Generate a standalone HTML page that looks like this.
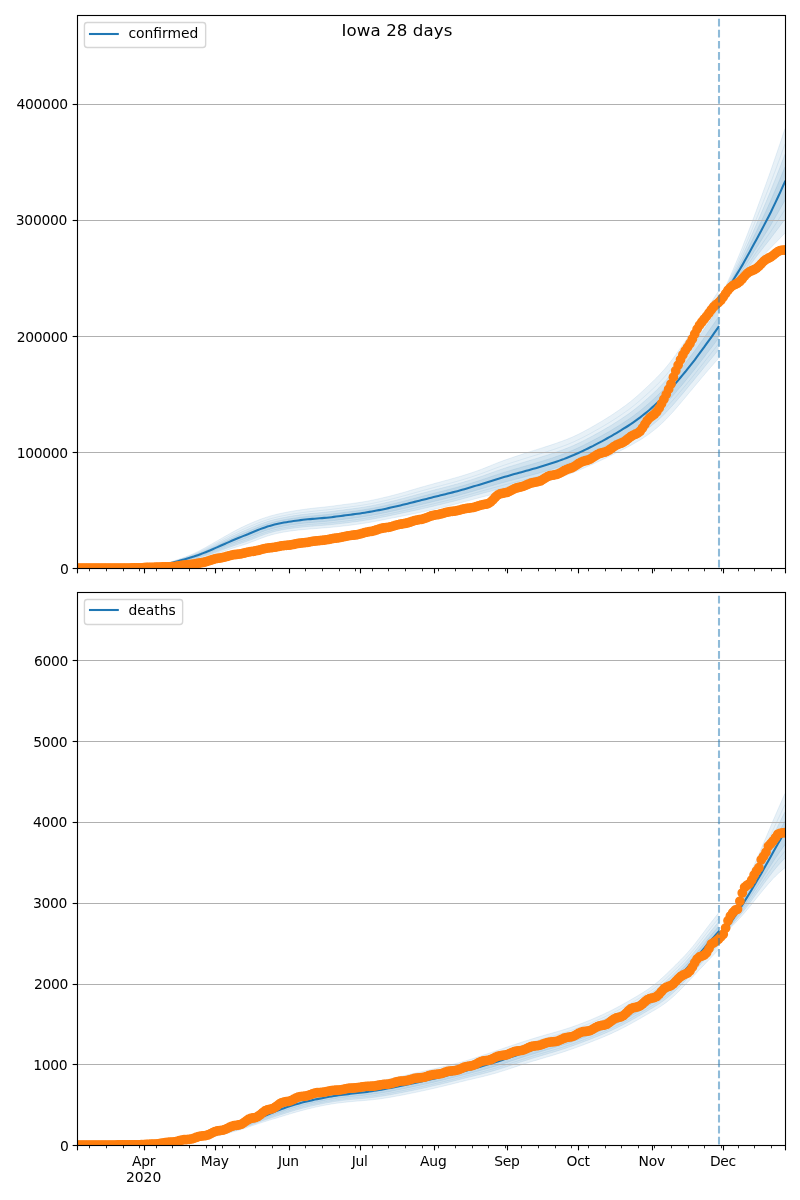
<!DOCTYPE html>
<html lang="en">
<head>
<meta charset="utf-8">
<title>Iowa 28 days</title>
<style>html,body{margin:0;padding:0;background:#fff}svg{display:block}</style>
</head>
<body>
<svg width="800" height="1200" viewBox="0 0 800 1200" font-family="'DejaVu Sans', 'Liberation Sans', sans-serif" font-size="13.89px" fill="#000">
<rect width="800" height="1200" fill="#fff"/>
<clipPath id="c1"><rect x="77.5" y="15.5" width="708" height="553"/></clipPath>
<g clip-path="url(#c1)">
<path d="M77.4 567.8 L79.8 567.8 L82.1 567.8 L84.5 567.8 L86.9 567.79 L89.3 567.79 L91.6 567.79 L94 567.78 L96.4 567.78 L98.8 567.77 L101.1 567.77 L103.5 567.76 L105.9 567.76 L108.3 567.75 L110.6 567.74 L113 567.73 L115.4 567.71 L117.8 567.7 L120.1 567.67 L122.5 567.64 L124.9 567.61 L127.3 567.56 L129.6 567.5 L132 567.43 L134.4 567.34 L136.8 567.24 L139.1 567.11 L141.5 566.96 L143.9 566.78 L146.3 566.56 L148.6 566.31 L151 566.02 L153.4 565.7 L155.8 565.34 L158.1 564.93 L160.5 564.47 L162.9 563.96 L165.3 563.39 L167.6 562.76 L170 562.08 L172.4 561.35 L174.8 560.58 L177.1 559.79 L179.5 558.99 L181.9 558.16 L184.3 557.32 L186.6 556.44 L189 555.51 L191.4 554.53 L193.8 553.49 L196.1 552.38 L198.5 551.2 L200.9 549.98 L203.2 548.71 L205.6 547.41 L208 546.08 L210.4 544.74 L212.7 543.38 L215.1 542.02 L217.5 540.66 L219.9 539.29 L222.2 537.93 L224.6 536.57 L227 535.23 L229.4 533.89 L231.7 532.57 L234.1 531.28 L236.5 530.01 L238.9 528.77 L241.2 527.58 L243.6 526.43 L246 525.32 L248.4 524.25 L250.7 523.21 L253.1 522.2 L255.5 521.22 L257.9 520.27 L260.2 519.36 L262.6 518.5 L265 517.68 L267.4 516.92 L269.7 516.2 L272.1 515.53 L274.5 514.9 L276.9 514.31 L279.2 513.75 L281.6 513.23 L284 512.73 L286.4 512.26 L288.7 511.82 L291.1 511.39 L293.5 510.98 L295.9 510.59 L298.2 510.21 L300.6 509.85 L303 509.51 L305.4 509.18 L307.7 508.87 L310.1 508.57 L312.5 508.29 L314.8 508.02 L317.2 507.77 L319.6 507.52 L322 507.27 L324.3 507.02 L326.7 506.75 L329.1 506.48 L331.5 506.19 L333.8 505.89 L336.2 505.57 L338.6 505.26 L341 504.94 L343.3 504.62 L345.7 504.31 L348.1 504 L350.5 503.7 L352.8 503.39 L355.2 503.07 L357.6 502.73 L360 502.37 L362.3 501.99 L364.7 501.59 L367.1 501.16 L369.5 500.7 L371.8 500.22 L374.2 499.73 L376.6 499.21 L379 498.69 L381.3 498.14 L383.7 497.59 L386.1 497.02 L388.5 496.44 L390.8 495.85 L393.2 495.24 L395.6 494.62 L398 493.98 L400.3 493.32 L402.7 492.65 L405.1 491.97 L407.5 491.27 L409.8 490.57 L412.2 489.86 L414.6 489.15 L417 488.45 L419.3 487.76 L421.7 487.07 L424.1 486.4 L426.5 485.73 L428.8 485.07 L431.2 484.41 L433.6 483.76 L435.9 483.11 L438.3 482.46 L440.7 481.82 L443.1 481.17 L445.4 480.53 L447.8 479.88 L450.2 479.22 L452.6 478.56 L454.9 477.89 L457.3 477.21 L459.7 476.51 L462.1 475.8 L464.4 475.07 L466.8 474.33 L469.2 473.57 L471.6 472.78 L473.9 471.98 L476.3 471.16 L478.7 470.31 L481.1 469.43 L483.4 468.51 L485.8 467.58 L488.2 466.62 L490.6 465.65 L492.9 464.67 L495.3 463.71 L497.7 462.77 L500.1 461.86 L502.4 460.97 L504.8 460.11 L507.2 459.28 L509.6 458.46 L511.9 457.66 L514.3 456.87 L516.7 456.08 L519.1 455.3 L521.4 454.51 L523.8 453.73 L526.2 452.95 L528.6 452.18 L530.9 451.4 L533.3 450.64 L535.7 449.88 L538.1 449.13 L540.4 448.38 L542.8 447.63 L545.2 446.87 L547.6 446.11 L549.9 445.34 L552.3 444.56 L554.7 443.76 L557 442.95 L559.4 442.11 L561.8 441.26 L564.2 440.37 L566.5 439.46 L568.9 438.5 L571.3 437.5 L573.7 436.46 L576 435.37 L578.4 434.23 L580.8 433.04 L583.2 431.81 L585.5 430.53 L587.9 429.23 L590.3 427.89 L592.7 426.54 L595 425.16 L597.4 423.78 L599.8 422.38 L602.2 420.96 L604.5 419.52 L606.9 418.05 L609.3 416.55 L611.7 415.02 L614 413.46 L616.4 411.86 L618.8 410.23 L621.2 408.57 L623.5 406.87 L625.9 405.13 L628.3 403.33 L630.7 401.47 L633 399.53 L635.4 397.52 L637.8 395.45 L640.2 393.31 L642.5 391.14 L644.9 388.93 L647.3 386.71 L649.7 384.46 L652 382.19 L654.4 379.88 L656.8 377.52 L659.2 375.08 L661.5 372.54 L663.9 369.88 L666.3 367.09 L668.6 364.16 L671 361.11 L673.4 357.94 L675.8 354.66 L678.1 351.3 L680.5 347.9 L682.9 344.46 L685.3 341 L687.6 337.55 L690 334.1 L692.4 330.63 L694.8 327.14 L697.1 323.63 L699.5 320.08 L701.9 316.49 L704.3 312.88 L706.6 309.25 L709 305.61 L711.4 301.98 L713.8 298.35 L716.1 294.73 L718.5 291.11 L718.5 358.41 L716.1 361.11 L713.8 363.81 L711.4 366.52 L709 369.26 L706.6 372.02 L704.3 374.79 L701.9 377.6 L699.5 380.42 L697.1 383.25 L694.8 386.09 L692.4 388.94 L690 391.8 L687.6 394.65 L685.3 397.49 L682.9 400.33 L680.5 403.15 L678.1 405.94 L675.8 408.7 L673.4 411.4 L671 414.04 L668.6 416.6 L666.3 419.07 L663.9 421.43 L661.5 423.7 L659.2 425.85 L656.8 427.91 L654.4 429.87 L652 431.74 L649.7 433.53 L647.3 435.24 L644.9 436.87 L642.5 438.44 L640.2 439.93 L637.8 441.37 L635.4 442.76 L633 444.1 L630.7 445.4 L628.3 446.68 L625.9 447.93 L623.5 449.16 L621.2 450.38 L618.8 451.6 L616.4 452.8 L614 454 L611.7 455.18 L609.3 456.35 L606.9 457.51 L604.5 458.65 L602.2 459.77 L599.8 460.89 L597.4 461.99 L595 463.08 L592.7 464.17 L590.3 465.24 L587.9 466.3 L585.5 467.35 L583.2 468.39 L580.8 469.42 L578.4 470.43 L576 471.42 L573.7 472.38 L571.3 473.32 L568.9 474.24 L566.5 475.12 L564.2 475.97 L561.8 476.79 L559.4 477.59 L557 478.37 L554.7 479.13 L552.3 479.87 L549.9 480.59 L547.6 481.29 L545.2 481.98 L542.8 482.64 L540.4 483.28 L538.1 483.9 L535.7 484.5 L533.3 485.08 L530.9 485.65 L528.6 486.2 L526.2 486.75 L523.8 487.29 L521.4 487.82 L519.1 488.36 L516.7 488.89 L514.3 489.43 L511.9 489.97 L509.6 490.51 L507.2 491.05 L504.8 491.6 L502.4 492.14 L500.1 492.69 L497.7 493.24 L495.3 493.8 L492.9 494.36 L490.6 494.93 L488.2 495.5 L485.8 496.08 L483.4 496.68 L481.1 497.29 L478.7 497.91 L476.3 498.54 L473.9 499.18 L471.6 499.82 L469.2 500.47 L466.8 501.11 L464.4 501.76 L462.1 502.4 L459.7 503.03 L457.3 503.66 L454.9 504.27 L452.6 504.88 L450.2 505.48 L447.8 506.07 L445.4 506.65 L443.1 507.23 L440.7 507.8 L438.3 508.37 L435.9 508.93 L433.6 509.48 L431.2 510.02 L428.8 510.55 L426.5 511.08 L424.1 511.6 L421.7 512.11 L419.3 512.61 L417 513.1 L414.6 513.59 L412.2 514.07 L409.8 514.55 L407.5 515.03 L405.1 515.5 L402.7 515.97 L400.3 516.44 L398 516.92 L395.6 517.39 L393.2 517.87 L390.8 518.34 L388.5 518.82 L386.1 519.29 L383.7 519.75 L381.3 520.21 L379 520.67 L376.6 521.12 L374.2 521.56 L371.8 521.99 L369.5 522.41 L367.1 522.81 L364.7 523.2 L362.3 523.57 L360 523.92 L357.6 524.26 L355.2 524.58 L352.8 524.89 L350.5 525.19 L348.1 525.49 L345.7 525.77 L343.3 526.05 L341 526.33 L338.6 526.59 L336.2 526.85 L333.8 527.09 L331.5 527.32 L329.1 527.53 L326.7 527.74 L324.3 527.93 L322 528.11 L319.6 528.29 L317.2 528.47 L314.8 528.65 L312.5 528.84 L310.1 529.03 L307.7 529.23 L305.4 529.43 L303 529.65 L300.6 529.88 L298.2 530.12 L295.9 530.39 L293.5 530.67 L291.1 530.99 L288.7 531.33 L286.4 531.7 L284 532.1 L281.6 532.54 L279.2 533.02 L276.9 533.53 L274.5 534.1 L272.1 534.71 L269.7 535.38 L267.4 536.11 L265 536.9 L262.6 537.75 L260.2 538.64 L257.9 539.57 L255.5 540.51 L253.1 541.44 L250.7 542.35 L248.4 543.22 L246 544.05 L243.6 544.83 L241.2 545.59 L238.9 546.32 L236.5 547.05 L234.1 547.79 L231.7 548.55 L229.4 549.33 L227 550.12 L224.6 550.93 L222.2 551.75 L219.9 552.57 L217.5 553.37 L215.1 554.16 L212.7 554.92 L210.4 555.64 L208 556.32 L205.6 556.96 L203.2 557.56 L200.9 558.13 L198.5 558.66 L196.1 559.17 L193.8 559.67 L191.4 560.14 L189 560.61 L186.6 561.08 L184.3 561.55 L181.9 562.03 L179.5 562.52 L177.1 563.03 L174.8 563.55 L172.4 564.06 L170 564.56 L167.6 565.04 L165.3 565.48 L162.9 565.87 L160.5 566.22 L158.1 566.52 L155.8 566.79 L153.4 567.03 L151 567.24 L148.6 567.42 L146.3 567.58 L143.9 567.72 L141.5 567.84 L139.1 567.94 L136.8 568.02 L134.4 568.09 L132 568.15 L129.6 568.19 L127.3 568.22 L124.9 568.24 L122.5 568.26 L120.1 568.27 L117.8 568.27 L115.4 568.27 L113 568.26 L110.6 568.26 L108.3 568.25 L105.9 568.24 L103.5 568.24 L101.1 568.23 L98.8 568.23 L96.4 568.22 L94 568.22 L91.6 568.21 L89.3 568.21 L86.9 568.21 L84.5 568.2 L82.1 568.2 L79.8 568.2 L77.4 568.2Z" fill="#1f77b4" fill-opacity="0.1"/>
<path d="M718.5 302.09 L720.9 296.94 L723.3 291.76 L725.6 286.53 L728 281.22 L730.4 275.84 L732.8 270.37 L735.1 264.8 L737.5 259.11 L739.9 253.3 L742.3 247.38 L744.6 241.35 L747 235.24 L749.4 229.06 L751.8 222.81 L754.1 216.5 L756.5 210.07 L758.9 203.51 L761.3 197 L763.6 190.48 L766 183.9 L768.4 177.26 L770.8 170.52 L773.1 163.68 L775.5 156.76 L777.9 149.76 L780.3 142.72 L782.6 135.66 L785 128.6 L785 233.11 L782.6 235.48 L780.3 237.91 L777.9 240.38 L775.5 242.86 L773.1 245.33 L770.8 247.79 L768.4 250.22 L766 252.66 L763.6 255.11 L761.3 257.59 L758.9 260.15 L756.5 262.79 L754.1 265.52 L751.8 268.32 L749.4 271.16 L747 274 L744.6 276.82 L742.3 279.55 L739.9 282.14 L737.5 284.6 L735.1 286.95 L732.8 289.2 L730.4 291.37 L728 293.48 L725.6 295.52 L723.3 297.52 L720.9 299.49 L718.5 301.44Z" fill="#1f77b4" fill-opacity="0.1"/>
<path d="M77.4 567.9 L79.8 567.9 L82.1 567.89 L84.5 567.89 L86.9 567.89 L89.3 567.89 L91.6 567.89 L94 567.89 L96.4 567.89 L98.8 567.88 L101.1 567.88 L103.5 567.88 L105.9 567.87 L108.3 567.87 L110.6 567.86 L113 567.86 L115.4 567.85 L117.8 567.83 L120.1 567.82 L122.5 567.79 L124.9 567.76 L127.3 567.72 L129.6 567.67 L132 567.6 L134.4 567.52 L136.8 567.43 L139.1 567.31 L141.5 567.17 L143.9 567 L146.3 566.81 L148.6 566.58 L151 566.32 L153.4 566.02 L155.8 565.69 L158.1 565.31 L160.5 564.89 L162.9 564.42 L165.3 563.89 L167.6 563.31 L170 562.68 L172.4 562 L174.8 561.3 L177.1 560.57 L179.5 559.83 L181.9 559.09 L184.3 558.33 L186.6 557.55 L189 556.74 L191.4 555.88 L193.8 554.97 L196.1 554 L198.5 552.99 L200.9 551.93 L203.2 550.83 L205.6 549.7 L208 548.55 L210.4 547.37 L212.7 546.18 L215.1 544.97 L217.5 543.76 L219.9 542.54 L222.2 541.32 L224.6 540.11 L227 538.9 L229.4 537.7 L231.7 536.52 L234.1 535.36 L236.5 534.22 L238.9 533.11 L241.2 532.03 L243.6 530.97 L246 529.94 L248.4 528.92 L250.7 527.91 L253.1 526.92 L255.5 525.94 L257.9 524.98 L260.2 524.06 L262.6 523.18 L265 522.35 L267.4 521.57 L269.7 520.85 L272.1 520.18 L274.5 519.55 L276.9 518.98 L279.2 518.44 L281.6 517.94 L284 517.46 L286.4 517.02 L288.7 516.6 L291.1 516.2 L293.5 515.82 L295.9 515.46 L298.2 515.11 L300.6 514.78 L303 514.46 L305.4 514.16 L307.7 513.88 L310.1 513.62 L312.5 513.37 L314.8 513.13 L317.2 512.91 L319.6 512.69 L322 512.47 L324.3 512.24 L326.7 511.99 L329.1 511.73 L331.5 511.45 L333.8 511.16 L336.2 510.85 L338.6 510.53 L341 510.22 L343.3 509.9 L345.7 509.59 L348.1 509.29 L350.5 508.98 L352.8 508.67 L355.2 508.35 L357.6 508.02 L360 507.68 L362.3 507.31 L364.7 506.92 L367.1 506.51 L369.5 506.08 L371.8 505.63 L374.2 505.16 L376.6 504.68 L379 504.18 L381.3 503.67 L383.7 503.15 L386.1 502.61 L388.5 502.06 L390.8 501.49 L393.2 500.92 L395.6 500.33 L398 499.73 L400.3 499.12 L402.7 498.49 L405.1 497.86 L407.5 497.21 L409.8 496.56 L412.2 495.91 L414.6 495.26 L417 494.61 L419.3 493.96 L421.7 493.32 L424.1 492.68 L426.5 492.05 L428.8 491.42 L431.2 490.79 L433.6 490.17 L435.9 489.55 L438.3 488.93 L440.7 488.31 L443.1 487.69 L445.4 487.07 L447.8 486.45 L450.2 485.83 L452.6 485.19 L454.9 484.55 L457.3 483.89 L459.7 483.22 L462.1 482.54 L464.4 481.84 L466.8 481.12 L469.2 480.39 L471.6 479.64 L473.9 478.88 L476.3 478.1 L478.7 477.31 L481.1 476.49 L483.4 475.66 L485.8 474.82 L488.2 473.96 L490.6 473.09 L492.9 472.23 L495.3 471.38 L497.7 470.54 L500.1 469.72 L502.4 468.92 L504.8 468.14 L507.2 467.37 L509.6 466.62 L511.9 465.88 L514.3 465.14 L516.7 464.42 L519.1 463.69 L521.4 462.97 L523.8 462.25 L526.2 461.53 L528.6 460.81 L530.9 460.1 L533.3 459.38 L535.7 458.66 L538.1 457.94 L540.4 457.22 L542.8 456.48 L545.2 455.74 L547.6 454.98 L549.9 454.22 L552.3 453.44 L554.7 452.64 L557 451.83 L559.4 451 L561.8 450.14 L564.2 449.26 L566.5 448.35 L568.9 447.4 L571.3 446.41 L573.7 445.39 L576 444.32 L578.4 443.21 L580.8 442.07 L583.2 440.89 L585.5 439.68 L587.9 438.45 L590.3 437.19 L592.7 435.91 L595 434.61 L597.4 433.3 L599.8 431.97 L602.2 430.62 L604.5 429.25 L606.9 427.86 L609.3 426.44 L611.7 425 L614 423.52 L616.4 422.02 L618.8 420.5 L621.2 418.95 L623.5 417.37 L625.9 415.75 L628.3 414.09 L630.7 412.37 L633 410.59 L635.4 408.75 L637.8 406.84 L640.2 404.88 L642.5 402.86 L644.9 400.8 L647.3 398.71 L649.7 396.58 L652 394.4 L654.4 392.19 L656.8 389.91 L659.2 387.55 L661.5 385.11 L663.9 382.56 L666.3 379.91 L668.6 377.16 L671 374.3 L673.4 371.35 L675.8 368.33 L678.1 365.25 L680.5 362.12 L682.9 358.95 L685.3 355.77 L687.6 352.57 L690 349.35 L692.4 346.1 L694.8 342.81 L697.1 339.48 L699.5 336.1 L701.9 332.68 L704.3 329.23 L706.6 325.76 L709 322.28 L711.4 318.8 L713.8 315.32 L716.1 311.84 L718.5 308.37 L718.5 349.95 L716.1 352.81 L713.8 355.68 L711.4 358.56 L709 361.45 L706.6 364.36 L704.3 367.28 L701.9 370.21 L699.5 373.14 L697.1 376.07 L694.8 378.99 L692.4 381.9 L690 384.79 L687.6 387.68 L685.3 390.55 L682.9 393.4 L680.5 396.23 L678.1 399.03 L675.8 401.8 L673.4 404.52 L671 407.17 L668.6 409.75 L666.3 412.25 L663.9 414.65 L661.5 416.95 L659.2 419.16 L656.8 421.27 L654.4 423.29 L652 425.23 L649.7 427.1 L647.3 428.89 L644.9 430.61 L642.5 432.26 L640.2 433.85 L637.8 435.38 L635.4 436.86 L633 438.29 L630.7 439.68 L628.3 441.03 L625.9 442.35 L623.5 443.65 L621.2 444.93 L618.8 446.2 L616.4 447.46 L614 448.71 L611.7 449.95 L609.3 451.17 L606.9 452.37 L604.5 453.56 L602.2 454.73 L599.8 455.88 L597.4 457.03 L595 458.16 L592.7 459.28 L590.3 460.38 L587.9 461.48 L585.5 462.56 L583.2 463.62 L580.8 464.67 L578.4 465.71 L576 466.72 L573.7 467.71 L571.3 468.66 L568.9 469.59 L566.5 470.49 L564.2 471.36 L561.8 472.2 L559.4 473.01 L557 473.8 L554.7 474.58 L552.3 475.33 L549.9 476.07 L547.6 476.79 L545.2 477.49 L542.8 478.17 L540.4 478.83 L538.1 479.47 L535.7 480.09 L533.3 480.7 L530.9 481.29 L528.6 481.87 L526.2 482.45 L523.8 483.02 L521.4 483.58 L519.1 484.15 L516.7 484.72 L514.3 485.29 L511.9 485.87 L509.6 486.44 L507.2 487.02 L504.8 487.61 L502.4 488.2 L500.1 488.79 L497.7 489.39 L495.3 489.99 L492.9 490.6 L490.6 491.21 L488.2 491.83 L485.8 492.46 L483.4 493.09 L481.1 493.74 L478.7 494.39 L476.3 495.05 L473.9 495.71 L471.6 496.38 L469.2 497.04 L466.8 497.7 L464.4 498.36 L462.1 499.01 L459.7 499.65 L457.3 500.28 L454.9 500.9 L452.6 501.5 L450.2 502.1 L447.8 502.69 L445.4 503.28 L443.1 503.86 L440.7 504.44 L438.3 505.01 L435.9 505.58 L433.6 506.14 L431.2 506.7 L428.8 507.24 L426.5 507.79 L424.1 508.33 L421.7 508.86 L419.3 509.39 L417 509.91 L414.6 510.43 L412.2 510.94 L409.8 511.45 L407.5 511.95 L405.1 512.46 L402.7 512.96 L400.3 513.46 L398 513.96 L395.6 514.46 L393.2 514.95 L390.8 515.45 L388.5 515.93 L386.1 516.42 L383.7 516.89 L381.3 517.37 L379 517.83 L376.6 518.28 L374.2 518.72 L371.8 519.15 L369.5 519.57 L367.1 519.97 L364.7 520.36 L362.3 520.73 L360 521.08 L357.6 521.42 L355.2 521.75 L352.8 522.06 L350.5 522.36 L348.1 522.66 L345.7 522.95 L343.3 523.24 L341 523.52 L338.6 523.8 L336.2 524.07 L333.8 524.33 L331.5 524.57 L329.1 524.8 L326.7 525.02 L324.3 525.22 L322 525.41 L319.6 525.59 L317.2 525.77 L314.8 525.96 L312.5 526.15 L310.1 526.34 L307.7 526.55 L305.4 526.77 L303 527 L300.6 527.24 L298.2 527.5 L295.9 527.78 L293.5 528.08 L291.1 528.4 L288.7 528.75 L286.4 529.13 L284 529.54 L281.6 529.98 L279.2 530.45 L276.9 530.97 L274.5 531.53 L272.1 532.15 L269.7 532.82 L267.4 533.55 L265 534.34 L262.6 535.18 L260.2 536.08 L257.9 537.01 L255.5 537.95 L253.1 538.9 L250.7 539.83 L248.4 540.73 L246 541.59 L243.6 542.42 L241.2 543.23 L238.9 544.02 L236.5 544.82 L234.1 545.63 L231.7 546.46 L229.4 547.3 L227 548.17 L224.6 549.04 L222.2 549.93 L219.9 550.81 L217.5 551.68 L215.1 552.54 L212.7 553.38 L210.4 554.18 L208 554.94 L205.6 555.67 L203.2 556.37 L200.9 557.02 L198.5 557.65 L196.1 558.25 L193.8 558.83 L191.4 559.39 L189 559.93 L186.6 560.45 L184.3 560.98 L181.9 561.51 L179.5 562.05 L177.1 562.59 L174.8 563.15 L172.4 563.7 L170 564.23 L167.6 564.73 L165.3 565.19 L162.9 565.61 L160.5 565.98 L158.1 566.31 L155.8 566.6 L153.4 566.85 L151 567.07 L148.6 567.27 L146.3 567.44 L143.9 567.59 L141.5 567.72 L139.1 567.83 L136.8 567.92 L134.4 567.99 L132 568.05 L129.6 568.1 L127.3 568.13 L124.9 568.16 L122.5 568.18 L120.1 568.19 L117.8 568.19 L115.4 568.19 L113 568.19 L110.6 568.19 L108.3 568.18 L105.9 568.18 L103.5 568.17 L101.1 568.17 L98.8 568.17 L96.4 568.16 L94 568.16 L91.6 568.16 L89.3 568.15 L86.9 568.15 L84.5 568.15 L82.1 568.15 L79.8 568.15 L77.4 568.15Z" fill="#1f77b4" fill-opacity="0.1"/>
<path d="M718.5 301.92 L720.9 297.62 L723.3 293.29 L725.6 288.91 L728 284.47 L730.4 279.95 L732.8 275.35 L735.1 270.66 L737.5 265.86 L739.9 260.94 L742.3 255.9 L744.6 250.77 L747 245.55 L749.4 240.27 L751.8 234.95 L754.1 229.58 L756.5 224.15 L758.9 218.63 L761.3 213.12 L763.6 207.59 L766 201.99 L768.4 196.31 L770.8 190.53 L773.1 184.64 L775.5 178.65 L777.9 172.58 L780.3 166.45 L782.6 160.28 L785 154.1 L785 219.24 L782.6 222.38 L780.3 225.55 L777.9 228.75 L775.5 231.92 L773.1 235.07 L770.8 238.18 L768.4 241.24 L766 244.27 L763.6 247.28 L761.3 250.3 L758.9 253.36 L756.5 256.48 L754.1 259.65 L751.8 262.86 L749.4 266.1 L747 269.34 L744.6 272.54 L742.3 275.66 L739.9 278.65 L737.5 281.51 L735.1 284.27 L732.8 286.92 L730.4 289.49 L728 291.99 L725.6 294.43 L723.3 296.82 L720.9 299.18 L718.5 301.52Z" fill="#1f77b4" fill-opacity="0.1"/>
<path d="M77.4 567.94 L79.8 567.94 L82.1 567.94 L84.5 567.94 L86.9 567.94 L89.3 567.94 L91.6 567.94 L94 567.94 L96.4 567.94 L98.8 567.94 L101.1 567.94 L103.5 567.93 L105.9 567.93 L108.3 567.93 L110.6 567.93 L113 567.92 L115.4 567.91 L117.8 567.9 L120.1 567.89 L122.5 567.87 L124.9 567.84 L127.3 567.8 L129.6 567.75 L132 567.69 L134.4 567.61 L136.8 567.52 L139.1 567.41 L141.5 567.28 L143.9 567.12 L146.3 566.93 L148.6 566.71 L151 566.46 L153.4 566.18 L155.8 565.86 L158.1 565.5 L160.5 565.1 L162.9 564.65 L165.3 564.14 L167.6 563.58 L170 562.97 L172.4 562.33 L174.8 561.65 L177.1 560.96 L179.5 560.26 L181.9 559.55 L184.3 558.84 L186.6 558.11 L189 557.35 L191.4 556.55 L193.8 555.71 L196.1 554.82 L198.5 553.88 L200.9 552.9 L203.2 551.89 L205.6 550.85 L208 549.78 L210.4 548.68 L212.7 547.57 L215.1 546.44 L217.5 545.31 L219.9 544.16 L222.2 543.02 L224.6 541.87 L227 540.74 L229.4 539.61 L231.7 538.49 L234.1 537.4 L236.5 536.32 L238.9 535.27 L241.2 534.25 L243.6 533.24 L246 532.24 L248.4 531.25 L250.7 530.26 L253.1 529.28 L255.5 528.3 L257.9 527.34 L260.2 526.41 L262.6 525.52 L265 524.68 L267.4 523.9 L269.7 523.17 L272.1 522.5 L274.5 521.88 L276.9 521.31 L279.2 520.78 L281.6 520.29 L284 519.83 L286.4 519.4 L288.7 518.99 L291.1 518.61 L293.5 518.24 L295.9 517.89 L298.2 517.56 L300.6 517.24 L303 516.94 L305.4 516.66 L307.7 516.39 L310.1 516.14 L312.5 515.91 L314.8 515.69 L317.2 515.48 L319.6 515.27 L322 515.06 L324.3 514.85 L326.7 514.61 L329.1 514.36 L331.5 514.09 L333.8 513.79 L336.2 513.49 L338.6 513.17 L341 512.85 L343.3 512.54 L345.7 512.23 L348.1 511.93 L350.5 511.62 L352.8 511.31 L355.2 511 L357.6 510.67 L360 510.33 L362.3 509.97 L364.7 509.58 L367.1 509.19 L369.5 508.77 L371.8 508.33 L374.2 507.88 L376.6 507.41 L379 506.93 L381.3 506.44 L383.7 505.93 L386.1 505.4 L388.5 504.87 L390.8 504.32 L393.2 503.76 L395.6 503.19 L398 502.6 L400.3 502.01 L402.7 501.41 L405.1 500.8 L407.5 500.18 L409.8 499.56 L412.2 498.94 L414.6 498.31 L417 497.68 L419.3 497.06 L421.7 496.44 L424.1 495.82 L426.5 495.2 L428.8 494.59 L431.2 493.98 L433.6 493.37 L435.9 492.76 L438.3 492.16 L440.7 491.55 L443.1 490.95 L445.4 490.34 L447.8 489.74 L450.2 489.13 L452.6 488.51 L454.9 487.88 L457.3 487.24 L459.7 486.58 L462.1 485.91 L464.4 485.22 L466.8 484.52 L469.2 483.8 L471.6 483.07 L473.9 482.33 L476.3 481.57 L478.7 480.8 L481.1 480.03 L483.4 479.23 L485.8 478.43 L488.2 477.63 L490.6 476.82 L492.9 476.01 L495.3 475.21 L497.7 474.43 L500.1 473.65 L502.4 472.89 L504.8 472.15 L507.2 471.42 L509.6 470.7 L511.9 469.99 L514.3 469.28 L516.7 468.58 L519.1 467.89 L521.4 467.2 L523.8 466.51 L526.2 465.82 L528.6 465.13 L530.9 464.44 L533.3 463.75 L535.7 463.05 L538.1 462.35 L540.4 461.64 L542.8 460.91 L545.2 460.17 L547.6 459.42 L549.9 458.66 L552.3 457.88 L554.7 457.08 L557 456.27 L559.4 455.44 L561.8 454.58 L564.2 453.7 L566.5 452.79 L568.9 451.85 L571.3 450.87 L573.7 449.85 L576 448.8 L578.4 447.71 L580.8 446.59 L583.2 445.44 L585.5 444.26 L587.9 443.06 L590.3 441.83 L592.7 440.59 L595 439.33 L597.4 438.06 L599.8 436.76 L602.2 435.45 L604.5 434.12 L606.9 432.77 L609.3 431.39 L611.7 429.98 L614 428.56 L616.4 427.1 L618.8 425.63 L621.2 424.14 L623.5 422.62 L625.9 421.06 L628.3 419.47 L630.7 417.83 L633 416.13 L635.4 414.36 L637.8 412.54 L640.2 410.66 L642.5 408.72 L644.9 406.74 L647.3 404.71 L649.7 402.63 L652 400.51 L654.4 398.34 L656.8 396.1 L659.2 393.79 L661.5 391.39 L663.9 388.91 L666.3 386.33 L668.6 383.65 L671 380.9 L673.4 378.06 L675.8 375.17 L678.1 372.22 L680.5 369.23 L682.9 366.2 L685.3 363.15 L687.6 360.08 L690 356.97 L692.4 353.83 L694.8 350.64 L697.1 347.4 L699.5 344.11 L701.9 340.78 L704.3 337.41 L706.6 334.02 L709 330.62 L711.4 327.21 L713.8 323.8 L716.1 320.4 L718.5 317 L718.5 338.35 L716.1 341.44 L713.8 344.54 L711.4 347.64 L709 350.75 L706.6 353.86 L704.3 356.98 L701.9 360.08 L699.5 363.16 L697.1 366.22 L694.8 369.25 L692.4 372.24 L690 375.2 L687.6 378.13 L685.3 381.03 L682.9 383.9 L680.5 386.75 L678.1 389.56 L675.8 392.34 L673.4 395.08 L671 397.75 L668.6 400.37 L666.3 402.9 L663.9 405.35 L661.5 407.72 L659.2 409.99 L656.8 412.18 L654.4 414.28 L652 416.31 L649.7 418.28 L647.3 420.18 L644.9 422.02 L642.5 423.8 L640.2 425.52 L637.8 427.17 L635.4 428.78 L633 430.33 L630.7 431.83 L628.3 433.28 L625.9 434.7 L623.5 436.09 L621.2 437.46 L618.8 438.81 L616.4 440.15 L614 441.47 L611.7 442.78 L609.3 444.07 L606.9 445.34 L604.5 446.58 L602.2 447.81 L599.8 449.03 L597.4 450.23 L595 451.41 L592.7 452.58 L590.3 453.73 L587.9 454.87 L585.5 455.99 L583.2 457.09 L580.8 458.18 L578.4 459.24 L576 460.28 L573.7 461.3 L571.3 462.28 L568.9 463.23 L566.5 464.15 L564.2 465.04 L561.8 465.9 L559.4 466.73 L557 467.54 L554.7 468.33 L552.3 469.11 L549.9 469.87 L547.6 470.61 L545.2 471.33 L542.8 472.04 L540.4 472.73 L538.1 473.4 L535.7 474.05 L533.3 474.69 L530.9 475.32 L528.6 475.94 L526.2 476.55 L523.8 477.17 L521.4 477.78 L519.1 478.39 L516.7 479.01 L514.3 479.62 L511.9 480.25 L509.6 480.87 L507.2 481.51 L504.8 482.14 L502.4 482.79 L500.1 483.44 L497.7 484.1 L495.3 484.77 L492.9 485.44 L490.6 486.12 L488.2 486.8 L485.8 487.49 L483.4 488.18 L481.1 488.88 L478.7 489.57 L476.3 490.27 L473.9 490.97 L471.6 491.66 L469.2 492.35 L466.8 493.03 L464.4 493.7 L462.1 494.36 L459.7 495.01 L457.3 495.64 L454.9 496.27 L452.6 496.88 L450.2 497.48 L447.8 498.07 L445.4 498.66 L443.1 499.24 L440.7 499.83 L438.3 500.41 L435.9 500.99 L433.6 501.56 L431.2 502.14 L428.8 502.71 L426.5 503.28 L424.1 503.84 L421.7 504.41 L419.3 504.97 L417 505.53 L414.6 506.09 L412.2 506.64 L409.8 507.2 L407.5 507.75 L405.1 508.29 L402.7 508.83 L400.3 509.37 L398 509.9 L395.6 510.43 L393.2 510.96 L390.8 511.47 L388.5 511.98 L386.1 512.49 L383.7 512.98 L381.3 513.46 L379 513.93 L376.6 514.39 L374.2 514.83 L371.8 515.27 L369.5 515.68 L367.1 516.09 L364.7 516.47 L362.3 516.85 L360 517.2 L357.6 517.54 L355.2 517.86 L352.8 518.17 L350.5 518.48 L348.1 518.78 L345.7 519.08 L343.3 519.38 L341 519.68 L338.6 519.97 L336.2 520.27 L333.8 520.55 L331.5 520.81 L329.1 521.06 L326.7 521.29 L324.3 521.5 L322 521.7 L319.6 521.89 L317.2 522.08 L314.8 522.26 L312.5 522.46 L310.1 522.66 L307.7 522.88 L305.4 523.12 L303 523.36 L300.6 523.63 L298.2 523.91 L295.9 524.21 L293.5 524.52 L291.1 524.86 L288.7 525.22 L286.4 525.6 L284 526.02 L281.6 526.46 L279.2 526.94 L276.9 527.45 L274.5 528.02 L272.1 528.63 L269.7 529.3 L267.4 530.03 L265 530.82 L262.6 531.67 L260.2 532.57 L257.9 533.5 L255.5 534.46 L253.1 535.42 L250.7 536.37 L248.4 537.3 L246 538.22 L243.6 539.11 L241.2 539.99 L238.9 540.87 L236.5 541.76 L234.1 542.67 L231.7 543.59 L229.4 544.53 L227 545.49 L224.6 546.45 L222.2 547.43 L219.9 548.4 L217.5 549.37 L215.1 550.32 L212.7 551.26 L210.4 552.17 L208 553.05 L205.6 553.91 L203.2 554.73 L200.9 555.51 L198.5 556.27 L196.1 556.99 L193.8 557.68 L191.4 558.35 L189 558.98 L186.6 559.59 L184.3 560.19 L181.9 560.79 L179.5 561.39 L177.1 561.99 L174.8 562.6 L172.4 563.19 L170 563.77 L167.6 564.31 L165.3 564.81 L162.9 565.26 L160.5 565.66 L158.1 566.01 L155.8 566.33 L153.4 566.6 L151 566.85 L148.6 567.07 L146.3 567.26 L143.9 567.42 L141.5 567.56 L139.1 567.68 L136.8 567.77 L134.4 567.85 L132 567.92 L129.6 567.97 L127.3 568.01 L124.9 568.04 L122.5 568.06 L120.1 568.08 L117.8 568.09 L115.4 568.09 L113 568.09 L110.6 568.09 L108.3 568.09 L105.9 568.09 L103.5 568.09 L101.1 568.08 L98.8 568.08 L96.4 568.08 L94 568.08 L91.6 568.08 L89.3 568.08 L86.9 568.07 L84.5 568.07 L82.1 568.07 L79.8 568.07 L77.4 568.07Z" fill="#1f77b4" fill-opacity="0.1"/>
<path d="M718.5 301.84 L720.9 297.95 L723.3 294.05 L725.6 290.1 L728 286.09 L730.4 282.01 L732.8 277.85 L735.1 273.59 L737.5 269.24 L739.9 264.76 L742.3 260.16 L744.6 255.47 L747 250.7 L749.4 245.88 L751.8 241.02 L754.1 236.12 L756.5 231.18 L758.9 226.19 L761.3 221.19 L763.6 216.14 L766 211.03 L768.4 205.83 L770.8 200.53 L773.1 195.12 L775.5 189.6 L777.9 183.99 L780.3 178.31 L782.6 172.59 L785 166.85 L785 200.22 L782.6 204.42 L780.3 208.62 L777.9 212.81 L775.5 216.94 L773.1 221.02 L770.8 225.01 L768.4 228.93 L766 232.77 L763.6 236.55 L761.3 240.31 L758.9 244.06 L756.5 247.82 L754.1 251.59 L751.8 255.38 L749.4 259.16 L747 262.94 L744.6 266.67 L742.3 270.33 L739.9 273.87 L737.5 277.28 L735.1 280.59 L732.8 283.8 L730.4 286.91 L728 289.96 L725.6 292.94 L723.3 295.87 L720.9 298.76 L718.5 301.63Z" fill="#1f77b4" fill-opacity="0.1"/>
<path d="M77.4 567.8 L79.8 567.8 L82.1 567.8 L84.5 567.8 L86.9 567.79 L89.3 567.79 L91.6 567.79 L94 567.78 L96.4 567.78 L98.8 567.77 L101.1 567.77 L103.5 567.76 L105.9 567.76 L108.3 567.75 L110.6 567.74 L113 567.73 L115.4 567.71 L117.8 567.7 L120.1 567.67 L122.5 567.64 L124.9 567.61 L127.3 567.56 L129.6 567.5 L132 567.43 L134.4 567.34 L136.8 567.24 L139.1 567.11 L141.5 566.96 L143.9 566.78 L146.3 566.56 L148.6 566.31 L151 566.02 L153.4 565.7 L155.8 565.34 L158.1 564.93 L160.5 564.47 L162.9 563.96 L165.3 563.39 L167.6 562.76 L170 562.08 L172.4 561.35 L174.8 560.58 L177.1 559.79 L179.5 558.99 L181.9 558.16 L184.3 557.32 L186.6 556.44 L189 555.51 L191.4 554.53 L193.8 553.49 L196.1 552.38 L198.5 551.2 L200.9 549.98 L203.2 548.71 L205.6 547.41 L208 546.08 L210.4 544.74 L212.7 543.38 L215.1 542.02 L217.5 540.66 L219.9 539.29 L222.2 537.93 L224.6 536.57 L227 535.23 L229.4 533.89 L231.7 532.57 L234.1 531.28 L236.5 530.01 L238.9 528.77 L241.2 527.58 L243.6 526.43 L246 525.32 L248.4 524.25 L250.7 523.21 L253.1 522.2 L255.5 521.22 L257.9 520.27 L260.2 519.36 L262.6 518.5 L265 517.68 L267.4 516.92 L269.7 516.2 L272.1 515.53 L274.5 514.9 L276.9 514.31 L279.2 513.75 L281.6 513.23 L284 512.73 L286.4 512.26 L288.7 511.82 L291.1 511.39 L293.5 510.98 L295.9 510.59 L298.2 510.21 L300.6 509.85 L303 509.51 L305.4 509.18 L307.7 508.87 L310.1 508.57 L312.5 508.29 L314.8 508.02 L317.2 507.77 L319.6 507.52 L322 507.27 L324.3 507.02 L326.7 506.75 L329.1 506.48 L331.5 506.19 L333.8 505.89 L336.2 505.57 L338.6 505.26 L341 504.94 L343.3 504.62 L345.7 504.31 L348.1 504 L350.5 503.7 L352.8 503.39 L355.2 503.07 L357.6 502.73 L360 502.37 L362.3 501.99 L364.7 501.59 L367.1 501.16 L369.5 500.7 L371.8 500.22 L374.2 499.73 L376.6 499.21 L379 498.69 L381.3 498.14 L383.7 497.59 L386.1 497.02 L388.5 496.44 L390.8 495.85 L393.2 495.24 L395.6 494.62 L398 493.98 L400.3 493.32 L402.7 492.65 L405.1 491.97 L407.5 491.27 L409.8 490.57 L412.2 489.86 L414.6 489.15 L417 488.45 L419.3 487.76 L421.7 487.07 L424.1 486.4 L426.5 485.73 L428.8 485.07 L431.2 484.41 L433.6 483.76 L435.9 483.11 L438.3 482.46 L440.7 481.82 L443.1 481.17 L445.4 480.53 L447.8 479.88 L450.2 479.22 L452.6 478.56 L454.9 477.89 L457.3 477.21 L459.7 476.51 L462.1 475.8 L464.4 475.07 L466.8 474.33 L469.2 473.57 L471.6 472.78 L473.9 471.98 L476.3 471.16 L478.7 470.31 L481.1 469.43 L483.4 468.51 L485.8 467.58 L488.2 466.62 L490.6 465.65 L492.9 464.67 L495.3 463.71 L497.7 462.77 L500.1 461.86 L502.4 460.97 L504.8 460.11 L507.2 459.28 L509.6 458.46 L511.9 457.66 L514.3 456.87 L516.7 456.08 L519.1 455.3 L521.4 454.51 L523.8 453.73 L526.2 452.95 L528.6 452.18 L530.9 451.4 L533.3 450.64 L535.7 449.88 L538.1 449.13 L540.4 448.38 L542.8 447.63 L545.2 446.87 L547.6 446.11 L549.9 445.34 L552.3 444.56 L554.7 443.76 L557 442.95 L559.4 442.11 L561.8 441.26 L564.2 440.37 L566.5 439.46 L568.9 438.5 L571.3 437.5 L573.7 436.46 L576 435.37 L578.4 434.23 L580.8 433.04 L583.2 431.81 L585.5 430.53 L587.9 429.23 L590.3 427.89 L592.7 426.54 L595 425.16 L597.4 423.78 L599.8 422.38 L602.2 420.96 L604.5 419.52 L606.9 418.05 L609.3 416.55 L611.7 415.02 L614 413.46 L616.4 411.86 L618.8 410.23 L621.2 408.57 L623.5 406.87 L625.9 405.13 L628.3 403.33 L630.7 401.47 L633 399.53 L635.4 397.52 L637.8 395.45 L640.2 393.31 L642.5 391.14 L644.9 388.93 L647.3 386.71 L649.7 384.46 L652 382.19 L654.4 379.88 L656.8 377.52 L659.2 375.08 L661.5 372.54 L663.9 369.88 L666.3 367.09 L668.6 364.16 L671 361.11 L673.4 357.94 L675.8 354.66 L678.1 351.3 L680.5 347.9 L682.9 344.46 L685.3 341 L687.6 337.55 L690 334.1 L692.4 330.63 L694.8 327.14 L697.1 323.63 L699.5 320.08 L701.9 316.49 L704.3 312.88 L706.6 309.25 L709 305.61 L711.4 301.98 L713.8 298.35 L716.1 294.73 L718.5 291.11 M77.4 568.2 L79.8 568.2 L82.1 568.2 L84.5 568.2 L86.9 568.21 L89.3 568.21 L91.6 568.21 L94 568.22 L96.4 568.22 L98.8 568.23 L101.1 568.23 L103.5 568.24 L105.9 568.24 L108.3 568.25 L110.6 568.26 L113 568.26 L115.4 568.27 L117.8 568.27 L120.1 568.27 L122.5 568.26 L124.9 568.24 L127.3 568.22 L129.6 568.19 L132 568.15 L134.4 568.09 L136.8 568.02 L139.1 567.94 L141.5 567.84 L143.9 567.72 L146.3 567.58 L148.6 567.42 L151 567.24 L153.4 567.03 L155.8 566.79 L158.1 566.52 L160.5 566.22 L162.9 565.87 L165.3 565.48 L167.6 565.04 L170 564.56 L172.4 564.06 L174.8 563.55 L177.1 563.03 L179.5 562.52 L181.9 562.03 L184.3 561.55 L186.6 561.08 L189 560.61 L191.4 560.14 L193.8 559.67 L196.1 559.17 L198.5 558.66 L200.9 558.13 L203.2 557.56 L205.6 556.96 L208 556.32 L210.4 555.64 L212.7 554.92 L215.1 554.16 L217.5 553.37 L219.9 552.57 L222.2 551.75 L224.6 550.93 L227 550.12 L229.4 549.33 L231.7 548.55 L234.1 547.79 L236.5 547.05 L238.9 546.32 L241.2 545.59 L243.6 544.83 L246 544.05 L248.4 543.22 L250.7 542.35 L253.1 541.44 L255.5 540.51 L257.9 539.57 L260.2 538.64 L262.6 537.75 L265 536.9 L267.4 536.11 L269.7 535.38 L272.1 534.71 L274.5 534.1 L276.9 533.53 L279.2 533.02 L281.6 532.54 L284 532.1 L286.4 531.7 L288.7 531.33 L291.1 530.99 L293.5 530.67 L295.9 530.39 L298.2 530.12 L300.6 529.88 L303 529.65 L305.4 529.43 L307.7 529.23 L310.1 529.03 L312.5 528.84 L314.8 528.65 L317.2 528.47 L319.6 528.29 L322 528.11 L324.3 527.93 L326.7 527.74 L329.1 527.53 L331.5 527.32 L333.8 527.09 L336.2 526.85 L338.6 526.59 L341 526.33 L343.3 526.05 L345.7 525.77 L348.1 525.49 L350.5 525.19 L352.8 524.89 L355.2 524.58 L357.6 524.26 L360 523.92 L362.3 523.57 L364.7 523.2 L367.1 522.81 L369.5 522.41 L371.8 521.99 L374.2 521.56 L376.6 521.12 L379 520.67 L381.3 520.21 L383.7 519.75 L386.1 519.29 L388.5 518.82 L390.8 518.34 L393.2 517.87 L395.6 517.39 L398 516.92 L400.3 516.44 L402.7 515.97 L405.1 515.5 L407.5 515.03 L409.8 514.55 L412.2 514.07 L414.6 513.59 L417 513.1 L419.3 512.61 L421.7 512.11 L424.1 511.6 L426.5 511.08 L428.8 510.55 L431.2 510.02 L433.6 509.48 L435.9 508.93 L438.3 508.37 L440.7 507.8 L443.1 507.23 L445.4 506.65 L447.8 506.07 L450.2 505.48 L452.6 504.88 L454.9 504.27 L457.3 503.66 L459.7 503.03 L462.1 502.4 L464.4 501.76 L466.8 501.11 L469.2 500.47 L471.6 499.82 L473.9 499.18 L476.3 498.54 L478.7 497.91 L481.1 497.29 L483.4 496.68 L485.8 496.08 L488.2 495.5 L490.6 494.93 L492.9 494.36 L495.3 493.8 L497.7 493.24 L500.1 492.69 L502.4 492.14 L504.8 491.6 L507.2 491.05 L509.6 490.51 L511.9 489.97 L514.3 489.43 L516.7 488.89 L519.1 488.36 L521.4 487.82 L523.8 487.29 L526.2 486.75 L528.6 486.2 L530.9 485.65 L533.3 485.08 L535.7 484.5 L538.1 483.9 L540.4 483.28 L542.8 482.64 L545.2 481.98 L547.6 481.29 L549.9 480.59 L552.3 479.87 L554.7 479.13 L557 478.37 L559.4 477.59 L561.8 476.79 L564.2 475.97 L566.5 475.12 L568.9 474.24 L571.3 473.32 L573.7 472.38 L576 471.42 L578.4 470.43 L580.8 469.42 L583.2 468.39 L585.5 467.35 L587.9 466.3 L590.3 465.24 L592.7 464.17 L595 463.08 L597.4 461.99 L599.8 460.89 L602.2 459.77 L604.5 458.65 L606.9 457.51 L609.3 456.35 L611.7 455.18 L614 454 L616.4 452.8 L618.8 451.6 L621.2 450.38 L623.5 449.16 L625.9 447.93 L628.3 446.68 L630.7 445.4 L633 444.1 L635.4 442.76 L637.8 441.37 L640.2 439.93 L642.5 438.44 L644.9 436.87 L647.3 435.24 L649.7 433.53 L652 431.74 L654.4 429.87 L656.8 427.91 L659.2 425.85 L661.5 423.7 L663.9 421.43 L666.3 419.07 L668.6 416.6 L671 414.04 L673.4 411.4 L675.8 408.7 L678.1 405.94 L680.5 403.15 L682.9 400.33 L685.3 397.49 L687.6 394.65 L690 391.8 L692.4 388.94 L694.8 386.09 L697.1 383.25 L699.5 380.42 L701.9 377.6 L704.3 374.79 L706.6 372.02 L709 369.26 L711.4 366.52 L713.8 363.81 L716.1 361.11 L718.5 358.41" fill="none" stroke="#1f77b4" stroke-opacity="0.12" stroke-width="0.8" stroke-linejoin="round"/>
<path d="M718.5 302.09 L720.9 296.94 L723.3 291.76 L725.6 286.53 L728 281.22 L730.4 275.84 L732.8 270.37 L735.1 264.8 L737.5 259.11 L739.9 253.3 L742.3 247.38 L744.6 241.35 L747 235.24 L749.4 229.06 L751.8 222.81 L754.1 216.5 L756.5 210.07 L758.9 203.51 L761.3 197 L763.6 190.48 L766 183.9 L768.4 177.26 L770.8 170.52 L773.1 163.68 L775.5 156.76 L777.9 149.76 L780.3 142.72 L782.6 135.66 L785 128.6 M718.5 301.44 L720.9 299.49 L723.3 297.52 L725.6 295.52 L728 293.48 L730.4 291.37 L732.8 289.2 L735.1 286.95 L737.5 284.6 L739.9 282.14 L742.3 279.55 L744.6 276.82 L747 274 L749.4 271.16 L751.8 268.32 L754.1 265.52 L756.5 262.79 L758.9 260.15 L761.3 257.59 L763.6 255.11 L766 252.66 L768.4 250.22 L770.8 247.79 L773.1 245.33 L775.5 242.86 L777.9 240.38 L780.3 237.91 L782.6 235.48 L785 233.11" fill="none" stroke="#1f77b4" stroke-opacity="0.12" stroke-width="0.8" stroke-linejoin="round"/>
<path d="M77.4 567.9 L79.8 567.9 L82.1 567.89 L84.5 567.89 L86.9 567.89 L89.3 567.89 L91.6 567.89 L94 567.89 L96.4 567.89 L98.8 567.88 L101.1 567.88 L103.5 567.88 L105.9 567.87 L108.3 567.87 L110.6 567.86 L113 567.86 L115.4 567.85 L117.8 567.83 L120.1 567.82 L122.5 567.79 L124.9 567.76 L127.3 567.72 L129.6 567.67 L132 567.6 L134.4 567.52 L136.8 567.43 L139.1 567.31 L141.5 567.17 L143.9 567 L146.3 566.81 L148.6 566.58 L151 566.32 L153.4 566.02 L155.8 565.69 L158.1 565.31 L160.5 564.89 L162.9 564.42 L165.3 563.89 L167.6 563.31 L170 562.68 L172.4 562 L174.8 561.3 L177.1 560.57 L179.5 559.83 L181.9 559.09 L184.3 558.33 L186.6 557.55 L189 556.74 L191.4 555.88 L193.8 554.97 L196.1 554 L198.5 552.99 L200.9 551.93 L203.2 550.83 L205.6 549.7 L208 548.55 L210.4 547.37 L212.7 546.18 L215.1 544.97 L217.5 543.76 L219.9 542.54 L222.2 541.32 L224.6 540.11 L227 538.9 L229.4 537.7 L231.7 536.52 L234.1 535.36 L236.5 534.22 L238.9 533.11 L241.2 532.03 L243.6 530.97 L246 529.94 L248.4 528.92 L250.7 527.91 L253.1 526.92 L255.5 525.94 L257.9 524.98 L260.2 524.06 L262.6 523.18 L265 522.35 L267.4 521.57 L269.7 520.85 L272.1 520.18 L274.5 519.55 L276.9 518.98 L279.2 518.44 L281.6 517.94 L284 517.46 L286.4 517.02 L288.7 516.6 L291.1 516.2 L293.5 515.82 L295.9 515.46 L298.2 515.11 L300.6 514.78 L303 514.46 L305.4 514.16 L307.7 513.88 L310.1 513.62 L312.5 513.37 L314.8 513.13 L317.2 512.91 L319.6 512.69 L322 512.47 L324.3 512.24 L326.7 511.99 L329.1 511.73 L331.5 511.45 L333.8 511.16 L336.2 510.85 L338.6 510.53 L341 510.22 L343.3 509.9 L345.7 509.59 L348.1 509.29 L350.5 508.98 L352.8 508.67 L355.2 508.35 L357.6 508.02 L360 507.68 L362.3 507.31 L364.7 506.92 L367.1 506.51 L369.5 506.08 L371.8 505.63 L374.2 505.16 L376.6 504.68 L379 504.18 L381.3 503.67 L383.7 503.15 L386.1 502.61 L388.5 502.06 L390.8 501.49 L393.2 500.92 L395.6 500.33 L398 499.73 L400.3 499.12 L402.7 498.49 L405.1 497.86 L407.5 497.21 L409.8 496.56 L412.2 495.91 L414.6 495.26 L417 494.61 L419.3 493.96 L421.7 493.32 L424.1 492.68 L426.5 492.05 L428.8 491.42 L431.2 490.79 L433.6 490.17 L435.9 489.55 L438.3 488.93 L440.7 488.31 L443.1 487.69 L445.4 487.07 L447.8 486.45 L450.2 485.83 L452.6 485.19 L454.9 484.55 L457.3 483.89 L459.7 483.22 L462.1 482.54 L464.4 481.84 L466.8 481.12 L469.2 480.39 L471.6 479.64 L473.9 478.88 L476.3 478.1 L478.7 477.31 L481.1 476.49 L483.4 475.66 L485.8 474.82 L488.2 473.96 L490.6 473.09 L492.9 472.23 L495.3 471.38 L497.7 470.54 L500.1 469.72 L502.4 468.92 L504.8 468.14 L507.2 467.37 L509.6 466.62 L511.9 465.88 L514.3 465.14 L516.7 464.42 L519.1 463.69 L521.4 462.97 L523.8 462.25 L526.2 461.53 L528.6 460.81 L530.9 460.1 L533.3 459.38 L535.7 458.66 L538.1 457.94 L540.4 457.22 L542.8 456.48 L545.2 455.74 L547.6 454.98 L549.9 454.22 L552.3 453.44 L554.7 452.64 L557 451.83 L559.4 451 L561.8 450.14 L564.2 449.26 L566.5 448.35 L568.9 447.4 L571.3 446.41 L573.7 445.39 L576 444.32 L578.4 443.21 L580.8 442.07 L583.2 440.89 L585.5 439.68 L587.9 438.45 L590.3 437.19 L592.7 435.91 L595 434.61 L597.4 433.3 L599.8 431.97 L602.2 430.62 L604.5 429.25 L606.9 427.86 L609.3 426.44 L611.7 425 L614 423.52 L616.4 422.02 L618.8 420.5 L621.2 418.95 L623.5 417.37 L625.9 415.75 L628.3 414.09 L630.7 412.37 L633 410.59 L635.4 408.75 L637.8 406.84 L640.2 404.88 L642.5 402.86 L644.9 400.8 L647.3 398.71 L649.7 396.58 L652 394.4 L654.4 392.19 L656.8 389.91 L659.2 387.55 L661.5 385.11 L663.9 382.56 L666.3 379.91 L668.6 377.16 L671 374.3 L673.4 371.35 L675.8 368.33 L678.1 365.25 L680.5 362.12 L682.9 358.95 L685.3 355.77 L687.6 352.57 L690 349.35 L692.4 346.1 L694.8 342.81 L697.1 339.48 L699.5 336.1 L701.9 332.68 L704.3 329.23 L706.6 325.76 L709 322.28 L711.4 318.8 L713.8 315.32 L716.1 311.84 L718.5 308.37 M77.4 568.15 L79.8 568.15 L82.1 568.15 L84.5 568.15 L86.9 568.15 L89.3 568.15 L91.6 568.16 L94 568.16 L96.4 568.16 L98.8 568.17 L101.1 568.17 L103.5 568.17 L105.9 568.18 L108.3 568.18 L110.6 568.19 L113 568.19 L115.4 568.19 L117.8 568.19 L120.1 568.19 L122.5 568.18 L124.9 568.16 L127.3 568.13 L129.6 568.1 L132 568.05 L134.4 567.99 L136.8 567.92 L139.1 567.83 L141.5 567.72 L143.9 567.59 L146.3 567.44 L148.6 567.27 L151 567.07 L153.4 566.85 L155.8 566.6 L158.1 566.31 L160.5 565.98 L162.9 565.61 L165.3 565.19 L167.6 564.73 L170 564.23 L172.4 563.7 L174.8 563.15 L177.1 562.59 L179.5 562.05 L181.9 561.51 L184.3 560.98 L186.6 560.45 L189 559.93 L191.4 559.39 L193.8 558.83 L196.1 558.25 L198.5 557.65 L200.9 557.02 L203.2 556.37 L205.6 555.67 L208 554.94 L210.4 554.18 L212.7 553.38 L215.1 552.54 L217.5 551.68 L219.9 550.81 L222.2 549.93 L224.6 549.04 L227 548.17 L229.4 547.3 L231.7 546.46 L234.1 545.63 L236.5 544.82 L238.9 544.02 L241.2 543.23 L243.6 542.42 L246 541.59 L248.4 540.73 L250.7 539.83 L253.1 538.9 L255.5 537.95 L257.9 537.01 L260.2 536.08 L262.6 535.18 L265 534.34 L267.4 533.55 L269.7 532.82 L272.1 532.15 L274.5 531.53 L276.9 530.97 L279.2 530.45 L281.6 529.98 L284 529.54 L286.4 529.13 L288.7 528.75 L291.1 528.4 L293.5 528.08 L295.9 527.78 L298.2 527.5 L300.6 527.24 L303 527 L305.4 526.77 L307.7 526.55 L310.1 526.34 L312.5 526.15 L314.8 525.96 L317.2 525.77 L319.6 525.59 L322 525.41 L324.3 525.22 L326.7 525.02 L329.1 524.8 L331.5 524.57 L333.8 524.33 L336.2 524.07 L338.6 523.8 L341 523.52 L343.3 523.24 L345.7 522.95 L348.1 522.66 L350.5 522.36 L352.8 522.06 L355.2 521.75 L357.6 521.42 L360 521.08 L362.3 520.73 L364.7 520.36 L367.1 519.97 L369.5 519.57 L371.8 519.15 L374.2 518.72 L376.6 518.28 L379 517.83 L381.3 517.37 L383.7 516.89 L386.1 516.42 L388.5 515.93 L390.8 515.45 L393.2 514.95 L395.6 514.46 L398 513.96 L400.3 513.46 L402.7 512.96 L405.1 512.46 L407.5 511.95 L409.8 511.45 L412.2 510.94 L414.6 510.43 L417 509.91 L419.3 509.39 L421.7 508.86 L424.1 508.33 L426.5 507.79 L428.8 507.24 L431.2 506.7 L433.6 506.14 L435.9 505.58 L438.3 505.01 L440.7 504.44 L443.1 503.86 L445.4 503.28 L447.8 502.69 L450.2 502.1 L452.6 501.5 L454.9 500.9 L457.3 500.28 L459.7 499.65 L462.1 499.01 L464.4 498.36 L466.8 497.7 L469.2 497.04 L471.6 496.38 L473.9 495.71 L476.3 495.05 L478.7 494.39 L481.1 493.74 L483.4 493.09 L485.8 492.46 L488.2 491.83 L490.6 491.21 L492.9 490.6 L495.3 489.99 L497.7 489.39 L500.1 488.79 L502.4 488.2 L504.8 487.61 L507.2 487.02 L509.6 486.44 L511.9 485.87 L514.3 485.29 L516.7 484.72 L519.1 484.15 L521.4 483.58 L523.8 483.02 L526.2 482.45 L528.6 481.87 L530.9 481.29 L533.3 480.7 L535.7 480.09 L538.1 479.47 L540.4 478.83 L542.8 478.17 L545.2 477.49 L547.6 476.79 L549.9 476.07 L552.3 475.33 L554.7 474.58 L557 473.8 L559.4 473.01 L561.8 472.2 L564.2 471.36 L566.5 470.49 L568.9 469.59 L571.3 468.66 L573.7 467.71 L576 466.72 L578.4 465.71 L580.8 464.67 L583.2 463.62 L585.5 462.56 L587.9 461.48 L590.3 460.38 L592.7 459.28 L595 458.16 L597.4 457.03 L599.8 455.88 L602.2 454.73 L604.5 453.56 L606.9 452.37 L609.3 451.17 L611.7 449.95 L614 448.71 L616.4 447.46 L618.8 446.2 L621.2 444.93 L623.5 443.65 L625.9 442.35 L628.3 441.03 L630.7 439.68 L633 438.29 L635.4 436.86 L637.8 435.38 L640.2 433.85 L642.5 432.26 L644.9 430.61 L647.3 428.89 L649.7 427.1 L652 425.23 L654.4 423.29 L656.8 421.27 L659.2 419.16 L661.5 416.95 L663.9 414.65 L666.3 412.25 L668.6 409.75 L671 407.17 L673.4 404.52 L675.8 401.8 L678.1 399.03 L680.5 396.23 L682.9 393.4 L685.3 390.55 L687.6 387.68 L690 384.79 L692.4 381.9 L694.8 378.99 L697.1 376.07 L699.5 373.14 L701.9 370.21 L704.3 367.28 L706.6 364.36 L709 361.45 L711.4 358.56 L713.8 355.68 L716.1 352.81 L718.5 349.95" fill="none" stroke="#1f77b4" stroke-opacity="0.12" stroke-width="0.8" stroke-linejoin="round"/>
<path d="M718.5 301.92 L720.9 297.62 L723.3 293.29 L725.6 288.91 L728 284.47 L730.4 279.95 L732.8 275.35 L735.1 270.66 L737.5 265.86 L739.9 260.94 L742.3 255.9 L744.6 250.77 L747 245.55 L749.4 240.27 L751.8 234.95 L754.1 229.58 L756.5 224.15 L758.9 218.63 L761.3 213.12 L763.6 207.59 L766 201.99 L768.4 196.31 L770.8 190.53 L773.1 184.64 L775.5 178.65 L777.9 172.58 L780.3 166.45 L782.6 160.28 L785 154.1 M718.5 301.52 L720.9 299.18 L723.3 296.82 L725.6 294.43 L728 291.99 L730.4 289.49 L732.8 286.92 L735.1 284.27 L737.5 281.51 L739.9 278.65 L742.3 275.66 L744.6 272.54 L747 269.34 L749.4 266.1 L751.8 262.86 L754.1 259.65 L756.5 256.48 L758.9 253.36 L761.3 250.3 L763.6 247.28 L766 244.27 L768.4 241.24 L770.8 238.18 L773.1 235.07 L775.5 231.92 L777.9 228.75 L780.3 225.55 L782.6 222.38 L785 219.24" fill="none" stroke="#1f77b4" stroke-opacity="0.12" stroke-width="0.8" stroke-linejoin="round"/>
<path d="M77.4 567.94 L79.8 567.94 L82.1 567.94 L84.5 567.94 L86.9 567.94 L89.3 567.94 L91.6 567.94 L94 567.94 L96.4 567.94 L98.8 567.94 L101.1 567.94 L103.5 567.93 L105.9 567.93 L108.3 567.93 L110.6 567.93 L113 567.92 L115.4 567.91 L117.8 567.9 L120.1 567.89 L122.5 567.87 L124.9 567.84 L127.3 567.8 L129.6 567.75 L132 567.69 L134.4 567.61 L136.8 567.52 L139.1 567.41 L141.5 567.28 L143.9 567.12 L146.3 566.93 L148.6 566.71 L151 566.46 L153.4 566.18 L155.8 565.86 L158.1 565.5 L160.5 565.1 L162.9 564.65 L165.3 564.14 L167.6 563.58 L170 562.97 L172.4 562.33 L174.8 561.65 L177.1 560.96 L179.5 560.26 L181.9 559.55 L184.3 558.84 L186.6 558.11 L189 557.35 L191.4 556.55 L193.8 555.71 L196.1 554.82 L198.5 553.88 L200.9 552.9 L203.2 551.89 L205.6 550.85 L208 549.78 L210.4 548.68 L212.7 547.57 L215.1 546.44 L217.5 545.31 L219.9 544.16 L222.2 543.02 L224.6 541.87 L227 540.74 L229.4 539.61 L231.7 538.49 L234.1 537.4 L236.5 536.32 L238.9 535.27 L241.2 534.25 L243.6 533.24 L246 532.24 L248.4 531.25 L250.7 530.26 L253.1 529.28 L255.5 528.3 L257.9 527.34 L260.2 526.41 L262.6 525.52 L265 524.68 L267.4 523.9 L269.7 523.17 L272.1 522.5 L274.5 521.88 L276.9 521.31 L279.2 520.78 L281.6 520.29 L284 519.83 L286.4 519.4 L288.7 518.99 L291.1 518.61 L293.5 518.24 L295.9 517.89 L298.2 517.56 L300.6 517.24 L303 516.94 L305.4 516.66 L307.7 516.39 L310.1 516.14 L312.5 515.91 L314.8 515.69 L317.2 515.48 L319.6 515.27 L322 515.06 L324.3 514.85 L326.7 514.61 L329.1 514.36 L331.5 514.09 L333.8 513.79 L336.2 513.49 L338.6 513.17 L341 512.85 L343.3 512.54 L345.7 512.23 L348.1 511.93 L350.5 511.62 L352.8 511.31 L355.2 511 L357.6 510.67 L360 510.33 L362.3 509.97 L364.7 509.58 L367.1 509.19 L369.5 508.77 L371.8 508.33 L374.2 507.88 L376.6 507.41 L379 506.93 L381.3 506.44 L383.7 505.93 L386.1 505.4 L388.5 504.87 L390.8 504.32 L393.2 503.76 L395.6 503.19 L398 502.6 L400.3 502.01 L402.7 501.41 L405.1 500.8 L407.5 500.18 L409.8 499.56 L412.2 498.94 L414.6 498.31 L417 497.68 L419.3 497.06 L421.7 496.44 L424.1 495.82 L426.5 495.2 L428.8 494.59 L431.2 493.98 L433.6 493.37 L435.9 492.76 L438.3 492.16 L440.7 491.55 L443.1 490.95 L445.4 490.34 L447.8 489.74 L450.2 489.13 L452.6 488.51 L454.9 487.88 L457.3 487.24 L459.7 486.58 L462.1 485.91 L464.4 485.22 L466.8 484.52 L469.2 483.8 L471.6 483.07 L473.9 482.33 L476.3 481.57 L478.7 480.8 L481.1 480.03 L483.4 479.23 L485.8 478.43 L488.2 477.63 L490.6 476.82 L492.9 476.01 L495.3 475.21 L497.7 474.43 L500.1 473.65 L502.4 472.89 L504.8 472.15 L507.2 471.42 L509.6 470.7 L511.9 469.99 L514.3 469.28 L516.7 468.58 L519.1 467.89 L521.4 467.2 L523.8 466.51 L526.2 465.82 L528.6 465.13 L530.9 464.44 L533.3 463.75 L535.7 463.05 L538.1 462.35 L540.4 461.64 L542.8 460.91 L545.2 460.17 L547.6 459.42 L549.9 458.66 L552.3 457.88 L554.7 457.08 L557 456.27 L559.4 455.44 L561.8 454.58 L564.2 453.7 L566.5 452.79 L568.9 451.85 L571.3 450.87 L573.7 449.85 L576 448.8 L578.4 447.71 L580.8 446.59 L583.2 445.44 L585.5 444.26 L587.9 443.06 L590.3 441.83 L592.7 440.59 L595 439.33 L597.4 438.06 L599.8 436.76 L602.2 435.45 L604.5 434.12 L606.9 432.77 L609.3 431.39 L611.7 429.98 L614 428.56 L616.4 427.1 L618.8 425.63 L621.2 424.14 L623.5 422.62 L625.9 421.06 L628.3 419.47 L630.7 417.83 L633 416.13 L635.4 414.36 L637.8 412.54 L640.2 410.66 L642.5 408.72 L644.9 406.74 L647.3 404.71 L649.7 402.63 L652 400.51 L654.4 398.34 L656.8 396.1 L659.2 393.79 L661.5 391.39 L663.9 388.91 L666.3 386.33 L668.6 383.65 L671 380.9 L673.4 378.06 L675.8 375.17 L678.1 372.22 L680.5 369.23 L682.9 366.2 L685.3 363.15 L687.6 360.08 L690 356.97 L692.4 353.83 L694.8 350.64 L697.1 347.4 L699.5 344.11 L701.9 340.78 L704.3 337.41 L706.6 334.02 L709 330.62 L711.4 327.21 L713.8 323.8 L716.1 320.4 L718.5 317 M77.4 568.07 L79.8 568.07 L82.1 568.07 L84.5 568.07 L86.9 568.07 L89.3 568.08 L91.6 568.08 L94 568.08 L96.4 568.08 L98.8 568.08 L101.1 568.08 L103.5 568.09 L105.9 568.09 L108.3 568.09 L110.6 568.09 L113 568.09 L115.4 568.09 L117.8 568.09 L120.1 568.08 L122.5 568.06 L124.9 568.04 L127.3 568.01 L129.6 567.97 L132 567.92 L134.4 567.85 L136.8 567.77 L139.1 567.68 L141.5 567.56 L143.9 567.42 L146.3 567.26 L148.6 567.07 L151 566.85 L153.4 566.6 L155.8 566.33 L158.1 566.01 L160.5 565.66 L162.9 565.26 L165.3 564.81 L167.6 564.31 L170 563.77 L172.4 563.19 L174.8 562.6 L177.1 561.99 L179.5 561.39 L181.9 560.79 L184.3 560.19 L186.6 559.59 L189 558.98 L191.4 558.35 L193.8 557.68 L196.1 556.99 L198.5 556.27 L200.9 555.51 L203.2 554.73 L205.6 553.91 L208 553.05 L210.4 552.17 L212.7 551.26 L215.1 550.32 L217.5 549.37 L219.9 548.4 L222.2 547.43 L224.6 546.45 L227 545.49 L229.4 544.53 L231.7 543.59 L234.1 542.67 L236.5 541.76 L238.9 540.87 L241.2 539.99 L243.6 539.11 L246 538.22 L248.4 537.3 L250.7 536.37 L253.1 535.42 L255.5 534.46 L257.9 533.5 L260.2 532.57 L262.6 531.67 L265 530.82 L267.4 530.03 L269.7 529.3 L272.1 528.63 L274.5 528.02 L276.9 527.45 L279.2 526.94 L281.6 526.46 L284 526.02 L286.4 525.6 L288.7 525.22 L291.1 524.86 L293.5 524.52 L295.9 524.21 L298.2 523.91 L300.6 523.63 L303 523.36 L305.4 523.12 L307.7 522.88 L310.1 522.66 L312.5 522.46 L314.8 522.26 L317.2 522.08 L319.6 521.89 L322 521.7 L324.3 521.5 L326.7 521.29 L329.1 521.06 L331.5 520.81 L333.8 520.55 L336.2 520.27 L338.6 519.97 L341 519.68 L343.3 519.38 L345.7 519.08 L348.1 518.78 L350.5 518.48 L352.8 518.17 L355.2 517.86 L357.6 517.54 L360 517.2 L362.3 516.85 L364.7 516.47 L367.1 516.09 L369.5 515.68 L371.8 515.27 L374.2 514.83 L376.6 514.39 L379 513.93 L381.3 513.46 L383.7 512.98 L386.1 512.49 L388.5 511.98 L390.8 511.47 L393.2 510.96 L395.6 510.43 L398 509.9 L400.3 509.37 L402.7 508.83 L405.1 508.29 L407.5 507.75 L409.8 507.2 L412.2 506.64 L414.6 506.09 L417 505.53 L419.3 504.97 L421.7 504.41 L424.1 503.84 L426.5 503.28 L428.8 502.71 L431.2 502.14 L433.6 501.56 L435.9 500.99 L438.3 500.41 L440.7 499.83 L443.1 499.24 L445.4 498.66 L447.8 498.07 L450.2 497.48 L452.6 496.88 L454.9 496.27 L457.3 495.64 L459.7 495.01 L462.1 494.36 L464.4 493.7 L466.8 493.03 L469.2 492.35 L471.6 491.66 L473.9 490.97 L476.3 490.27 L478.7 489.57 L481.1 488.88 L483.4 488.18 L485.8 487.49 L488.2 486.8 L490.6 486.12 L492.9 485.44 L495.3 484.77 L497.7 484.1 L500.1 483.44 L502.4 482.79 L504.8 482.14 L507.2 481.51 L509.6 480.87 L511.9 480.25 L514.3 479.62 L516.7 479.01 L519.1 478.39 L521.4 477.78 L523.8 477.17 L526.2 476.55 L528.6 475.94 L530.9 475.32 L533.3 474.69 L535.7 474.05 L538.1 473.4 L540.4 472.73 L542.8 472.04 L545.2 471.33 L547.6 470.61 L549.9 469.87 L552.3 469.11 L554.7 468.33 L557 467.54 L559.4 466.73 L561.8 465.9 L564.2 465.04 L566.5 464.15 L568.9 463.23 L571.3 462.28 L573.7 461.3 L576 460.28 L578.4 459.24 L580.8 458.18 L583.2 457.09 L585.5 455.99 L587.9 454.87 L590.3 453.73 L592.7 452.58 L595 451.41 L597.4 450.23 L599.8 449.03 L602.2 447.81 L604.5 446.58 L606.9 445.34 L609.3 444.07 L611.7 442.78 L614 441.47 L616.4 440.15 L618.8 438.81 L621.2 437.46 L623.5 436.09 L625.9 434.7 L628.3 433.28 L630.7 431.83 L633 430.33 L635.4 428.78 L637.8 427.17 L640.2 425.52 L642.5 423.8 L644.9 422.02 L647.3 420.18 L649.7 418.28 L652 416.31 L654.4 414.28 L656.8 412.18 L659.2 409.99 L661.5 407.72 L663.9 405.35 L666.3 402.9 L668.6 400.37 L671 397.75 L673.4 395.08 L675.8 392.34 L678.1 389.56 L680.5 386.75 L682.9 383.9 L685.3 381.03 L687.6 378.13 L690 375.2 L692.4 372.24 L694.8 369.25 L697.1 366.22 L699.5 363.16 L701.9 360.08 L704.3 356.98 L706.6 353.86 L709 350.75 L711.4 347.64 L713.8 344.54 L716.1 341.44 L718.5 338.35" fill="none" stroke="#1f77b4" stroke-opacity="0.12" stroke-width="0.8" stroke-linejoin="round"/>
<path d="M718.5 301.84 L720.9 297.95 L723.3 294.05 L725.6 290.1 L728 286.09 L730.4 282.01 L732.8 277.85 L735.1 273.59 L737.5 269.24 L739.9 264.76 L742.3 260.16 L744.6 255.47 L747 250.7 L749.4 245.88 L751.8 241.02 L754.1 236.12 L756.5 231.18 L758.9 226.19 L761.3 221.19 L763.6 216.14 L766 211.03 L768.4 205.83 L770.8 200.53 L773.1 195.12 L775.5 189.6 L777.9 183.99 L780.3 178.31 L782.6 172.59 L785 166.85 M718.5 301.63 L720.9 298.76 L723.3 295.87 L725.6 292.94 L728 289.96 L730.4 286.91 L732.8 283.8 L735.1 280.59 L737.5 277.28 L739.9 273.87 L742.3 270.33 L744.6 266.67 L747 262.94 L749.4 259.16 L751.8 255.38 L754.1 251.59 L756.5 247.82 L758.9 244.06 L761.3 240.31 L763.6 236.55 L766 232.77 L768.4 228.93 L770.8 225.01 L773.1 221.02 L775.5 216.94 L777.9 212.81 L780.3 208.62 L782.6 204.42 L785 200.22" fill="none" stroke="#1f77b4" stroke-opacity="0.12" stroke-width="0.8" stroke-linejoin="round"/>
<path d="M77.4 567.86 L79.8 567.86 L82.1 567.86 L84.5 567.85 L86.9 567.85 L89.3 567.85 L91.6 567.85 L94 567.85 L96.4 567.84 L98.8 567.84 L101.1 567.84 L103.5 567.83 L105.9 567.83 L108.3 567.82 L110.6 567.81 L113 567.81 L115.4 567.79 L117.8 567.78 L120.1 567.76 L122.5 567.73 L124.9 567.7 L127.3 567.66 L129.6 567.6 L132 567.53 L134.4 567.45 L136.8 567.35 L139.1 567.23 L141.5 567.09 L143.9 566.91 L146.3 566.71 L148.6 566.47 L151 566.2 L153.4 565.89 L155.8 565.55 L158.1 565.16 L160.5 564.73 L162.9 564.24 L165.3 563.69 L167.6 563.09 L170 562.44 L172.4 561.74 L174.8 561.01 L177.1 560.26 L179.5 559.5 L181.9 558.72 L184.3 557.93 L186.6 557.11 L189 556.25 L191.4 555.34 L193.8 554.38 L196.1 553.36 L198.5 552.28 L200.9 551.16 L203.2 549.99 L205.6 548.79 L208 547.57 L210.4 546.33 L212.7 545.07 L215.1 543.8 L217.5 542.53 L219.9 541.25 L222.2 539.98 L224.6 538.71 L227 537.45 L229.4 536.19 L231.7 534.96 L234.1 533.74 L236.5 532.55 L238.9 531.39 L241.2 530.27 L243.6 529.17 L246 528.11 L248.4 527.07 L250.7 526.05 L253.1 525.05 L255.5 524.07 L257.9 523.12 L260.2 522.2 L262.6 521.33 L265 520.5 L267.4 519.73 L269.7 519.01 L272.1 518.34 L274.5 517.71 L276.9 517.13 L279.2 516.58 L281.6 516.07 L284 515.59 L286.4 515.14 L288.7 514.71 L291.1 514.3 L293.5 513.9 L295.9 513.53 L298.2 513.17 L300.6 512.83 L303 512.5 L305.4 512.19 L307.7 511.9 L310.1 511.62 L312.5 511.36 L314.8 511.11 L317.2 510.87 L319.6 510.64 L322 510.41 L324.3 510.17 L326.7 509.92 L329.1 509.65 L331.5 509.37 L333.8 509.07 L336.2 508.76 L338.6 508.44 L341 508.13 L343.3 507.81 L345.7 507.5 L348.1 507.2 L350.5 506.89 L352.8 506.58 L355.2 506.26 L357.6 505.93 L360 505.58 L362.3 505.2 L364.7 504.81 L367.1 504.39 L369.5 503.95 L371.8 503.49 L374.2 503.01 L376.6 502.52 L379 502.01 L381.3 501.48 L383.7 500.95 L386.1 500.4 L388.5 499.84 L390.8 499.26 L393.2 498.67 L395.6 498.07 L398 497.45 L400.3 496.82 L402.7 496.18 L405.1 495.53 L407.5 494.86 L409.8 494.19 L412.2 493.52 L414.6 492.84 L417 492.17 L419.3 491.5 L421.7 490.84 L424.1 490.19 L426.5 489.55 L428.8 488.9 L431.2 488.27 L433.6 487.63 L435.9 487 L438.3 486.37 L440.7 485.74 L443.1 485.11 L445.4 484.48 L447.8 483.85 L450.2 483.21 L452.6 482.57 L454.9 481.91 L457.3 481.25 L459.7 480.57 L462.1 479.87 L464.4 479.16 L466.8 478.43 L469.2 477.69 L471.6 476.93 L473.9 476.15 L476.3 475.35 L478.7 474.53 L481.1 473.69 L483.4 472.83 L485.8 471.95 L488.2 471.05 L490.6 470.15 L492.9 469.24 L495.3 468.35 L497.7 467.47 L500.1 466.61 L502.4 465.77 L504.8 464.96 L507.2 464.17 L509.6 463.39 L511.9 462.62 L514.3 461.87 L516.7 461.12 L519.1 460.37 L521.4 459.62 L523.8 458.88 L526.2 458.14 L528.6 457.39 L530.9 456.66 L533.3 455.92 L535.7 455.19 L538.1 454.45 L540.4 453.72 L542.8 452.98 L545.2 452.23 L547.6 451.47 L549.9 450.7 L552.3 449.92 L554.7 449.13 L557 448.31 L559.4 447.48 L561.8 446.63 L564.2 445.74 L566.5 444.83 L568.9 443.88 L571.3 442.89 L573.7 441.85 L576 440.78 L578.4 439.66 L580.8 438.5 L583.2 437.3 L585.5 436.06 L587.9 434.8 L590.3 433.51 L592.7 432.2 L595 430.87 L597.4 429.53 L599.8 428.17 L602.2 426.8 L604.5 425.4 L606.9 423.98 L609.3 422.53 L611.7 421.05 L614 419.54 L616.4 418 L618.8 416.43 L621.2 414.84 L623.5 413.21 L625.9 411.55 L628.3 409.83 L630.7 408.06 L633 406.21 L635.4 404.31 L637.8 402.33 L640.2 400.3 L642.5 398.22 L644.9 396.1 L647.3 393.96 L649.7 391.78 L652 389.57 L654.4 387.32 L656.8 385.01 L659.2 382.62 L661.5 380.13 L663.9 377.54 L666.3 374.84 L668.6 372.01 L671 369.08 L673.4 366.04 L675.8 362.92 L678.1 359.73 L680.5 356.49 L682.9 353.22 L685.3 349.93 L687.6 346.62 L690 343.31 L692.4 339.97 L694.8 336.61 L697.1 333.2 L699.5 329.76 L701.9 326.27 L704.3 322.76 L706.6 319.22 L709 315.68 L711.4 312.14 L713.8 308.6 L716.1 305.07 L718.5 301.54 M77.4 568.11 L79.8 568.11 L82.1 568.11 L84.5 568.11 L86.9 568.11 L89.3 568.11 L91.6 568.11 L94 568.12 L96.4 568.12 L98.8 568.12 L101.1 568.12 L103.5 568.13 L105.9 568.13 L108.3 568.13 L110.6 568.14 L113 568.14 L115.4 568.14 L117.8 568.14 L120.1 568.13 L122.5 568.12 L124.9 568.1 L127.3 568.07 L129.6 568.03 L132 567.98 L134.4 567.92 L136.8 567.84 L139.1 567.75 L141.5 567.64 L143.9 567.5 L146.3 567.35 L148.6 567.17 L151 566.96 L153.4 566.72 L155.8 566.46 L158.1 566.16 L160.5 565.82 L162.9 565.43 L165.3 565 L167.6 564.52 L170 563.99 L172.4 563.44 L174.8 562.87 L177.1 562.29 L179.5 561.71 L181.9 561.14 L184.3 560.58 L186.6 560.01 L189 559.44 L191.4 558.85 L193.8 558.24 L196.1 557.6 L198.5 556.94 L200.9 556.25 L203.2 555.52 L205.6 554.77 L208 553.97 L210.4 553.15 L212.7 552.29 L215.1 551.4 L217.5 550.49 L219.9 549.57 L222.2 548.64 L224.6 547.71 L227 546.79 L229.4 545.88 L231.7 544.98 L234.1 544.11 L236.5 543.25 L238.9 542.4 L241.2 541.56 L243.6 540.72 L246 539.86 L248.4 538.97 L250.7 538.05 L253.1 537.11 L255.5 536.16 L257.9 535.21 L260.2 534.28 L262.6 533.38 L265 532.53 L267.4 531.74 L269.7 531.01 L272.1 530.34 L274.5 529.73 L276.9 529.16 L279.2 528.65 L281.6 528.17 L284 527.73 L286.4 527.32 L288.7 526.94 L291.1 526.58 L293.5 526.25 L295.9 525.94 L298.2 525.66 L300.6 525.39 L303 525.13 L305.4 524.89 L307.7 524.67 L310.1 524.45 L312.5 524.25 L314.8 524.06 L317.2 523.88 L319.6 523.69 L322 523.51 L324.3 523.31 L326.7 523.11 L329.1 522.88 L331.5 522.64 L333.8 522.39 L336.2 522.12 L338.6 521.84 L341 521.55 L343.3 521.25 L345.7 520.96 L348.1 520.67 L350.5 520.37 L352.8 520.06 L355.2 519.75 L357.6 519.43 L360 519.09 L362.3 518.74 L364.7 518.36 L367.1 517.98 L369.5 517.58 L371.8 517.16 L374.2 516.73 L376.6 516.28 L379 515.83 L381.3 515.36 L383.7 514.88 L386.1 514.4 L388.5 513.91 L390.8 513.41 L393.2 512.9 L395.6 512.39 L398 511.88 L400.3 511.36 L402.7 510.84 L405.1 510.32 L407.5 509.79 L409.8 509.27 L412.2 508.73 L414.6 508.2 L417 507.66 L419.3 507.12 L421.7 506.57 L424.1 506.02 L426.5 505.47 L428.8 504.92 L431.2 504.35 L433.6 503.79 L435.9 503.22 L438.3 502.65 L440.7 502.07 L443.1 501.49 L445.4 500.91 L447.8 500.32 L450.2 499.73 L452.6 499.13 L454.9 498.52 L457.3 497.9 L459.7 497.27 L462.1 496.62 L464.4 495.97 L466.8 495.3 L469.2 494.63 L471.6 493.96 L473.9 493.28 L476.3 492.6 L478.7 491.92 L481.1 491.24 L483.4 490.57 L485.8 489.91 L488.2 489.25 L490.6 488.6 L492.9 487.95 L495.3 487.31 L497.7 486.67 L500.1 486.04 L502.4 485.42 L504.8 484.8 L507.2 484.19 L509.6 483.58 L511.9 482.98 L514.3 482.38 L516.7 481.79 L519.1 481.19 L521.4 480.6 L523.8 480.01 L526.2 479.42 L528.6 478.83 L530.9 478.22 L533.3 477.61 L535.7 476.99 L538.1 476.35 L540.4 475.7 L542.8 475.02 L545.2 474.33 L547.6 473.61 L549.9 472.88 L552.3 472.14 L554.7 471.37 L557 470.59 L559.4 469.79 L561.8 468.96 L564.2 468.11 L566.5 467.23 L568.9 466.33 L571.3 465.39 L573.7 464.41 L576 463.41 L578.4 462.39 L580.8 461.34 L583.2 460.27 L585.5 459.18 L587.9 458.08 L590.3 456.97 L592.7 455.84 L595 454.69 L597.4 453.53 L599.8 452.36 L602.2 451.18 L604.5 449.98 L606.9 448.76 L609.3 447.52 L611.7 446.27 L614 445 L616.4 443.71 L618.8 442.41 L621.2 441.1 L623.5 439.77 L625.9 438.42 L628.3 437.05 L630.7 435.64 L633 434.2 L635.4 432.71 L637.8 431.17 L640.2 429.57 L642.5 427.91 L644.9 426.2 L647.3 424.42 L649.7 422.57 L652 420.65 L654.4 418.67 L656.8 416.6 L659.2 414.45 L661.5 412.21 L663.9 409.88 L666.3 407.45 L668.6 404.93 L671 402.33 L673.4 399.67 L675.8 396.94 L678.1 394.17 L680.5 391.36 L682.9 388.52 L685.3 385.66 L687.6 382.77 L690 379.87 L692.4 376.94 L694.8 373.99 L697.1 371.01 L699.5 368.02 L701.9 365.01 L704.3 361.99 L706.6 358.97 L709 355.96 L711.4 352.95 L713.8 349.96 L716.1 346.97 L718.5 343.99" fill="none" stroke="#1f77b4" stroke-opacity="0.12" stroke-width="0.8" stroke-linejoin="round"/>
<path d="M718.5 301.99 L720.9 297.35 L723.3 292.68 L725.6 287.96 L728 283.18 L730.4 278.32 L732.8 273.38 L735.1 268.34 L737.5 263.19 L739.9 257.92 L742.3 252.53 L744.6 247.04 L747 241.47 L749.4 235.83 L751.8 230.14 L754.1 224.4 L756.5 218.57 L758.9 212.64 L761.3 206.74 L763.6 200.81 L766 194.83 L768.4 188.76 L770.8 182.61 L773.1 176.34 L775.5 169.99 L777.9 163.55 L780.3 157.05 L782.6 150.53 L785 144.01 M718.5 301.58 L720.9 298.96 L723.3 296.33 L725.6 293.67 L728 290.95 L730.4 288.17 L732.8 285.32 L735.1 282.38 L737.5 279.34 L739.9 276.19 L742.3 272.92 L744.6 269.53 L747 266.05 L749.4 262.54 L751.8 259.02 L754.1 255.51 L756.5 252.03 L758.9 248.58 L761.3 245.17 L763.6 241.77 L766 238.36 L768.4 234.92 L770.8 231.42 L773.1 227.86 L775.5 224.23 L777.9 220.56 L780.3 216.86 L782.6 213.15 L785 209.47" fill="none" stroke="#1f77b4" stroke-opacity="0.12" stroke-width="0.8" stroke-linejoin="round"/>
<line x1="77.5" x2="785.5" y1="568.5" y2="568.5" stroke="#b0b0b0" stroke-width="1.11"/>
<line x1="77.5" x2="785.5" y1="452.5" y2="452.5" stroke="#b0b0b0" stroke-width="1.11"/>
<line x1="77.5" x2="785.5" y1="336.5" y2="336.5" stroke="#b0b0b0" stroke-width="1.11"/>
<line x1="77.5" x2="785.5" y1="220.5" y2="220.5" stroke="#b0b0b0" stroke-width="1.11"/>
<line x1="77.5" x2="785.5" y1="104.5" y2="104.5" stroke="#b0b0b0" stroke-width="1.11"/>
<path d="M77.4 568 L79.8 568 L82.1 568 L84.5 568 L86.9 568 L89.3 568 L91.6 568 L94 568 L96.4 568 L98.8 568 L101.1 568 L103.5 568 L105.9 568 L108.3 568 L110.6 568 L113 568 L115.4 567.99 L117.8 567.98 L120.1 567.97 L122.5 567.95 L124.9 567.93 L127.3 567.89 L129.6 567.84 L132 567.79 L134.4 567.72 L136.8 567.63 L139.1 567.53 L141.5 567.4 L143.9 567.25 L146.3 567.07 L148.6 566.87 L151 566.63 L153.4 566.36 L155.8 566.07 L158.1 565.73 L160.5 565.35 L162.9 564.92 L165.3 564.43 L167.6 563.9 L170 563.32 L172.4 562.71 L174.8 562.07 L177.1 561.41 L179.5 560.75 L181.9 560.1 L184.3 559.43 L186.6 558.76 L189 558.06 L191.4 557.33 L193.8 556.57 L196.1 555.76 L198.5 554.92 L200.9 554.04 L203.2 553.13 L205.6 552.19 L208 551.22 L210.4 550.22 L212.7 549.2 L215.1 548.16 L217.5 547.11 L219.9 546.06 L222.2 544.99 L224.6 543.93 L227 542.88 L229.4 541.83 L231.7 540.8 L234.1 539.78 L236.5 538.78 L238.9 537.8 L241.2 536.84 L243.6 535.89 L246 534.93 L248.4 533.98 L250.7 533.01 L253.1 532.03 L255.5 531.05 L257.9 530.09 L260.2 529.15 L262.6 528.25 L265 527.4 L267.4 526.61 L269.7 525.88 L272.1 525.21 L274.5 524.6 L276.9 524.03 L279.2 523.51 L281.6 523.04 L284 522.59 L286.4 522.17 L288.7 521.78 L291.1 521.41 L293.5 521.06 L295.9 520.73 L298.2 520.41 L300.6 520.11 L303 519.83 L305.4 519.56 L307.7 519.32 L310.1 519.09 L312.5 518.87 L314.8 518.67 L317.2 518.48 L319.6 518.29 L322 518.1 L324.3 517.89 L326.7 517.67 L329.1 517.42 L331.5 517.16 L333.8 516.87 L336.2 516.56 L338.6 516.25 L341 515.93 L343.3 515.62 L345.7 515.31 L348.1 515.01 L350.5 514.7 L352.8 514.4 L355.2 514.08 L357.6 513.76 L360 513.42 L362.3 513.07 L364.7 512.69 L367.1 512.31 L369.5 511.9 L371.8 511.49 L374.2 511.05 L376.6 510.6 L379 510.14 L381.3 509.66 L383.7 509.17 L386.1 508.66 L388.5 508.14 L390.8 507.61 L393.2 507.07 L395.6 506.52 L398 505.96 L400.3 505.39 L402.7 504.82 L405.1 504.24 L407.5 503.65 L409.8 503.06 L412.2 502.47 L414.6 501.87 L417 501.27 L419.3 500.68 L421.7 500.08 L424.1 499.48 L426.5 498.89 L428.8 498.3 L431.2 497.7 L433.6 497.11 L435.9 496.52 L438.3 495.93 L440.7 495.34 L443.1 494.75 L445.4 494.16 L447.8 493.57 L450.2 492.98 L452.6 492.38 L454.9 491.76 L457.3 491.14 L459.7 490.5 L462.1 489.84 L464.4 489.17 L466.8 488.48 L469.2 487.78 L471.6 487.07 L473.9 486.35 L476.3 485.62 L478.7 484.89 L481.1 484.15 L483.4 483.4 L485.8 482.66 L488.2 481.91 L490.6 481.16 L492.9 480.42 L495.3 479.69 L497.7 478.96 L500.1 478.24 L502.4 477.53 L504.8 476.83 L507.2 476.14 L509.6 475.45 L511.9 474.78 L514.3 474.11 L516.7 473.44 L519.1 472.78 L521.4 472.13 L523.8 471.47 L526.2 470.82 L528.6 470.17 L530.9 469.51 L533.3 468.85 L535.7 468.18 L538.1 467.49 L540.4 466.79 L542.8 466.08 L545.2 465.35 L547.6 464.6 L549.9 463.83 L552.3 463.06 L554.7 462.26 L557 461.45 L559.4 460.62 L561.8 459.77 L564.2 458.89 L566.5 457.98 L568.9 457.04 L571.3 456.07 L573.7 455.06 L576 454.02 L578.4 452.95 L580.8 451.85 L583.2 450.73 L585.5 449.59 L587.9 448.44 L590.3 447.26 L592.7 446.06 L595 444.84 L597.4 443.61 L599.8 442.36 L602.2 441.09 L604.5 439.8 L606.9 438.49 L609.3 437.16 L611.7 435.8 L614 434.43 L616.4 433.03 L618.8 431.62 L621.2 430.19 L623.5 428.74 L625.9 427.26 L628.3 425.75 L630.7 424.19 L633 422.58 L635.4 420.91 L637.8 419.19 L640.2 417.4 L642.5 415.56 L644.9 413.66 L647.3 411.71 L649.7 409.7 L652 407.64 L654.4 405.51 L656.8 403.33 L659.2 401.07 L661.5 398.73 L663.9 396.31 L666.3 393.81 L668.6 391.23 L671 388.59 L673.4 385.89 L675.8 383.14 L678.1 380.35 L680.5 377.52 L682.9 374.66 L685.3 371.77 L687.6 368.84 L690 365.87 L692.4 362.85 L694.8 359.78 L697.1 356.65 L699.5 353.46 L701.9 350.23 L704.3 346.95 L706.6 343.65 L709 340.34 L711.4 337.02 L713.8 333.7 L716.1 330.38 L718.5 327.07" fill="none" stroke="#1f77b4" stroke-width="2.08" stroke-linejoin="round" stroke-linecap="square"/>
<path d="M718.5 301.74 L720.9 298.35 L723.3 294.94 L725.6 291.49 L728 287.98 L730.4 284.41 L732.8 280.76 L735.1 277.02 L737.5 273.17 L739.9 269.21 L742.3 265.14 L744.6 260.96 L747 256.71 L749.4 252.42 L751.8 248.1 L754.1 243.76 L756.5 239.4 L758.9 235.01 L761.3 230.59 L763.6 226.12 L766 221.58 L768.4 216.94 L770.8 212.2 L773.1 207.34 L775.5 202.37 L777.9 197.3 L780.3 192.15 L782.6 186.95 L785 181.72" fill="none" stroke="#1f77b4" stroke-width="2.08" stroke-linejoin="round" stroke-linecap="square"/>
<g fill="#ff7f0e" stroke="#ff7f0e" stroke-width="1.39"><circle cx="77.4" cy="568" r="4.17"/><circle cx="79.77" cy="568" r="4.17"/><circle cx="82.15" cy="568" r="4.17"/><circle cx="84.52" cy="568" r="4.17"/><circle cx="86.9" cy="568" r="4.17"/><circle cx="89.27" cy="568" r="4.17"/><circle cx="91.65" cy="568" r="4.17"/><circle cx="94.02" cy="568" r="4.17"/><circle cx="96.4" cy="568" r="4.17"/><circle cx="98.77" cy="568" r="4.17"/><circle cx="101.14" cy="568" r="4.17"/><circle cx="103.52" cy="568" r="4.17"/><circle cx="105.89" cy="568" r="4.17"/><circle cx="108.27" cy="568" r="4.17"/><circle cx="110.64" cy="568" r="4.17"/><circle cx="113.02" cy="568" r="4.17"/><circle cx="115.39" cy="568" r="4.17"/><circle cx="117.77" cy="568" r="4.17"/><circle cx="120.14" cy="568" r="4.17"/><circle cx="122.52" cy="568" r="4.17"/><circle cx="124.89" cy="568" r="4.17"/><circle cx="127.26" cy="568" r="4.17"/><circle cx="129.64" cy="567.99" r="4.17"/><circle cx="132.01" cy="567.97" r="4.17"/><circle cx="134.39" cy="567.95" r="4.17"/><circle cx="136.76" cy="567.94" r="4.17"/><circle cx="139.14" cy="567.94" r="4.17"/><circle cx="141.51" cy="567.88" r="4.17"/><circle cx="143.89" cy="567.67" r="4.17"/><circle cx="146.26" cy="567.47" r="4.17"/><circle cx="148.63" cy="567.36" r="4.17"/><circle cx="151.01" cy="567.3" r="4.17"/><circle cx="153.38" cy="567.25" r="4.17"/><circle cx="155.76" cy="567.2" r="4.17"/><circle cx="158.13" cy="567.13" r="4.17"/><circle cx="160.51" cy="567.04" r="4.17"/><circle cx="162.88" cy="566.94" r="4.17"/><circle cx="165.26" cy="566.86" r="4.17"/><circle cx="167.63" cy="566.82" r="4.17"/><circle cx="170.01" cy="566.8" r="4.17"/><circle cx="172.38" cy="566.73" r="4.17"/><circle cx="174.75" cy="566.53" r="4.17"/><circle cx="177.13" cy="566.2" r="4.17"/><circle cx="179.5" cy="565.8" r="4.17"/><circle cx="181.88" cy="565.43" r="4.17"/><circle cx="184.25" cy="565.12" r="4.17"/><circle cx="186.63" cy="564.88" r="4.17"/><circle cx="189" cy="564.65" r="4.17"/><circle cx="191.38" cy="564.36" r="4.17"/><circle cx="193.75" cy="564.02" r="4.17"/><circle cx="196.12" cy="563.62" r="4.17"/><circle cx="198.5" cy="563.21" r="4.17"/><circle cx="200.87" cy="562.85" r="4.17"/><circle cx="203.25" cy="562.46" r="4.17"/><circle cx="205.62" cy="561.92" r="4.17"/><circle cx="208" cy="561.17" r="4.17"/><circle cx="210.37" cy="560.33" r="4.17"/><circle cx="212.75" cy="559.51" r="4.17"/><circle cx="215.12" cy="558.84" r="4.17"/><circle cx="217.5" cy="558.37" r="4.17"/><circle cx="219.87" cy="558.03" r="4.17"/><circle cx="222.24" cy="557.66" r="4.17"/><circle cx="224.62" cy="557.14" r="4.17"/><circle cx="226.99" cy="556.46" r="4.17"/><circle cx="229.37" cy="555.74" r="4.17"/><circle cx="231.74" cy="555.14" r="4.17"/><circle cx="234.12" cy="554.73" r="4.17"/><circle cx="236.49" cy="554.45" r="4.17"/><circle cx="238.87" cy="554.17" r="4.17"/><circle cx="241.24" cy="553.76" r="4.17"/><circle cx="243.61" cy="553.21" r="4.17"/><circle cx="245.99" cy="552.58" r="4.17"/><circle cx="248.36" cy="552.02" r="4.17"/><circle cx="250.74" cy="551.59" r="4.17"/><circle cx="253.11" cy="551.27" r="4.17"/><circle cx="255.49" cy="550.93" r="4.17"/><circle cx="257.86" cy="550.46" r="4.17"/><circle cx="260.24" cy="549.83" r="4.17"/><circle cx="262.61" cy="549.13" r="4.17"/><circle cx="264.99" cy="548.54" r="4.17"/><circle cx="267.36" cy="548.12" r="4.17"/><circle cx="269.73" cy="547.85" r="4.17"/><circle cx="272.11" cy="547.59" r="4.17"/><circle cx="274.48" cy="547.25" r="4.17"/><circle cx="276.86" cy="546.81" r="4.17"/><circle cx="279.23" cy="546.34" r="4.17"/><circle cx="281.61" cy="545.93" r="4.17"/><circle cx="283.98" cy="545.64" r="4.17"/><circle cx="286.36" cy="545.43" r="4.17"/><circle cx="288.73" cy="545.21" r="4.17"/><circle cx="291.1" cy="544.89" r="4.17"/><circle cx="293.48" cy="544.44" r="4.17"/><circle cx="295.85" cy="543.92" r="4.17"/><circle cx="298.23" cy="543.45" r="4.17"/><circle cx="300.6" cy="543.1" r="4.17"/><circle cx="302.98" cy="542.86" r="4.17"/><circle cx="305.35" cy="542.61" r="4.17"/><circle cx="307.73" cy="542.28" r="4.17"/><circle cx="310.1" cy="541.85" r="4.17"/><circle cx="312.48" cy="541.4" r="4.17"/><circle cx="314.85" cy="541.02" r="4.17"/><circle cx="317.22" cy="540.76" r="4.17"/><circle cx="319.6" cy="540.58" r="4.17"/><circle cx="321.97" cy="540.4" r="4.17"/><circle cx="324.35" cy="540.13" r="4.17"/><circle cx="326.72" cy="539.74" r="4.17"/><circle cx="329.1" cy="539.27" r="4.17"/><circle cx="331.47" cy="538.8" r="4.17"/><circle cx="333.85" cy="538.4" r="4.17"/><circle cx="336.22" cy="538.1" r="4.17"/><circle cx="338.59" cy="537.8" r="4.17"/><circle cx="340.97" cy="537.41" r="4.17"/><circle cx="343.34" cy="536.9" r="4.17"/><circle cx="345.72" cy="536.35" r="4.17"/><circle cx="348.09" cy="535.86" r="4.17"/><circle cx="350.47" cy="535.49" r="4.17"/><circle cx="352.84" cy="535.23" r="4.17"/><circle cx="355.22" cy="534.97" r="4.17"/><circle cx="357.59" cy="534.58" r="4.17"/><circle cx="359.97" cy="534" r="4.17"/><circle cx="362.34" cy="533.3" r="4.17"/><circle cx="364.71" cy="532.61" r="4.17"/><circle cx="367.09" cy="532.07" r="4.17"/><circle cx="369.46" cy="531.66" r="4.17"/><circle cx="371.84" cy="531.26" r="4.17"/><circle cx="374.21" cy="530.69" r="4.17"/><circle cx="376.59" cy="529.94" r="4.17"/><circle cx="378.96" cy="529.14" r="4.17"/><circle cx="381.34" cy="528.45" r="4.17"/><circle cx="383.71" cy="527.96" r="4.17"/><circle cx="386.08" cy="527.62" r="4.17"/><circle cx="388.46" cy="527.28" r="4.17"/><circle cx="390.83" cy="526.8" r="4.17"/><circle cx="393.21" cy="526.15" r="4.17"/><circle cx="395.58" cy="525.41" r="4.17"/><circle cx="397.96" cy="524.74" r="4.17"/><circle cx="400.33" cy="524.23" r="4.17"/><circle cx="402.71" cy="523.85" r="4.17"/><circle cx="405.08" cy="523.48" r="4.17"/><circle cx="407.46" cy="522.95" r="4.17"/><circle cx="409.83" cy="522.23" r="4.17"/><circle cx="412.2" cy="521.4" r="4.17"/><circle cx="414.58" cy="520.64" r="4.17"/><circle cx="416.95" cy="520.08" r="4.17"/><circle cx="419.33" cy="519.68" r="4.17"/><circle cx="421.7" cy="519.27" r="4.17"/><circle cx="424.08" cy="518.66" r="4.17"/><circle cx="426.45" cy="517.81" r="4.17"/><circle cx="428.83" cy="516.84" r="4.17"/><circle cx="431.2" cy="515.98" r="4.17"/><circle cx="433.57" cy="515.36" r="4.17"/><circle cx="435.95" cy="514.92" r="4.17"/><circle cx="438.32" cy="514.51" r="4.17"/><circle cx="440.7" cy="513.98" r="4.17"/><circle cx="443.07" cy="513.32" r="4.17"/><circle cx="445.45" cy="512.62" r="4.17"/><circle cx="447.82" cy="512.04" r="4.17"/><circle cx="450.2" cy="511.63" r="4.17"/><circle cx="452.57" cy="511.34" r="4.17"/><circle cx="454.94" cy="511.05" r="4.17"/><circle cx="457.32" cy="510.64" r="4.17"/><circle cx="459.69" cy="510.05" r="4.17"/><circle cx="462.07" cy="509.39" r="4.17"/><circle cx="464.44" cy="508.8" r="4.17"/><circle cx="466.82" cy="508.36" r="4.17"/><circle cx="469.19" cy="508.06" r="4.17"/><circle cx="471.57" cy="507.75" r="4.17"/><circle cx="473.94" cy="507.3" r="4.17"/><circle cx="476.32" cy="506.66" r="4.17"/><circle cx="478.69" cy="505.9" r="4.17"/><circle cx="481.06" cy="505.15" r="4.17"/><circle cx="483.44" cy="504.61" r="4.17"/><circle cx="485.81" cy="504.23" r="4.17"/><circle cx="488.19" cy="503.65" r="4.17"/><circle cx="490.56" cy="502.17" r="4.17"/><circle cx="492.94" cy="499.92" r="4.17"/><circle cx="495.31" cy="497.23" r="4.17"/><circle cx="497.69" cy="495.1" r="4.17"/><circle cx="500.06" cy="493.83" r="4.17"/><circle cx="502.43" cy="493.32" r="4.17"/><circle cx="504.81" cy="492.9" r="4.17"/><circle cx="507.18" cy="492.28" r="4.17"/><circle cx="509.56" cy="491.32" r="4.17"/><circle cx="511.93" cy="490.09" r="4.17"/><circle cx="514.31" cy="488.9" r="4.17"/><circle cx="516.68" cy="487.98" r="4.17"/><circle cx="519.06" cy="487.35" r="4.17"/><circle cx="521.43" cy="486.79" r="4.17"/><circle cx="523.81" cy="486.05" r="4.17"/><circle cx="526.18" cy="485.1" r="4.17"/><circle cx="528.55" cy="484.06" r="4.17"/><circle cx="530.93" cy="483.14" r="4.17"/><circle cx="533.3" cy="482.51" r="4.17"/><circle cx="535.68" cy="482.1" r="4.17"/><circle cx="538.05" cy="481.67" r="4.17"/><circle cx="540.43" cy="480.94" r="4.17"/><circle cx="542.8" cy="479.66" r="4.17"/><circle cx="545.18" cy="478.06" r="4.17"/><circle cx="547.55" cy="476.63" r="4.17"/><circle cx="549.92" cy="475.71" r="4.17"/><circle cx="552.3" cy="475.25" r="4.17"/><circle cx="554.67" cy="474.88" r="4.17"/><circle cx="557.05" cy="474.31" r="4.17"/><circle cx="559.42" cy="473.38" r="4.17"/><circle cx="561.8" cy="472.08" r="4.17"/><circle cx="564.17" cy="470.7" r="4.17"/><circle cx="566.55" cy="469.57" r="4.17"/><circle cx="568.92" cy="468.74" r="4.17"/><circle cx="571.3" cy="467.97" r="4.17"/><circle cx="573.67" cy="466.87" r="4.17"/><circle cx="576.04" cy="465.37" r="4.17"/><circle cx="578.42" cy="463.74" r="4.17"/><circle cx="580.79" cy="462.35" r="4.17"/><circle cx="583.17" cy="461.39" r="4.17"/><circle cx="585.54" cy="460.74" r="4.17"/><circle cx="587.92" cy="460.09" r="4.17"/><circle cx="590.29" cy="459.1" r="4.17"/><circle cx="592.67" cy="457.66" r="4.17"/><circle cx="595.04" cy="456" r="4.17"/><circle cx="597.41" cy="454.52" r="4.17"/><circle cx="599.79" cy="453.46" r="4.17"/><circle cx="602.16" cy="452.79" r="4.17"/><circle cx="604.54" cy="452.19" r="4.17"/><circle cx="606.91" cy="451.32" r="4.17"/><circle cx="609.29" cy="449.98" r="4.17"/><circle cx="611.66" cy="448.26" r="4.17"/><circle cx="614.04" cy="446.51" r="4.17"/><circle cx="616.41" cy="445.12" r="4.17"/><circle cx="618.79" cy="444.12" r="4.17"/><circle cx="621.16" cy="443.22" r="4.17"/><circle cx="623.53" cy="442.05" r="4.17"/><circle cx="625.91" cy="440.45" r="4.17"/><circle cx="628.28" cy="438.56" r="4.17"/><circle cx="630.66" cy="436.71" r="4.17"/><circle cx="633.03" cy="435.27" r="4.17"/><circle cx="635.41" cy="434.24" r="4.17"/><circle cx="637.78" cy="433.13" r="4.17"/><circle cx="640.16" cy="431.23" r="4.17"/><circle cx="642.53" cy="428.06" r="4.17"/><circle cx="644.9" cy="424.23" r="4.17"/><circle cx="647.28" cy="420.56" r="4.17"/><circle cx="649.65" cy="417.86" r="4.17"/><circle cx="652.03" cy="416.05" r="4.17"/><circle cx="654.4" cy="414.2" r="4.17"/><circle cx="656.78" cy="411.76" r="4.17"/><circle cx="659.15" cy="408.16" r="4.17"/><circle cx="661.53" cy="403.79" r="4.17"/><circle cx="663.9" cy="399.31" r="4.17"/><circle cx="666.28" cy="394.35" r="4.17"/><circle cx="668.65" cy="389.16" r="4.17"/><circle cx="671.02" cy="384.02" r="4.17"/><circle cx="673.4" cy="377.14" r="4.17"/><circle cx="675.77" cy="370.75" r="4.17"/><circle cx="678.15" cy="365.07" r="4.17"/><circle cx="680.52" cy="359.72" r="4.17"/><circle cx="682.9" cy="354.78" r="4.17"/><circle cx="685.27" cy="350.62" r="4.17"/><circle cx="687.65" cy="347.12" r="4.17"/><circle cx="690.02" cy="343.44" r="4.17"/><circle cx="692.39" cy="339.05" r="4.17"/><circle cx="694.77" cy="333.97" r="4.17"/><circle cx="697.14" cy="329.07" r="4.17"/><circle cx="699.52" cy="325.14" r="4.17"/><circle cx="701.89" cy="321.96" r="4.17"/><circle cx="704.27" cy="319.05" r="4.17"/><circle cx="706.64" cy="316.09" r="4.17"/><circle cx="709.02" cy="312.97" r="4.17"/><circle cx="711.39" cy="309.7" r="4.17"/><circle cx="713.77" cy="306.79" r="4.17"/><circle cx="716.14" cy="304.53" r="4.17"/><circle cx="718.51" cy="302.58" r="4.17"/><circle cx="720.89" cy="300.23" r="4.17"/><circle cx="723.26" cy="297.1" r="4.17"/><circle cx="725.64" cy="293.58" r="4.17"/><circle cx="728.01" cy="290.29" r="4.17"/><circle cx="730.39" cy="287.57" r="4.17"/><circle cx="732.76" cy="285.68" r="4.17"/><circle cx="735.14" cy="284.44" r="4.17"/><circle cx="737.51" cy="283.24" r="4.17"/><circle cx="739.88" cy="281.46" r="4.17"/><circle cx="742.26" cy="278.94" r="4.17"/><circle cx="744.63" cy="276.09" r="4.17"/><circle cx="747.01" cy="273.58" r="4.17"/><circle cx="749.38" cy="271.84" r="4.17"/><circle cx="751.76" cy="270.73" r="4.17"/><circle cx="754.13" cy="269.74" r="4.17"/><circle cx="756.51" cy="268.36" r="4.17"/><circle cx="758.88" cy="266.35" r="4.17"/><circle cx="761.26" cy="263.88" r="4.17"/><circle cx="763.63" cy="261.42" r="4.17"/><circle cx="766" cy="259.52" r="4.17"/><circle cx="768.38" cy="258.2" r="4.17"/><circle cx="770.75" cy="257.06" r="4.17"/><circle cx="773.13" cy="255.42" r="4.17"/><circle cx="775.5" cy="253.4" r="4.17"/><circle cx="777.88" cy="251.58" r="4.17"/><circle cx="780.25" cy="250.52" r="4.17"/><circle cx="782.63" cy="250.07" r="4.17"/><circle cx="785" cy="250.03" r="4.17"/></g>
<line x1="719" x2="719" y1="567.5" y2="15.5" stroke="#1f77b4" stroke-opacity="0.5" stroke-width="2.08" stroke-dasharray="7.71 3.33"/>
</g>
<rect x="77.5" y="15.5" width="708" height="553" fill="none" stroke="#000" stroke-width="1.11"/>
<line x1="72.64" x2="77.5" y1="568.5" y2="568.5" stroke="#000" stroke-width="1.11"/>
<text x="68.6" y="573.5" text-anchor="end" letter-spacing="-0.3">0</text>
<line x1="72.64" x2="77.5" y1="452.5" y2="452.5" stroke="#000" stroke-width="1.11"/>
<text x="67.8" y="457.5" text-anchor="end" letter-spacing="-0.3">100000</text>
<line x1="72.64" x2="77.5" y1="336.5" y2="336.5" stroke="#000" stroke-width="1.11"/>
<text x="67.8" y="341.5" text-anchor="end" letter-spacing="-0.3">200000</text>
<line x1="72.64" x2="77.5" y1="220.5" y2="220.5" stroke="#000" stroke-width="1.11"/>
<text x="67" y="224.5" text-anchor="end" letter-spacing="-0.3">300000</text>
<line x1="72.64" x2="77.5" y1="104.5" y2="104.5" stroke="#000" stroke-width="1.11"/>
<text x="67.7" y="108.5" text-anchor="end" letter-spacing="-0.3">400000</text>
<line x1="77.5" x2="77.5" y1="568.5" y2="573.36" stroke="#000" stroke-width="1.11"/>
<line x1="89.5" x2="89.5" y1="568.5" y2="571.28" stroke="#000" stroke-width="0.83"/>
<line x1="106.5" x2="106.5" y1="568.5" y2="571.28" stroke="#000" stroke-width="0.83"/>
<line x1="123.5" x2="123.5" y1="568.5" y2="571.28" stroke="#000" stroke-width="0.83"/>
<line x1="139.5" x2="139.5" y1="568.5" y2="571.28" stroke="#000" stroke-width="0.83"/>
<line x1="144.5" x2="144.5" y1="568.5" y2="573.36" stroke="#000" stroke-width="1.11"/>
<line x1="156.5" x2="156.5" y1="568.5" y2="571.28" stroke="#000" stroke-width="0.83"/>
<line x1="172.5" x2="172.5" y1="568.5" y2="571.28" stroke="#000" stroke-width="0.83"/>
<line x1="189.5" x2="189.5" y1="568.5" y2="571.28" stroke="#000" stroke-width="0.83"/>
<line x1="206.5" x2="206.5" y1="568.5" y2="571.28" stroke="#000" stroke-width="0.83"/>
<line x1="215.5" x2="215.5" y1="568.5" y2="573.36" stroke="#000" stroke-width="1.11"/>
<line x1="222.5" x2="222.5" y1="568.5" y2="571.28" stroke="#000" stroke-width="0.83"/>
<line x1="239.5" x2="239.5" y1="568.5" y2="571.28" stroke="#000" stroke-width="0.83"/>
<line x1="255.5" x2="255.5" y1="568.5" y2="571.28" stroke="#000" stroke-width="0.83"/>
<line x1="272.5" x2="272.5" y1="568.5" y2="571.28" stroke="#000" stroke-width="0.83"/>
<line x1="289.5" x2="289.5" y1="568.5" y2="573.36" stroke="#000" stroke-width="1.11"/>
<line x1="305.5" x2="305.5" y1="568.5" y2="571.28" stroke="#000" stroke-width="0.83"/>
<line x1="322.5" x2="322.5" y1="568.5" y2="571.28" stroke="#000" stroke-width="0.83"/>
<line x1="339.5" x2="339.5" y1="568.5" y2="571.28" stroke="#000" stroke-width="0.83"/>
<line x1="355.5" x2="355.5" y1="568.5" y2="571.28" stroke="#000" stroke-width="0.83"/>
<line x1="360.5" x2="360.5" y1="568.5" y2="573.36" stroke="#000" stroke-width="1.11"/>
<line x1="372.5" x2="372.5" y1="568.5" y2="571.28" stroke="#000" stroke-width="0.83"/>
<line x1="388.5" x2="388.5" y1="568.5" y2="571.28" stroke="#000" stroke-width="0.83"/>
<line x1="405.5" x2="405.5" y1="568.5" y2="571.28" stroke="#000" stroke-width="0.83"/>
<line x1="422.5" x2="422.5" y1="568.5" y2="571.28" stroke="#000" stroke-width="0.83"/>
<line x1="434.5" x2="434.5" y1="568.5" y2="573.36" stroke="#000" stroke-width="1.11"/>
<line x1="438.5" x2="438.5" y1="568.5" y2="571.28" stroke="#000" stroke-width="0.83"/>
<line x1="455.5" x2="455.5" y1="568.5" y2="571.28" stroke="#000" stroke-width="0.83"/>
<line x1="472.5" x2="472.5" y1="568.5" y2="571.28" stroke="#000" stroke-width="0.83"/>
<line x1="488.5" x2="488.5" y1="568.5" y2="571.28" stroke="#000" stroke-width="0.83"/>
<line x1="505.5" x2="505.5" y1="568.5" y2="571.28" stroke="#000" stroke-width="0.83"/>
<line x1="507.5" x2="507.5" y1="568.5" y2="573.36" stroke="#000" stroke-width="1.11"/>
<line x1="521.5" x2="521.5" y1="568.5" y2="571.28" stroke="#000" stroke-width="0.83"/>
<line x1="538.5" x2="538.5" y1="568.5" y2="571.28" stroke="#000" stroke-width="0.83"/>
<line x1="555.5" x2="555.5" y1="568.5" y2="571.28" stroke="#000" stroke-width="0.83"/>
<line x1="571.5" x2="571.5" y1="568.5" y2="571.28" stroke="#000" stroke-width="0.83"/>
<line x1="578.5" x2="578.5" y1="568.5" y2="573.36" stroke="#000" stroke-width="1.11"/>
<line x1="588.5" x2="588.5" y1="568.5" y2="571.28" stroke="#000" stroke-width="0.83"/>
<line x1="605.5" x2="605.5" y1="568.5" y2="571.28" stroke="#000" stroke-width="0.83"/>
<line x1="621.5" x2="621.5" y1="568.5" y2="571.28" stroke="#000" stroke-width="0.83"/>
<line x1="638.5" x2="638.5" y1="568.5" y2="571.28" stroke="#000" stroke-width="0.83"/>
<line x1="652.5" x2="652.5" y1="568.5" y2="573.36" stroke="#000" stroke-width="1.11"/>
<line x1="654.5" x2="654.5" y1="568.5" y2="571.28" stroke="#000" stroke-width="0.83"/>
<line x1="671.5" x2="671.5" y1="568.5" y2="571.28" stroke="#000" stroke-width="0.83"/>
<line x1="688.5" x2="688.5" y1="568.5" y2="571.28" stroke="#000" stroke-width="0.83"/>
<line x1="704.5" x2="704.5" y1="568.5" y2="571.28" stroke="#000" stroke-width="0.83"/>
<line x1="721.5" x2="721.5" y1="568.5" y2="571.28" stroke="#000" stroke-width="0.83"/>
<line x1="723.5" x2="723.5" y1="568.5" y2="573.36" stroke="#000" stroke-width="1.11"/>
<line x1="738.5" x2="738.5" y1="568.5" y2="571.28" stroke="#000" stroke-width="0.83"/>
<line x1="754.5" x2="754.5" y1="568.5" y2="571.28" stroke="#000" stroke-width="0.83"/>
<line x1="771.5" x2="771.5" y1="568.5" y2="571.28" stroke="#000" stroke-width="0.83"/>
<line x1="785.5" x2="785.5" y1="568.5" y2="573.36" stroke="#000" stroke-width="1.11"/>
<rect x="84.44" y="22.44" width="121.2" height="25" rx="2.8" ry="2.8" fill="#fff" fill-opacity="0.8" stroke="#ccc" stroke-opacity="0.8" stroke-width="1.39"/>
<line x1="90" x2="117.78" y1="34" y2="34" stroke="#1f77b4" stroke-width="2.08" stroke-linecap="square"/>
<text x="128.39" y="38">confirmed</text>
<clipPath id="c2"><rect x="77.5" y="592.5" width="708" height="553"/></clipPath>
<g clip-path="url(#c2)">
<path d="M77.4 1144.8 L79.8 1144.8 L82.1 1144.8 L84.5 1144.79 L86.9 1144.79 L89.3 1144.79 L91.6 1144.78 L94 1144.78 L96.4 1144.77 L98.8 1144.77 L101.1 1144.76 L103.5 1144.75 L105.9 1144.75 L108.3 1144.74 L110.6 1144.73 L113 1144.72 L115.4 1144.71 L117.8 1144.7 L120.1 1144.69 L122.5 1144.67 L124.9 1144.65 L127.3 1144.63 L129.6 1144.61 L132 1144.58 L134.4 1144.54 L136.8 1144.49 L139.1 1144.43 L141.5 1144.36 L143.9 1144.28 L146.3 1144.18 L148.6 1144.07 L151 1143.93 L153.4 1143.78 L155.8 1143.6 L158.1 1143.39 L160.5 1143.16 L162.9 1142.9 L165.3 1142.63 L167.6 1142.33 L170 1142.01 L172.4 1141.68 L174.8 1141.33 L177.1 1140.95 L179.5 1140.56 L181.9 1140.14 L184.3 1139.69 L186.6 1139.21 L189 1138.7 L191.4 1138.16 L193.8 1137.58 L196.1 1136.97 L198.5 1136.33 L200.9 1135.66 L203.2 1134.97 L205.6 1134.26 L208 1133.53 L210.4 1132.79 L212.7 1132.04 L215.1 1131.28 L217.5 1130.52 L219.9 1129.76 L222.2 1128.99 L224.6 1128.22 L227 1127.44 L229.4 1126.65 L231.7 1125.84 L234.1 1124.99 L236.5 1124.11 L238.9 1123.18 L241.2 1122.2 L243.6 1121.16 L246 1120.08 L248.4 1118.94 L250.7 1117.77 L253.1 1116.56 L255.5 1115.32 L257.9 1114.05 L260.2 1112.76 L262.6 1111.45 L265 1110.13 L267.4 1108.82 L269.7 1107.51 L272.1 1106.23 L274.5 1104.99 L276.9 1103.81 L279.2 1102.68 L281.6 1101.62 L284 1100.62 L286.4 1099.68 L288.7 1098.79 L291.1 1097.95 L293.5 1097.16 L295.9 1096.41 L298.2 1095.72 L300.6 1095.07 L303 1094.46 L305.4 1093.89 L307.7 1093.35 L310.1 1092.85 L312.5 1092.36 L314.8 1091.89 L317.2 1091.43 L319.6 1090.97 L322 1090.52 L324.3 1090.07 L326.7 1089.63 L329.1 1089.2 L331.5 1088.78 L333.8 1088.37 L336.2 1087.98 L338.6 1087.61 L341 1087.26 L343.3 1086.93 L345.7 1086.61 L348.1 1086.29 L350.5 1085.98 L352.8 1085.65 L355.2 1085.32 L357.6 1084.97 L360 1084.6 L362.3 1084.22 L364.7 1083.81 L367.1 1083.4 L369.5 1082.97 L371.8 1082.53 L374.2 1082.08 L376.6 1081.62 L379 1081.15 L381.3 1080.66 L383.7 1080.17 L386.1 1079.66 L388.5 1079.14 L390.8 1078.61 L393.2 1078.07 L395.6 1077.53 L398 1076.98 L400.3 1076.44 L402.7 1075.89 L405.1 1075.35 L407.5 1074.81 L409.8 1074.28 L412.2 1073.74 L414.6 1073.21 L417 1072.68 L419.3 1072.15 L421.7 1071.63 L424.1 1071.1 L426.5 1070.57 L428.8 1070.04 L431.2 1069.5 L433.6 1068.96 L435.9 1068.41 L438.3 1067.86 L440.7 1067.3 L443.1 1066.73 L445.4 1066.15 L447.8 1065.57 L450.2 1064.98 L452.6 1064.38 L454.9 1063.76 L457.3 1063.14 L459.7 1062.5 L462.1 1061.85 L464.4 1061.17 L466.8 1060.48 L469.2 1059.76 L471.6 1059.02 L473.9 1058.27 L476.3 1057.5 L478.7 1056.71 L481.1 1055.91 L483.4 1055.11 L485.8 1054.3 L488.2 1053.49 L490.6 1052.68 L492.9 1051.88 L495.3 1051.07 L497.7 1050.27 L500.1 1049.47 L502.4 1048.67 L504.8 1047.87 L507.2 1047.07 L509.6 1046.26 L511.9 1045.46 L514.3 1044.66 L516.7 1043.86 L519.1 1043.07 L521.4 1042.29 L523.8 1041.52 L526.2 1040.76 L528.6 1040.01 L530.9 1039.26 L533.3 1038.53 L535.7 1037.8 L538.1 1037.09 L540.4 1036.39 L542.8 1035.7 L545.2 1035.02 L547.6 1034.34 L549.9 1033.67 L552.3 1033 L554.7 1032.32 L557 1031.64 L559.4 1030.94 L561.8 1030.22 L564.2 1029.49 L566.5 1028.74 L568.9 1027.97 L571.3 1027.17 L573.7 1026.35 L576 1025.51 L578.4 1024.64 L580.8 1023.75 L583.2 1022.83 L585.5 1021.89 L587.9 1020.93 L590.3 1019.95 L592.7 1018.95 L595 1017.94 L597.4 1016.91 L599.8 1015.86 L602.2 1014.79 L604.5 1013.69 L606.9 1012.56 L609.3 1011.41 L611.7 1010.22 L614 1009.01 L616.4 1007.77 L618.8 1006.5 L621.2 1005.21 L623.5 1003.9 L625.9 1002.57 L628.3 1001.23 L630.7 999.87 L633 998.49 L635.4 997.09 L637.8 995.68 L640.2 994.24 L642.5 992.77 L644.9 991.25 L647.3 989.68 L649.7 988.04 L652 986.33 L654.4 984.52 L656.8 982.61 L659.2 980.6 L661.5 978.51 L663.9 976.33 L666.3 974.09 L668.6 971.8 L671 969.49 L673.4 967.15 L675.8 964.8 L678.1 962.43 L680.5 960.04 L682.9 957.59 L685.3 955.07 L687.6 952.46 L690 949.73 L692.4 946.89 L694.8 943.93 L697.1 940.88 L699.5 937.75 L701.9 934.59 L704.3 931.42 L706.6 928.27 L709 925.15 L711.4 922.07 L713.8 919.03 L716.1 916.02 L718.5 913.03 L718.5 949.83 L716.1 952.26 L713.8 954.7 L711.4 957.17 L709 959.66 L706.6 962.16 L704.3 964.67 L701.9 967.18 L699.5 969.69 L697.1 972.2 L694.8 974.71 L692.4 977.23 L690 979.75 L687.6 982.27 L685.3 984.77 L682.9 987.24 L680.5 989.66 L678.1 992.02 L675.8 994.3 L673.4 996.49 L671 998.57 L668.6 1000.54 L666.3 1002.4 L663.9 1004.15 L661.5 1005.8 L659.2 1007.35 L656.8 1008.82 L654.4 1010.23 L652 1011.62 L649.7 1012.99 L647.3 1014.35 L644.9 1015.72 L642.5 1017.09 L640.2 1018.46 L637.8 1019.83 L635.4 1021.18 L633 1022.52 L630.7 1023.83 L628.3 1025.12 L625.9 1026.38 L623.5 1027.62 L621.2 1028.83 L618.8 1030.01 L616.4 1031.16 L614 1032.28 L611.7 1033.38 L609.3 1034.45 L606.9 1035.49 L604.5 1036.51 L602.2 1037.5 L599.8 1038.47 L597.4 1039.43 L595 1040.37 L592.7 1041.29 L590.3 1042.21 L587.9 1043.13 L585.5 1044.04 L583.2 1044.94 L580.8 1045.83 L578.4 1046.71 L576 1047.58 L573.7 1048.44 L571.3 1049.28 L568.9 1050.1 L566.5 1050.91 L564.2 1051.71 L561.8 1052.49 L559.4 1053.25 L557 1053.99 L554.7 1054.73 L552.3 1055.44 L549.9 1056.15 L547.6 1056.85 L545.2 1057.55 L542.8 1058.26 L540.4 1058.96 L538.1 1059.67 L535.7 1060.39 L533.3 1061.12 L530.9 1061.85 L528.6 1062.59 L526.2 1063.34 L523.8 1064.1 L521.4 1064.87 L519.1 1065.64 L516.7 1066.42 L514.3 1067.21 L511.9 1068 L509.6 1068.8 L507.2 1069.58 L504.8 1070.36 L502.4 1071.12 L500.1 1071.86 L497.7 1072.58 L495.3 1073.28 L492.9 1073.95 L490.6 1074.6 L488.2 1075.23 L485.8 1075.83 L483.4 1076.42 L481.1 1077 L478.7 1077.56 L476.3 1078.12 L473.9 1078.68 L471.6 1079.23 L469.2 1079.79 L466.8 1080.36 L464.4 1080.94 L462.1 1081.52 L459.7 1082.11 L457.3 1082.7 L454.9 1083.3 L452.6 1083.89 L450.2 1084.48 L447.8 1085.07 L445.4 1085.65 L443.1 1086.23 L440.7 1086.8 L438.3 1087.36 L435.9 1087.91 L433.6 1088.46 L431.2 1089 L428.8 1089.53 L426.5 1090.06 L424.1 1090.59 L421.7 1091.1 L419.3 1091.61 L417 1092.12 L414.6 1092.61 L412.2 1093.1 L409.8 1093.58 L407.5 1094.05 L405.1 1094.52 L402.7 1094.97 L400.3 1095.43 L398 1095.87 L395.6 1096.31 L393.2 1096.74 L390.8 1097.16 L388.5 1097.57 L386.1 1097.96 L383.7 1098.33 L381.3 1098.68 L379 1099.01 L376.6 1099.31 L374.2 1099.59 L371.8 1099.84 L369.5 1100.08 L367.1 1100.3 L364.7 1100.5 L362.3 1100.7 L360 1100.9 L357.6 1101.09 L355.2 1101.28 L352.8 1101.48 L350.5 1101.69 L348.1 1101.92 L345.7 1102.16 L343.3 1102.42 L341 1102.7 L338.6 1103.01 L336.2 1103.34 L333.8 1103.69 L331.5 1104.07 L329.1 1104.47 L326.7 1104.89 L324.3 1105.34 L322 1105.8 L319.6 1106.28 L317.2 1106.79 L314.8 1107.32 L312.5 1107.87 L310.1 1108.44 L307.7 1109.03 L305.4 1109.64 L303 1110.26 L300.6 1110.89 L298.2 1111.55 L295.9 1112.21 L293.5 1112.89 L291.1 1113.59 L288.7 1114.3 L286.4 1115.02 L284 1115.74 L281.6 1116.47 L279.2 1117.2 L276.9 1117.92 L274.5 1118.65 L272.1 1119.36 L269.7 1120.08 L267.4 1120.8 L265 1121.54 L262.6 1122.29 L260.2 1123.05 L257.9 1123.84 L255.5 1124.64 L253.1 1125.46 L250.7 1126.28 L248.4 1127.1 L246 1127.91 L243.6 1128.69 L241.2 1129.46 L238.9 1130.19 L236.5 1130.9 L234.1 1131.58 L231.7 1132.24 L229.4 1132.88 L227 1133.51 L224.6 1134.12 L222.2 1134.72 L219.9 1135.31 L217.5 1135.9 L215.1 1136.48 L212.7 1137.05 L210.4 1137.61 L208 1138.16 L205.6 1138.7 L203.2 1139.23 L200.9 1139.74 L198.5 1140.23 L196.1 1140.69 L193.8 1141.12 L191.4 1141.52 L189 1141.89 L186.6 1142.23 L184.3 1142.53 L181.9 1142.8 L179.5 1143.05 L177.1 1143.28 L174.8 1143.5 L172.4 1143.7 L170 1143.88 L167.6 1144.06 L165.3 1144.23 L162.9 1144.39 L160.5 1144.53 L158.1 1144.67 L155.8 1144.79 L153.4 1144.9 L151 1145 L148.6 1145.08 L146.3 1145.14 L143.9 1145.2 L141.5 1145.24 L139.1 1145.28 L136.8 1145.31 L134.4 1145.32 L132 1145.33 L129.6 1145.34 L127.3 1145.33 L124.9 1145.33 L122.5 1145.32 L120.1 1145.31 L117.8 1145.3 L115.4 1145.29 L113 1145.28 L110.6 1145.27 L108.3 1145.26 L105.9 1145.25 L103.5 1145.25 L101.1 1145.24 L98.8 1145.23 L96.4 1145.23 L94 1145.22 L91.6 1145.22 L89.3 1145.21 L86.9 1145.21 L84.5 1145.21 L82.1 1145.2 L79.8 1145.2 L77.4 1145.2Z" fill="#1f77b4" fill-opacity="0.1"/>
<path d="M718.5 939.98 L720.9 935.33 L723.3 930.65 L725.6 925.95 L728 921.21 L730.4 916.41 L732.8 911.57 L735.1 906.68 L737.5 901.73 L739.9 896.72 L742.3 891.64 L744.6 886.47 L747 881.22 L749.4 875.89 L751.8 870.51 L754.1 865.08 L756.5 859.62 L758.9 854.13 L761.3 848.61 L763.6 843.05 L766 837.46 L768.4 831.83 L770.8 826.18 L773.1 820.57 L775.5 815 L777.9 809.52 L780.3 804.11 L782.6 798.77 L785 793.46 L785 867.75 L782.6 869.68 L780.3 871.7 L777.9 873.84 L775.5 876.13 L773.1 878.57 L770.8 881.15 L768.4 883.84 L766 886.63 L763.6 889.48 L761.3 892.37 L758.9 895.28 L756.5 898.22 L754.1 901.17 L751.8 904.13 L749.4 907.06 L747 909.95 L744.6 912.76 L742.3 915.48 L739.9 918.1 L737.5 920.64 L735.1 923.13 L732.8 925.58 L730.4 927.98 L728 930.35 L725.6 932.67 L723.3 934.96 L720.9 937.23 L718.5 939.49Z" fill="#1f77b4" fill-opacity="0.1"/>
<path d="M77.4 1144.9 L79.8 1144.9 L82.1 1144.89 L84.5 1144.89 L86.9 1144.89 L89.3 1144.89 L91.6 1144.89 L94 1144.89 L96.4 1144.88 L98.8 1144.88 L101.1 1144.88 L103.5 1144.87 L105.9 1144.87 L108.3 1144.86 L110.6 1144.86 L113 1144.85 L115.4 1144.85 L117.8 1144.84 L120.1 1144.84 L122.5 1144.83 L124.9 1144.82 L127.3 1144.8 L129.6 1144.78 L132 1144.76 L134.4 1144.73 L136.8 1144.68 L139.1 1144.63 L141.5 1144.57 L143.9 1144.5 L146.3 1144.41 L148.6 1144.31 L151 1144.19 L153.4 1144.05 L155.8 1143.88 L158.1 1143.7 L160.5 1143.49 L162.9 1143.26 L165.3 1143.01 L167.6 1142.74 L170 1142.46 L172.4 1142.16 L174.8 1141.85 L177.1 1141.51 L179.5 1141.16 L181.9 1140.78 L184.3 1140.37 L186.6 1139.94 L189 1139.47 L191.4 1138.97 L193.8 1138.43 L196.1 1137.86 L198.5 1137.26 L200.9 1136.64 L203.2 1135.99 L205.6 1135.32 L208 1134.64 L210.4 1133.94 L212.7 1133.24 L215.1 1132.53 L217.5 1131.81 L219.9 1131.09 L222.2 1130.37 L224.6 1129.64 L227 1128.9 L229.4 1128.15 L231.7 1127.37 L234.1 1126.57 L236.5 1125.74 L238.9 1124.86 L241.2 1123.94 L243.6 1122.97 L246 1121.96 L248.4 1120.9 L250.7 1119.81 L253.1 1118.69 L255.5 1117.55 L257.9 1116.4 L260.2 1115.23 L262.6 1114.05 L265 1112.87 L267.4 1111.69 L269.7 1110.53 L272.1 1109.38 L274.5 1108.27 L276.9 1107.2 L279.2 1106.17 L281.6 1105.19 L284 1104.25 L286.4 1103.36 L288.7 1102.51 L291.1 1101.7 L293.5 1100.94 L295.9 1100.21 L298.2 1099.52 L300.6 1098.86 L303 1098.25 L305.4 1097.67 L307.7 1097.12 L310.1 1096.59 L312.5 1096.08 L314.8 1095.59 L317.2 1095.11 L319.6 1094.64 L322 1094.18 L324.3 1093.73 L326.7 1093.29 L329.1 1092.86 L331.5 1092.45 L333.8 1092.05 L336.2 1091.67 L338.6 1091.31 L341 1090.97 L343.3 1090.65 L345.7 1090.34 L348.1 1090.04 L350.5 1089.75 L352.8 1089.45 L355.2 1089.15 L357.6 1088.84 L360 1088.51 L362.3 1088.17 L364.7 1087.82 L367.1 1087.45 L369.5 1087.07 L371.8 1086.68 L374.2 1086.28 L376.6 1085.86 L379 1085.43 L381.3 1084.99 L383.7 1084.53 L386.1 1084.05 L388.5 1083.56 L390.8 1083.06 L393.2 1082.55 L395.6 1082.03 L398 1081.51 L400.3 1080.99 L402.7 1080.47 L405.1 1079.95 L407.5 1079.43 L409.8 1078.91 L412.2 1078.39 L414.6 1077.87 L417 1077.35 L419.3 1076.82 L421.7 1076.3 L424.1 1075.78 L426.5 1075.25 L428.8 1074.72 L431.2 1074.18 L433.6 1073.64 L435.9 1073.09 L438.3 1072.54 L440.7 1071.98 L443.1 1071.41 L445.4 1070.83 L447.8 1070.25 L450.2 1069.66 L452.6 1069.06 L454.9 1068.45 L457.3 1067.83 L459.7 1067.21 L462.1 1066.57 L464.4 1065.91 L466.8 1065.25 L469.2 1064.57 L471.6 1063.87 L473.9 1063.17 L476.3 1062.45 L478.7 1061.71 L481.1 1060.97 L483.4 1060.22 L485.8 1059.47 L488.2 1058.71 L490.6 1057.94 L492.9 1057.18 L495.3 1056.4 L497.7 1055.63 L500.1 1054.85 L502.4 1054.06 L504.8 1053.27 L507.2 1052.47 L509.6 1051.67 L511.9 1050.87 L514.3 1050.07 L516.7 1049.28 L519.1 1048.49 L521.4 1047.71 L523.8 1046.94 L526.2 1046.18 L528.6 1045.43 L530.9 1044.68 L533.3 1043.95 L535.7 1043.23 L538.1 1042.51 L540.4 1041.81 L542.8 1041.11 L545.2 1040.43 L547.6 1039.75 L549.9 1039.07 L552.3 1038.39 L554.7 1037.7 L557 1037 L559.4 1036.29 L561.8 1035.57 L564.2 1034.82 L566.5 1034.06 L568.9 1033.28 L571.3 1032.48 L573.7 1031.65 L576 1030.81 L578.4 1029.94 L580.8 1029.05 L583.2 1028.14 L585.5 1027.2 L587.9 1026.26 L590.3 1025.29 L592.7 1024.32 L595 1023.32 L597.4 1022.32 L599.8 1021.29 L602.2 1020.24 L604.5 1019.17 L606.9 1018.07 L609.3 1016.94 L611.7 1015.78 L614 1014.59 L616.4 1013.38 L618.8 1012.14 L621.2 1010.88 L623.5 1009.59 L625.9 1008.29 L628.3 1006.96 L630.7 1005.62 L633 1004.25 L635.4 1002.87 L637.8 1001.47 L640.2 1000.05 L642.5 998.6 L644.9 997.12 L647.3 995.6 L649.7 994.03 L652 992.4 L654.4 990.69 L656.8 988.9 L659.2 987.02 L661.5 985.06 L663.9 983.01 L666.3 980.89 L668.6 978.7 L671 976.47 L673.4 974.19 L675.8 971.88 L678.1 969.54 L680.5 967.15 L682.9 964.71 L685.3 962.2 L687.6 959.61 L690 956.94 L692.4 954.17 L694.8 951.32 L697.1 948.4 L699.5 945.42 L701.9 942.42 L704.3 939.41 L706.6 936.43 L709 933.47 L711.4 930.56 L713.8 927.69 L716.1 924.86 L718.5 922.05 L718.5 944.97 L716.1 947.45 L713.8 949.95 L711.4 952.47 L709 955.02 L706.6 957.6 L704.3 960.19 L701.9 962.78 L699.5 965.38 L697.1 967.97 L694.8 970.56 L692.4 973.13 L690 975.7 L687.6 978.24 L685.3 980.76 L682.9 983.24 L680.5 985.66 L678.1 988.03 L675.8 990.32 L673.4 992.53 L671 994.64 L668.6 996.66 L666.3 998.58 L663.9 1000.4 L661.5 1002.11 L659.2 1003.73 L656.8 1005.28 L654.4 1006.76 L652 1008.2 L649.7 1009.62 L647.3 1011.02 L644.9 1012.42 L642.5 1013.81 L640.2 1015.19 L637.8 1016.57 L635.4 1017.93 L633 1019.27 L630.7 1020.59 L628.3 1021.89 L625.9 1023.17 L623.5 1024.42 L621.2 1025.64 L618.8 1026.84 L616.4 1028 L614 1029.14 L611.7 1030.25 L609.3 1031.34 L606.9 1032.4 L604.5 1033.43 L602.2 1034.44 L599.8 1035.42 L597.4 1036.39 L595 1037.34 L592.7 1038.28 L590.3 1039.21 L587.9 1040.13 L585.5 1041.05 L583.2 1041.95 L580.8 1042.85 L578.4 1043.73 L576 1044.6 L573.7 1045.46 L571.3 1046.29 L568.9 1047.12 L566.5 1047.92 L564.2 1048.71 L561.8 1049.48 L559.4 1050.24 L557 1050.98 L554.7 1051.7 L552.3 1052.41 L549.9 1053.12 L547.6 1053.82 L545.2 1054.51 L542.8 1055.21 L540.4 1055.91 L538.1 1056.63 L535.7 1057.34 L533.3 1058.07 L530.9 1058.8 L528.6 1059.54 L526.2 1060.3 L523.8 1061.05 L521.4 1061.82 L519.1 1062.6 L516.7 1063.38 L514.3 1064.17 L511.9 1064.96 L509.6 1065.75 L507.2 1066.54 L504.8 1067.32 L502.4 1068.09 L500.1 1068.84 L497.7 1069.57 L495.3 1070.28 L492.9 1070.97 L490.6 1071.64 L488.2 1072.29 L485.8 1072.93 L483.4 1073.54 L481.1 1074.15 L478.7 1074.75 L476.3 1075.34 L473.9 1075.92 L471.6 1076.51 L469.2 1077.09 L466.8 1077.68 L464.4 1078.27 L462.1 1078.86 L459.7 1079.46 L457.3 1080.06 L454.9 1080.66 L452.6 1081.26 L450.2 1081.85 L447.8 1082.44 L445.4 1083.02 L443.1 1083.6 L440.7 1084.17 L438.3 1084.73 L435.9 1085.28 L433.6 1085.83 L431.2 1086.37 L428.8 1086.9 L426.5 1087.43 L424.1 1087.96 L421.7 1088.47 L419.3 1088.99 L417 1089.49 L414.6 1089.99 L412.2 1090.49 L409.8 1090.98 L407.5 1091.46 L405.1 1091.93 L402.7 1092.4 L400.3 1092.86 L398 1093.32 L395.6 1093.77 L393.2 1094.22 L390.8 1094.66 L388.5 1095.08 L386.1 1095.49 L383.7 1095.88 L381.3 1096.25 L379 1096.6 L376.6 1096.92 L374.2 1097.22 L371.8 1097.5 L369.5 1097.77 L367.1 1098.02 L364.7 1098.25 L362.3 1098.48 L360 1098.7 L357.6 1098.91 L355.2 1099.13 L352.8 1099.35 L350.5 1099.57 L348.1 1099.81 L345.7 1100.06 L343.3 1100.33 L341 1100.62 L338.6 1100.93 L336.2 1101.26 L333.8 1101.62 L331.5 1102 L329.1 1102.41 L326.7 1102.83 L324.3 1103.27 L322 1103.74 L319.6 1104.22 L317.2 1104.72 L314.8 1105.24 L312.5 1105.78 L310.1 1106.33 L307.7 1106.91 L305.4 1107.51 L303 1108.12 L300.6 1108.76 L298.2 1109.41 L295.9 1110.08 L293.5 1110.77 L291.1 1111.48 L288.7 1112.2 L286.4 1112.95 L284 1113.7 L281.6 1114.47 L279.2 1115.24 L276.9 1116.02 L274.5 1116.8 L272.1 1117.59 L269.7 1118.38 L267.4 1119.18 L265 1120 L262.6 1120.82 L260.2 1121.66 L257.9 1122.52 L255.5 1123.39 L253.1 1124.26 L250.7 1125.13 L248.4 1126 L246 1126.85 L243.6 1127.68 L241.2 1128.48 L238.9 1129.25 L236.5 1129.98 L234.1 1130.69 L231.7 1131.38 L229.4 1132.04 L227 1132.69 L224.6 1133.32 L222.2 1133.95 L219.9 1134.56 L217.5 1135.17 L215.1 1135.77 L212.7 1136.37 L210.4 1136.96 L208 1137.54 L205.6 1138.1 L203.2 1138.65 L200.9 1139.19 L198.5 1139.7 L196.1 1140.19 L193.8 1140.64 L191.4 1141.07 L189 1141.46 L186.6 1141.82 L184.3 1142.15 L181.9 1142.44 L179.5 1142.72 L177.1 1142.97 L174.8 1143.2 L172.4 1143.42 L170 1143.63 L167.6 1143.83 L165.3 1144.01 L162.9 1144.19 L160.5 1144.35 L158.1 1144.5 L155.8 1144.63 L153.4 1144.75 L151 1144.85 L148.6 1144.94 L146.3 1145.01 L143.9 1145.08 L141.5 1145.13 L139.1 1145.16 L136.8 1145.2 L134.4 1145.22 L132 1145.23 L129.6 1145.24 L127.3 1145.24 L124.9 1145.24 L122.5 1145.23 L120.1 1145.23 L117.8 1145.22 L115.4 1145.21 L113 1145.2 L110.6 1145.2 L108.3 1145.19 L105.9 1145.18 L103.5 1145.18 L101.1 1145.17 L98.8 1145.17 L96.4 1145.16 L94 1145.16 L91.6 1145.16 L89.3 1145.15 L86.9 1145.15 L84.5 1145.15 L82.1 1145.15 L79.8 1145.15 L77.4 1145.15Z" fill="#1f77b4" fill-opacity="0.1"/>
<path d="M718.5 939.85 L720.9 935.83 L723.3 931.8 L725.6 927.74 L728 923.65 L730.4 919.5 L732.8 915.32 L735.1 911.08 L737.5 906.79 L739.9 902.45 L742.3 898.04 L744.6 893.55 L747 888.99 L749.4 884.35 L751.8 879.66 L754.1 874.92 L756.5 870.15 L758.9 865.35 L761.3 860.51 L763.6 855.63 L766 850.7 L768.4 845.72 L770.8 840.73 L773.1 835.76 L775.5 830.84 L777.9 825.99 L780.3 821.21 L782.6 816.5 L785 811.81 L785 858.01 L782.6 860.51 L780.3 863.07 L777.9 865.74 L775.5 868.53 L773.1 871.45 L770.8 874.49 L768.4 877.61 L766 880.8 L763.6 884.02 L761.3 887.25 L758.9 890.49 L756.5 893.72 L754.1 896.97 L751.8 900.2 L749.4 903.4 L747 906.56 L744.6 909.64 L742.3 912.64 L739.9 915.55 L737.5 918.38 L735.1 921.17 L732.8 923.9 L730.4 926.6 L728 929.25 L725.6 931.86 L723.3 934.44 L720.9 937 L718.5 939.55Z" fill="#1f77b4" fill-opacity="0.1"/>
<path d="M77.4 1144.94 L79.8 1144.94 L82.1 1144.94 L84.5 1144.94 L86.9 1144.94 L89.3 1144.94 L91.6 1144.94 L94 1144.94 L96.4 1144.94 L98.8 1144.94 L101.1 1144.93 L103.5 1144.93 L105.9 1144.93 L108.3 1144.93 L110.6 1144.92 L113 1144.92 L115.4 1144.92 L117.8 1144.91 L120.1 1144.91 L122.5 1144.9 L124.9 1144.9 L127.3 1144.89 L129.6 1144.87 L132 1144.85 L134.4 1144.82 L136.8 1144.78 L139.1 1144.74 L141.5 1144.68 L143.9 1144.61 L146.3 1144.53 L148.6 1144.43 L151 1144.32 L153.4 1144.18 L155.8 1144.03 L158.1 1143.85 L160.5 1143.65 L162.9 1143.44 L165.3 1143.2 L167.6 1142.95 L170 1142.69 L172.4 1142.41 L174.8 1142.11 L177.1 1141.79 L179.5 1141.46 L181.9 1141.1 L184.3 1140.71 L186.6 1140.3 L189 1139.85 L191.4 1139.37 L193.8 1138.86 L196.1 1138.31 L198.5 1137.73 L200.9 1137.13 L203.2 1136.5 L205.6 1135.86 L208 1135.2 L210.4 1134.52 L212.7 1133.84 L215.1 1133.15 L217.5 1132.46 L219.9 1131.76 L222.2 1131.05 L224.6 1130.34 L227 1129.63 L229.4 1128.89 L231.7 1128.14 L234.1 1127.36 L236.5 1126.55 L238.9 1125.7 L241.2 1124.81 L243.6 1123.87 L246 1122.9 L248.4 1121.88 L250.7 1120.83 L253.1 1119.76 L255.5 1118.67 L257.9 1117.57 L260.2 1116.46 L262.6 1115.35 L265 1114.24 L267.4 1113.13 L269.7 1112.03 L272.1 1110.96 L274.5 1109.91 L276.9 1108.89 L279.2 1107.91 L281.6 1106.97 L284 1106.07 L286.4 1105.2 L288.7 1104.37 L291.1 1103.58 L293.5 1102.82 L295.9 1102.1 L298.2 1101.42 L300.6 1100.76 L303 1100.15 L305.4 1099.56 L307.7 1099 L310.1 1098.46 L312.5 1097.94 L314.8 1097.44 L317.2 1096.96 L319.6 1096.48 L322 1096.02 L324.3 1095.56 L326.7 1095.12 L329.1 1094.69 L331.5 1094.28 L333.8 1093.89 L336.2 1093.51 L338.6 1093.16 L341 1092.82 L343.3 1092.51 L345.7 1092.21 L348.1 1091.92 L350.5 1091.63 L352.8 1091.35 L355.2 1091.07 L357.6 1090.77 L360 1090.47 L362.3 1090.15 L364.7 1089.82 L367.1 1089.48 L369.5 1089.13 L371.8 1088.76 L374.2 1088.38 L376.6 1087.99 L379 1087.58 L381.3 1087.15 L383.7 1086.71 L386.1 1086.25 L388.5 1085.77 L390.8 1085.29 L393.2 1084.79 L395.6 1084.29 L398 1083.78 L400.3 1083.27 L402.7 1082.76 L405.1 1082.25 L407.5 1081.74 L409.8 1081.23 L412.2 1080.71 L414.6 1080.2 L417 1079.68 L419.3 1079.16 L421.7 1078.64 L424.1 1078.11 L426.5 1077.59 L428.8 1077.06 L431.2 1076.52 L433.6 1075.98 L435.9 1075.43 L438.3 1074.88 L440.7 1074.32 L443.1 1073.75 L445.4 1073.17 L447.8 1072.59 L450.2 1072 L452.6 1071.4 L454.9 1070.8 L457.3 1070.18 L459.7 1069.56 L462.1 1068.93 L464.4 1068.29 L466.8 1067.63 L469.2 1066.97 L471.6 1066.3 L473.9 1065.61 L476.3 1064.92 L478.7 1064.22 L481.1 1063.5 L483.4 1062.78 L485.8 1062.05 L488.2 1061.32 L490.6 1060.57 L492.9 1059.82 L495.3 1059.07 L497.7 1058.31 L500.1 1057.53 L502.4 1056.75 L504.8 1055.97 L507.2 1055.17 L509.6 1054.38 L511.9 1053.58 L514.3 1052.78 L516.7 1051.99 L519.1 1051.2 L521.4 1050.42 L523.8 1049.65 L526.2 1048.89 L528.6 1048.14 L530.9 1047.4 L533.3 1046.66 L535.7 1045.94 L538.1 1045.22 L540.4 1044.52 L542.8 1043.82 L545.2 1043.13 L547.6 1042.45 L549.9 1041.76 L552.3 1041.08 L554.7 1040.39 L557 1039.69 L559.4 1038.97 L561.8 1038.24 L564.2 1037.49 L566.5 1036.72 L568.9 1035.94 L571.3 1035.13 L573.7 1034.3 L576 1033.46 L578.4 1032.59 L580.8 1031.7 L583.2 1030.79 L585.5 1029.86 L587.9 1028.92 L590.3 1027.96 L592.7 1027 L595 1026.02 L597.4 1025.02 L599.8 1024 L602.2 1022.97 L604.5 1021.9 L606.9 1020.82 L609.3 1019.7 L611.7 1018.56 L614 1017.39 L616.4 1016.19 L618.8 1014.96 L621.2 1013.71 L623.5 1012.44 L625.9 1011.14 L628.3 1009.83 L630.7 1008.49 L633 1007.14 L635.4 1005.76 L637.8 1004.37 L640.2 1002.96 L642.5 1001.52 L644.9 1000.06 L647.3 998.56 L649.7 997.02 L652 995.43 L654.4 993.77 L656.8 992.04 L659.2 990.23 L661.5 988.33 L663.9 986.35 L666.3 984.28 L668.6 982.15 L671 979.96 L673.4 977.71 L675.8 975.42 L678.1 973.09 L680.5 970.7 L682.9 968.26 L685.3 965.76 L687.6 963.19 L690 960.54 L692.4 957.81 L694.8 955.01 L697.1 952.15 L699.5 949.25 L701.9 946.33 L704.3 943.41 L706.6 940.5 L709 937.64 L711.4 934.81 L713.8 932.03 L716.1 929.28 L718.5 926.56 L718.5 938.3 L716.1 940.85 L713.8 943.42 L711.4 946.03 L709 948.67 L706.6 951.34 L704.3 954.04 L701.9 956.76 L699.5 959.47 L697.1 962.18 L694.8 964.86 L692.4 967.52 L690 970.15 L687.6 972.73 L685.3 975.27 L682.9 977.75 L680.5 980.18 L678.1 982.55 L675.8 984.86 L673.4 987.1 L671 989.26 L668.6 991.35 L666.3 993.34 L663.9 995.25 L661.5 997.06 L659.2 998.79 L656.8 1000.43 L654.4 1002 L652 1003.52 L649.7 1005 L647.3 1006.46 L644.9 1007.89 L642.5 1009.31 L640.2 1010.71 L637.8 1012.1 L635.4 1013.47 L633 1014.83 L630.7 1016.16 L628.3 1017.47 L625.9 1018.76 L623.5 1020.03 L621.2 1021.27 L618.8 1022.49 L616.4 1023.68 L614 1024.84 L611.7 1025.97 L609.3 1027.07 L606.9 1028.15 L604.5 1029.21 L602.2 1030.23 L599.8 1031.24 L597.4 1032.22 L595 1033.19 L592.7 1034.15 L590.3 1035.09 L587.9 1036.02 L585.5 1036.95 L583.2 1037.86 L580.8 1038.76 L578.4 1039.65 L576 1040.52 L573.7 1041.37 L571.3 1042.2 L568.9 1043.02 L566.5 1043.82 L564.2 1044.6 L561.8 1045.36 L559.4 1046.11 L557 1046.84 L554.7 1047.56 L552.3 1048.26 L549.9 1048.96 L547.6 1049.65 L545.2 1050.34 L542.8 1051.04 L540.4 1051.74 L538.1 1052.45 L535.7 1053.16 L533.3 1053.89 L530.9 1054.62 L528.6 1055.37 L526.2 1056.12 L523.8 1056.88 L521.4 1057.64 L519.1 1058.42 L516.7 1059.21 L514.3 1060 L511.9 1060.79 L509.6 1061.59 L507.2 1062.38 L504.8 1063.16 L502.4 1063.94 L500.1 1064.7 L497.7 1065.44 L495.3 1066.18 L492.9 1066.89 L490.6 1067.59 L488.2 1068.27 L485.8 1068.94 L483.4 1069.6 L481.1 1070.25 L478.7 1070.89 L476.3 1071.52 L473.9 1072.15 L471.6 1072.77 L469.2 1073.38 L466.8 1074 L464.4 1074.61 L462.1 1075.22 L459.7 1075.83 L457.3 1076.44 L454.9 1077.05 L452.6 1077.65 L450.2 1078.24 L447.8 1078.83 L445.4 1079.41 L443.1 1079.99 L440.7 1080.56 L438.3 1081.12 L435.9 1081.67 L433.6 1082.22 L431.2 1082.76 L428.8 1083.3 L426.5 1083.83 L424.1 1084.35 L421.7 1084.87 L419.3 1085.39 L417 1085.9 L414.6 1086.4 L412.2 1086.91 L409.8 1087.4 L407.5 1087.9 L405.1 1088.38 L402.7 1088.87 L400.3 1089.35 L398 1089.83 L395.6 1090.3 L393.2 1090.77 L390.8 1091.22 L388.5 1091.67 L386.1 1092.11 L383.7 1092.52 L381.3 1092.92 L379 1093.29 L376.6 1093.65 L374.2 1093.98 L371.8 1094.3 L369.5 1094.6 L367.1 1094.89 L364.7 1095.16 L362.3 1095.43 L360 1095.68 L357.6 1095.93 L355.2 1096.18 L352.8 1096.42 L350.5 1096.66 L348.1 1096.92 L345.7 1097.18 L343.3 1097.46 L341 1097.76 L338.6 1098.08 L336.2 1098.42 L333.8 1098.79 L331.5 1099.18 L329.1 1099.58 L326.7 1100.01 L324.3 1100.45 L322 1100.91 L319.6 1101.38 L317.2 1101.87 L314.8 1102.38 L312.5 1102.91 L310.1 1103.45 L307.7 1104.01 L305.4 1104.6 L303 1105.2 L300.6 1105.83 L298.2 1106.48 L295.9 1107.16 L293.5 1107.86 L291.1 1108.58 L288.7 1109.34 L286.4 1110.11 L284 1110.9 L281.6 1111.72 L279.2 1112.55 L276.9 1113.41 L274.5 1114.28 L272.1 1115.16 L269.7 1116.06 L267.4 1116.97 L265 1117.89 L262.6 1118.82 L260.2 1119.76 L257.9 1120.71 L255.5 1121.66 L253.1 1122.61 L250.7 1123.56 L248.4 1124.49 L246 1125.4 L243.6 1126.28 L241.2 1127.13 L238.9 1127.95 L236.5 1128.73 L234.1 1129.47 L231.7 1130.19 L229.4 1130.89 L227 1131.57 L224.6 1132.23 L222.2 1132.89 L219.9 1133.53 L217.5 1134.18 L215.1 1134.81 L212.7 1135.44 L210.4 1136.07 L208 1136.68 L205.6 1137.28 L203.2 1137.86 L200.9 1138.43 L198.5 1138.98 L196.1 1139.5 L193.8 1139.99 L191.4 1140.45 L189 1140.87 L186.6 1141.26 L184.3 1141.62 L181.9 1141.95 L179.5 1142.26 L177.1 1142.54 L174.8 1142.8 L172.4 1143.05 L170 1143.28 L167.6 1143.51 L165.3 1143.71 L162.9 1143.91 L160.5 1144.09 L158.1 1144.26 L155.8 1144.41 L153.4 1144.54 L151 1144.66 L148.6 1144.75 L146.3 1144.84 L143.9 1144.9 L141.5 1144.96 L139.1 1145.01 L136.8 1145.04 L134.4 1145.07 L132 1145.09 L129.6 1145.1 L127.3 1145.11 L124.9 1145.11 L122.5 1145.11 L120.1 1145.11 L117.8 1145.11 L115.4 1145.1 L113 1145.1 L110.6 1145.1 L108.3 1145.09 L105.9 1145.09 L103.5 1145.09 L101.1 1145.09 L98.8 1145.08 L96.4 1145.08 L94 1145.08 L91.6 1145.08 L89.3 1145.08 L86.9 1145.08 L84.5 1145.07 L82.1 1145.07 L79.8 1145.07 L77.4 1145.07Z" fill="#1f77b4" fill-opacity="0.1"/>
<path d="M718.5 939.78 L720.9 936.09 L723.3 932.38 L725.6 928.64 L728 924.87 L730.4 921.05 L732.8 917.19 L735.1 913.28 L737.5 909.32 L739.9 905.31 L742.3 901.24 L744.6 897.09 L747 892.87 L749.4 888.58 L751.8 884.24 L754.1 879.84 L756.5 875.42 L758.9 870.96 L761.3 866.47 L763.6 861.92 L766 857.31 L768.4 852.67 L770.8 848 L773.1 843.35 L775.5 838.75 L777.9 834.22 L780.3 829.76 L782.6 825.36 L785 820.99 L785 844.67 L782.6 847.93 L780.3 851.25 L777.9 854.63 L775.5 858.12 L773.1 861.7 L770.8 865.36 L768.4 869.08 L766 872.81 L763.6 876.54 L761.3 880.24 L758.9 883.91 L756.5 887.56 L754.1 891.2 L751.8 894.81 L749.4 898.39 L747 901.92 L744.6 905.37 L742.3 908.75 L739.9 912.05 L737.5 915.29 L735.1 918.47 L732.8 921.61 L730.4 924.7 L728 927.75 L725.6 930.76 L723.3 933.74 L720.9 936.69 L718.5 939.63Z" fill="#1f77b4" fill-opacity="0.1"/>
<path d="M77.4 1144.8 L79.8 1144.8 L82.1 1144.8 L84.5 1144.79 L86.9 1144.79 L89.3 1144.79 L91.6 1144.78 L94 1144.78 L96.4 1144.77 L98.8 1144.77 L101.1 1144.76 L103.5 1144.75 L105.9 1144.75 L108.3 1144.74 L110.6 1144.73 L113 1144.72 L115.4 1144.71 L117.8 1144.7 L120.1 1144.69 L122.5 1144.67 L124.9 1144.65 L127.3 1144.63 L129.6 1144.61 L132 1144.58 L134.4 1144.54 L136.8 1144.49 L139.1 1144.43 L141.5 1144.36 L143.9 1144.28 L146.3 1144.18 L148.6 1144.07 L151 1143.93 L153.4 1143.78 L155.8 1143.6 L158.1 1143.39 L160.5 1143.16 L162.9 1142.9 L165.3 1142.63 L167.6 1142.33 L170 1142.01 L172.4 1141.68 L174.8 1141.33 L177.1 1140.95 L179.5 1140.56 L181.9 1140.14 L184.3 1139.69 L186.6 1139.21 L189 1138.7 L191.4 1138.16 L193.8 1137.58 L196.1 1136.97 L198.5 1136.33 L200.9 1135.66 L203.2 1134.97 L205.6 1134.26 L208 1133.53 L210.4 1132.79 L212.7 1132.04 L215.1 1131.28 L217.5 1130.52 L219.9 1129.76 L222.2 1128.99 L224.6 1128.22 L227 1127.44 L229.4 1126.65 L231.7 1125.84 L234.1 1124.99 L236.5 1124.11 L238.9 1123.18 L241.2 1122.2 L243.6 1121.16 L246 1120.08 L248.4 1118.94 L250.7 1117.77 L253.1 1116.56 L255.5 1115.32 L257.9 1114.05 L260.2 1112.76 L262.6 1111.45 L265 1110.13 L267.4 1108.82 L269.7 1107.51 L272.1 1106.23 L274.5 1104.99 L276.9 1103.81 L279.2 1102.68 L281.6 1101.62 L284 1100.62 L286.4 1099.68 L288.7 1098.79 L291.1 1097.95 L293.5 1097.16 L295.9 1096.41 L298.2 1095.72 L300.6 1095.07 L303 1094.46 L305.4 1093.89 L307.7 1093.35 L310.1 1092.85 L312.5 1092.36 L314.8 1091.89 L317.2 1091.43 L319.6 1090.97 L322 1090.52 L324.3 1090.07 L326.7 1089.63 L329.1 1089.2 L331.5 1088.78 L333.8 1088.37 L336.2 1087.98 L338.6 1087.61 L341 1087.26 L343.3 1086.93 L345.7 1086.61 L348.1 1086.29 L350.5 1085.98 L352.8 1085.65 L355.2 1085.32 L357.6 1084.97 L360 1084.6 L362.3 1084.22 L364.7 1083.81 L367.1 1083.4 L369.5 1082.97 L371.8 1082.53 L374.2 1082.08 L376.6 1081.62 L379 1081.15 L381.3 1080.66 L383.7 1080.17 L386.1 1079.66 L388.5 1079.14 L390.8 1078.61 L393.2 1078.07 L395.6 1077.53 L398 1076.98 L400.3 1076.44 L402.7 1075.89 L405.1 1075.35 L407.5 1074.81 L409.8 1074.28 L412.2 1073.74 L414.6 1073.21 L417 1072.68 L419.3 1072.15 L421.7 1071.63 L424.1 1071.1 L426.5 1070.57 L428.8 1070.04 L431.2 1069.5 L433.6 1068.96 L435.9 1068.41 L438.3 1067.86 L440.7 1067.3 L443.1 1066.73 L445.4 1066.15 L447.8 1065.57 L450.2 1064.98 L452.6 1064.38 L454.9 1063.76 L457.3 1063.14 L459.7 1062.5 L462.1 1061.85 L464.4 1061.17 L466.8 1060.48 L469.2 1059.76 L471.6 1059.02 L473.9 1058.27 L476.3 1057.5 L478.7 1056.71 L481.1 1055.91 L483.4 1055.11 L485.8 1054.3 L488.2 1053.49 L490.6 1052.68 L492.9 1051.88 L495.3 1051.07 L497.7 1050.27 L500.1 1049.47 L502.4 1048.67 L504.8 1047.87 L507.2 1047.07 L509.6 1046.26 L511.9 1045.46 L514.3 1044.66 L516.7 1043.86 L519.1 1043.07 L521.4 1042.29 L523.8 1041.52 L526.2 1040.76 L528.6 1040.01 L530.9 1039.26 L533.3 1038.53 L535.7 1037.8 L538.1 1037.09 L540.4 1036.39 L542.8 1035.7 L545.2 1035.02 L547.6 1034.34 L549.9 1033.67 L552.3 1033 L554.7 1032.32 L557 1031.64 L559.4 1030.94 L561.8 1030.22 L564.2 1029.49 L566.5 1028.74 L568.9 1027.97 L571.3 1027.17 L573.7 1026.35 L576 1025.51 L578.4 1024.64 L580.8 1023.75 L583.2 1022.83 L585.5 1021.89 L587.9 1020.93 L590.3 1019.95 L592.7 1018.95 L595 1017.94 L597.4 1016.91 L599.8 1015.86 L602.2 1014.79 L604.5 1013.69 L606.9 1012.56 L609.3 1011.41 L611.7 1010.22 L614 1009.01 L616.4 1007.77 L618.8 1006.5 L621.2 1005.21 L623.5 1003.9 L625.9 1002.57 L628.3 1001.23 L630.7 999.87 L633 998.49 L635.4 997.09 L637.8 995.68 L640.2 994.24 L642.5 992.77 L644.9 991.25 L647.3 989.68 L649.7 988.04 L652 986.33 L654.4 984.52 L656.8 982.61 L659.2 980.6 L661.5 978.51 L663.9 976.33 L666.3 974.09 L668.6 971.8 L671 969.49 L673.4 967.15 L675.8 964.8 L678.1 962.43 L680.5 960.04 L682.9 957.59 L685.3 955.07 L687.6 952.46 L690 949.73 L692.4 946.89 L694.8 943.93 L697.1 940.88 L699.5 937.75 L701.9 934.59 L704.3 931.42 L706.6 928.27 L709 925.15 L711.4 922.07 L713.8 919.03 L716.1 916.02 L718.5 913.03 M77.4 1145.2 L79.8 1145.2 L82.1 1145.2 L84.5 1145.21 L86.9 1145.21 L89.3 1145.21 L91.6 1145.22 L94 1145.22 L96.4 1145.23 L98.8 1145.23 L101.1 1145.24 L103.5 1145.25 L105.9 1145.25 L108.3 1145.26 L110.6 1145.27 L113 1145.28 L115.4 1145.29 L117.8 1145.3 L120.1 1145.31 L122.5 1145.32 L124.9 1145.33 L127.3 1145.33 L129.6 1145.34 L132 1145.33 L134.4 1145.32 L136.8 1145.31 L139.1 1145.28 L141.5 1145.24 L143.9 1145.2 L146.3 1145.14 L148.6 1145.08 L151 1145 L153.4 1144.9 L155.8 1144.79 L158.1 1144.67 L160.5 1144.53 L162.9 1144.39 L165.3 1144.23 L167.6 1144.06 L170 1143.88 L172.4 1143.7 L174.8 1143.5 L177.1 1143.28 L179.5 1143.05 L181.9 1142.8 L184.3 1142.53 L186.6 1142.23 L189 1141.89 L191.4 1141.52 L193.8 1141.12 L196.1 1140.69 L198.5 1140.23 L200.9 1139.74 L203.2 1139.23 L205.6 1138.7 L208 1138.16 L210.4 1137.61 L212.7 1137.05 L215.1 1136.48 L217.5 1135.9 L219.9 1135.31 L222.2 1134.72 L224.6 1134.12 L227 1133.51 L229.4 1132.88 L231.7 1132.24 L234.1 1131.58 L236.5 1130.9 L238.9 1130.19 L241.2 1129.46 L243.6 1128.69 L246 1127.91 L248.4 1127.1 L250.7 1126.28 L253.1 1125.46 L255.5 1124.64 L257.9 1123.84 L260.2 1123.05 L262.6 1122.29 L265 1121.54 L267.4 1120.8 L269.7 1120.08 L272.1 1119.36 L274.5 1118.65 L276.9 1117.92 L279.2 1117.2 L281.6 1116.47 L284 1115.74 L286.4 1115.02 L288.7 1114.3 L291.1 1113.59 L293.5 1112.89 L295.9 1112.21 L298.2 1111.55 L300.6 1110.89 L303 1110.26 L305.4 1109.64 L307.7 1109.03 L310.1 1108.44 L312.5 1107.87 L314.8 1107.32 L317.2 1106.79 L319.6 1106.28 L322 1105.8 L324.3 1105.34 L326.7 1104.89 L329.1 1104.47 L331.5 1104.07 L333.8 1103.69 L336.2 1103.34 L338.6 1103.01 L341 1102.7 L343.3 1102.42 L345.7 1102.16 L348.1 1101.92 L350.5 1101.69 L352.8 1101.48 L355.2 1101.28 L357.6 1101.09 L360 1100.9 L362.3 1100.7 L364.7 1100.5 L367.1 1100.3 L369.5 1100.08 L371.8 1099.84 L374.2 1099.59 L376.6 1099.31 L379 1099.01 L381.3 1098.68 L383.7 1098.33 L386.1 1097.96 L388.5 1097.57 L390.8 1097.16 L393.2 1096.74 L395.6 1096.31 L398 1095.87 L400.3 1095.43 L402.7 1094.97 L405.1 1094.52 L407.5 1094.05 L409.8 1093.58 L412.2 1093.1 L414.6 1092.61 L417 1092.12 L419.3 1091.61 L421.7 1091.1 L424.1 1090.59 L426.5 1090.06 L428.8 1089.53 L431.2 1089 L433.6 1088.46 L435.9 1087.91 L438.3 1087.36 L440.7 1086.8 L443.1 1086.23 L445.4 1085.65 L447.8 1085.07 L450.2 1084.48 L452.6 1083.89 L454.9 1083.3 L457.3 1082.7 L459.7 1082.11 L462.1 1081.52 L464.4 1080.94 L466.8 1080.36 L469.2 1079.79 L471.6 1079.23 L473.9 1078.68 L476.3 1078.12 L478.7 1077.56 L481.1 1077 L483.4 1076.42 L485.8 1075.83 L488.2 1075.23 L490.6 1074.6 L492.9 1073.95 L495.3 1073.28 L497.7 1072.58 L500.1 1071.86 L502.4 1071.12 L504.8 1070.36 L507.2 1069.58 L509.6 1068.8 L511.9 1068 L514.3 1067.21 L516.7 1066.42 L519.1 1065.64 L521.4 1064.87 L523.8 1064.1 L526.2 1063.34 L528.6 1062.59 L530.9 1061.85 L533.3 1061.12 L535.7 1060.39 L538.1 1059.67 L540.4 1058.96 L542.8 1058.26 L545.2 1057.55 L547.6 1056.85 L549.9 1056.15 L552.3 1055.44 L554.7 1054.73 L557 1053.99 L559.4 1053.25 L561.8 1052.49 L564.2 1051.71 L566.5 1050.91 L568.9 1050.1 L571.3 1049.28 L573.7 1048.44 L576 1047.58 L578.4 1046.71 L580.8 1045.83 L583.2 1044.94 L585.5 1044.04 L587.9 1043.13 L590.3 1042.21 L592.7 1041.29 L595 1040.37 L597.4 1039.43 L599.8 1038.47 L602.2 1037.5 L604.5 1036.51 L606.9 1035.49 L609.3 1034.45 L611.7 1033.38 L614 1032.28 L616.4 1031.16 L618.8 1030.01 L621.2 1028.83 L623.5 1027.62 L625.9 1026.38 L628.3 1025.12 L630.7 1023.83 L633 1022.52 L635.4 1021.18 L637.8 1019.83 L640.2 1018.46 L642.5 1017.09 L644.9 1015.72 L647.3 1014.35 L649.7 1012.99 L652 1011.62 L654.4 1010.23 L656.8 1008.82 L659.2 1007.35 L661.5 1005.8 L663.9 1004.15 L666.3 1002.4 L668.6 1000.54 L671 998.57 L673.4 996.49 L675.8 994.3 L678.1 992.02 L680.5 989.66 L682.9 987.24 L685.3 984.77 L687.6 982.27 L690 979.75 L692.4 977.23 L694.8 974.71 L697.1 972.2 L699.5 969.69 L701.9 967.18 L704.3 964.67 L706.6 962.16 L709 959.66 L711.4 957.17 L713.8 954.7 L716.1 952.26 L718.5 949.83" fill="none" stroke="#1f77b4" stroke-opacity="0.12" stroke-width="0.8" stroke-linejoin="round"/>
<path d="M718.5 939.98 L720.9 935.33 L723.3 930.65 L725.6 925.95 L728 921.21 L730.4 916.41 L732.8 911.57 L735.1 906.68 L737.5 901.73 L739.9 896.72 L742.3 891.64 L744.6 886.47 L747 881.22 L749.4 875.89 L751.8 870.51 L754.1 865.08 L756.5 859.62 L758.9 854.13 L761.3 848.61 L763.6 843.05 L766 837.46 L768.4 831.83 L770.8 826.18 L773.1 820.57 L775.5 815 L777.9 809.52 L780.3 804.11 L782.6 798.77 L785 793.46 M718.5 939.49 L720.9 937.23 L723.3 934.96 L725.6 932.67 L728 930.35 L730.4 927.98 L732.8 925.58 L735.1 923.13 L737.5 920.64 L739.9 918.1 L742.3 915.48 L744.6 912.76 L747 909.95 L749.4 907.06 L751.8 904.13 L754.1 901.17 L756.5 898.22 L758.9 895.28 L761.3 892.37 L763.6 889.48 L766 886.63 L768.4 883.84 L770.8 881.15 L773.1 878.57 L775.5 876.13 L777.9 873.84 L780.3 871.7 L782.6 869.68 L785 867.75" fill="none" stroke="#1f77b4" stroke-opacity="0.12" stroke-width="0.8" stroke-linejoin="round"/>
<path d="M77.4 1144.9 L79.8 1144.9 L82.1 1144.89 L84.5 1144.89 L86.9 1144.89 L89.3 1144.89 L91.6 1144.89 L94 1144.89 L96.4 1144.88 L98.8 1144.88 L101.1 1144.88 L103.5 1144.87 L105.9 1144.87 L108.3 1144.86 L110.6 1144.86 L113 1144.85 L115.4 1144.85 L117.8 1144.84 L120.1 1144.84 L122.5 1144.83 L124.9 1144.82 L127.3 1144.8 L129.6 1144.78 L132 1144.76 L134.4 1144.73 L136.8 1144.68 L139.1 1144.63 L141.5 1144.57 L143.9 1144.5 L146.3 1144.41 L148.6 1144.31 L151 1144.19 L153.4 1144.05 L155.8 1143.88 L158.1 1143.7 L160.5 1143.49 L162.9 1143.26 L165.3 1143.01 L167.6 1142.74 L170 1142.46 L172.4 1142.16 L174.8 1141.85 L177.1 1141.51 L179.5 1141.16 L181.9 1140.78 L184.3 1140.37 L186.6 1139.94 L189 1139.47 L191.4 1138.97 L193.8 1138.43 L196.1 1137.86 L198.5 1137.26 L200.9 1136.64 L203.2 1135.99 L205.6 1135.32 L208 1134.64 L210.4 1133.94 L212.7 1133.24 L215.1 1132.53 L217.5 1131.81 L219.9 1131.09 L222.2 1130.37 L224.6 1129.64 L227 1128.9 L229.4 1128.15 L231.7 1127.37 L234.1 1126.57 L236.5 1125.74 L238.9 1124.86 L241.2 1123.94 L243.6 1122.97 L246 1121.96 L248.4 1120.9 L250.7 1119.81 L253.1 1118.69 L255.5 1117.55 L257.9 1116.4 L260.2 1115.23 L262.6 1114.05 L265 1112.87 L267.4 1111.69 L269.7 1110.53 L272.1 1109.38 L274.5 1108.27 L276.9 1107.2 L279.2 1106.17 L281.6 1105.19 L284 1104.25 L286.4 1103.36 L288.7 1102.51 L291.1 1101.7 L293.5 1100.94 L295.9 1100.21 L298.2 1099.52 L300.6 1098.86 L303 1098.25 L305.4 1097.67 L307.7 1097.12 L310.1 1096.59 L312.5 1096.08 L314.8 1095.59 L317.2 1095.11 L319.6 1094.64 L322 1094.18 L324.3 1093.73 L326.7 1093.29 L329.1 1092.86 L331.5 1092.45 L333.8 1092.05 L336.2 1091.67 L338.6 1091.31 L341 1090.97 L343.3 1090.65 L345.7 1090.34 L348.1 1090.04 L350.5 1089.75 L352.8 1089.45 L355.2 1089.15 L357.6 1088.84 L360 1088.51 L362.3 1088.17 L364.7 1087.82 L367.1 1087.45 L369.5 1087.07 L371.8 1086.68 L374.2 1086.28 L376.6 1085.86 L379 1085.43 L381.3 1084.99 L383.7 1084.53 L386.1 1084.05 L388.5 1083.56 L390.8 1083.06 L393.2 1082.55 L395.6 1082.03 L398 1081.51 L400.3 1080.99 L402.7 1080.47 L405.1 1079.95 L407.5 1079.43 L409.8 1078.91 L412.2 1078.39 L414.6 1077.87 L417 1077.35 L419.3 1076.82 L421.7 1076.3 L424.1 1075.78 L426.5 1075.25 L428.8 1074.72 L431.2 1074.18 L433.6 1073.64 L435.9 1073.09 L438.3 1072.54 L440.7 1071.98 L443.1 1071.41 L445.4 1070.83 L447.8 1070.25 L450.2 1069.66 L452.6 1069.06 L454.9 1068.45 L457.3 1067.83 L459.7 1067.21 L462.1 1066.57 L464.4 1065.91 L466.8 1065.25 L469.2 1064.57 L471.6 1063.87 L473.9 1063.17 L476.3 1062.45 L478.7 1061.71 L481.1 1060.97 L483.4 1060.22 L485.8 1059.47 L488.2 1058.71 L490.6 1057.94 L492.9 1057.18 L495.3 1056.4 L497.7 1055.63 L500.1 1054.85 L502.4 1054.06 L504.8 1053.27 L507.2 1052.47 L509.6 1051.67 L511.9 1050.87 L514.3 1050.07 L516.7 1049.28 L519.1 1048.49 L521.4 1047.71 L523.8 1046.94 L526.2 1046.18 L528.6 1045.43 L530.9 1044.68 L533.3 1043.95 L535.7 1043.23 L538.1 1042.51 L540.4 1041.81 L542.8 1041.11 L545.2 1040.43 L547.6 1039.75 L549.9 1039.07 L552.3 1038.39 L554.7 1037.7 L557 1037 L559.4 1036.29 L561.8 1035.57 L564.2 1034.82 L566.5 1034.06 L568.9 1033.28 L571.3 1032.48 L573.7 1031.65 L576 1030.81 L578.4 1029.94 L580.8 1029.05 L583.2 1028.14 L585.5 1027.2 L587.9 1026.26 L590.3 1025.29 L592.7 1024.32 L595 1023.32 L597.4 1022.32 L599.8 1021.29 L602.2 1020.24 L604.5 1019.17 L606.9 1018.07 L609.3 1016.94 L611.7 1015.78 L614 1014.59 L616.4 1013.38 L618.8 1012.14 L621.2 1010.88 L623.5 1009.59 L625.9 1008.29 L628.3 1006.96 L630.7 1005.62 L633 1004.25 L635.4 1002.87 L637.8 1001.47 L640.2 1000.05 L642.5 998.6 L644.9 997.12 L647.3 995.6 L649.7 994.03 L652 992.4 L654.4 990.69 L656.8 988.9 L659.2 987.02 L661.5 985.06 L663.9 983.01 L666.3 980.89 L668.6 978.7 L671 976.47 L673.4 974.19 L675.8 971.88 L678.1 969.54 L680.5 967.15 L682.9 964.71 L685.3 962.2 L687.6 959.61 L690 956.94 L692.4 954.17 L694.8 951.32 L697.1 948.4 L699.5 945.42 L701.9 942.42 L704.3 939.41 L706.6 936.43 L709 933.47 L711.4 930.56 L713.8 927.69 L716.1 924.86 L718.5 922.05 M77.4 1145.15 L79.8 1145.15 L82.1 1145.15 L84.5 1145.15 L86.9 1145.15 L89.3 1145.15 L91.6 1145.16 L94 1145.16 L96.4 1145.16 L98.8 1145.17 L101.1 1145.17 L103.5 1145.18 L105.9 1145.18 L108.3 1145.19 L110.6 1145.2 L113 1145.2 L115.4 1145.21 L117.8 1145.22 L120.1 1145.23 L122.5 1145.23 L124.9 1145.24 L127.3 1145.24 L129.6 1145.24 L132 1145.23 L134.4 1145.22 L136.8 1145.2 L139.1 1145.16 L141.5 1145.13 L143.9 1145.08 L146.3 1145.01 L148.6 1144.94 L151 1144.85 L153.4 1144.75 L155.8 1144.63 L158.1 1144.5 L160.5 1144.35 L162.9 1144.19 L165.3 1144.01 L167.6 1143.83 L170 1143.63 L172.4 1143.42 L174.8 1143.2 L177.1 1142.97 L179.5 1142.72 L181.9 1142.44 L184.3 1142.15 L186.6 1141.82 L189 1141.46 L191.4 1141.07 L193.8 1140.64 L196.1 1140.19 L198.5 1139.7 L200.9 1139.19 L203.2 1138.65 L205.6 1138.1 L208 1137.54 L210.4 1136.96 L212.7 1136.37 L215.1 1135.77 L217.5 1135.17 L219.9 1134.56 L222.2 1133.95 L224.6 1133.32 L227 1132.69 L229.4 1132.04 L231.7 1131.38 L234.1 1130.69 L236.5 1129.98 L238.9 1129.25 L241.2 1128.48 L243.6 1127.68 L246 1126.85 L248.4 1126 L250.7 1125.13 L253.1 1124.26 L255.5 1123.39 L257.9 1122.52 L260.2 1121.66 L262.6 1120.82 L265 1120 L267.4 1119.18 L269.7 1118.38 L272.1 1117.59 L274.5 1116.8 L276.9 1116.02 L279.2 1115.24 L281.6 1114.47 L284 1113.7 L286.4 1112.95 L288.7 1112.2 L291.1 1111.48 L293.5 1110.77 L295.9 1110.08 L298.2 1109.41 L300.6 1108.76 L303 1108.12 L305.4 1107.51 L307.7 1106.91 L310.1 1106.33 L312.5 1105.78 L314.8 1105.24 L317.2 1104.72 L319.6 1104.22 L322 1103.74 L324.3 1103.27 L326.7 1102.83 L329.1 1102.41 L331.5 1102 L333.8 1101.62 L336.2 1101.26 L338.6 1100.93 L341 1100.62 L343.3 1100.33 L345.7 1100.06 L348.1 1099.81 L350.5 1099.57 L352.8 1099.35 L355.2 1099.13 L357.6 1098.91 L360 1098.7 L362.3 1098.48 L364.7 1098.25 L367.1 1098.02 L369.5 1097.77 L371.8 1097.5 L374.2 1097.22 L376.6 1096.92 L379 1096.6 L381.3 1096.25 L383.7 1095.88 L386.1 1095.49 L388.5 1095.08 L390.8 1094.66 L393.2 1094.22 L395.6 1093.77 L398 1093.32 L400.3 1092.86 L402.7 1092.4 L405.1 1091.93 L407.5 1091.46 L409.8 1090.98 L412.2 1090.49 L414.6 1089.99 L417 1089.49 L419.3 1088.99 L421.7 1088.47 L424.1 1087.96 L426.5 1087.43 L428.8 1086.9 L431.2 1086.37 L433.6 1085.83 L435.9 1085.28 L438.3 1084.73 L440.7 1084.17 L443.1 1083.6 L445.4 1083.02 L447.8 1082.44 L450.2 1081.85 L452.6 1081.26 L454.9 1080.66 L457.3 1080.06 L459.7 1079.46 L462.1 1078.86 L464.4 1078.27 L466.8 1077.68 L469.2 1077.09 L471.6 1076.51 L473.9 1075.92 L476.3 1075.34 L478.7 1074.75 L481.1 1074.15 L483.4 1073.54 L485.8 1072.93 L488.2 1072.29 L490.6 1071.64 L492.9 1070.97 L495.3 1070.28 L497.7 1069.57 L500.1 1068.84 L502.4 1068.09 L504.8 1067.32 L507.2 1066.54 L509.6 1065.75 L511.9 1064.96 L514.3 1064.17 L516.7 1063.38 L519.1 1062.6 L521.4 1061.82 L523.8 1061.05 L526.2 1060.3 L528.6 1059.54 L530.9 1058.8 L533.3 1058.07 L535.7 1057.34 L538.1 1056.63 L540.4 1055.91 L542.8 1055.21 L545.2 1054.51 L547.6 1053.82 L549.9 1053.12 L552.3 1052.41 L554.7 1051.7 L557 1050.98 L559.4 1050.24 L561.8 1049.48 L564.2 1048.71 L566.5 1047.92 L568.9 1047.12 L571.3 1046.29 L573.7 1045.46 L576 1044.6 L578.4 1043.73 L580.8 1042.85 L583.2 1041.95 L585.5 1041.05 L587.9 1040.13 L590.3 1039.21 L592.7 1038.28 L595 1037.34 L597.4 1036.39 L599.8 1035.42 L602.2 1034.44 L604.5 1033.43 L606.9 1032.4 L609.3 1031.34 L611.7 1030.25 L614 1029.14 L616.4 1028 L618.8 1026.84 L621.2 1025.64 L623.5 1024.42 L625.9 1023.17 L628.3 1021.89 L630.7 1020.59 L633 1019.27 L635.4 1017.93 L637.8 1016.57 L640.2 1015.19 L642.5 1013.81 L644.9 1012.42 L647.3 1011.02 L649.7 1009.62 L652 1008.2 L654.4 1006.76 L656.8 1005.28 L659.2 1003.73 L661.5 1002.11 L663.9 1000.4 L666.3 998.58 L668.6 996.66 L671 994.64 L673.4 992.53 L675.8 990.32 L678.1 988.03 L680.5 985.66 L682.9 983.24 L685.3 980.76 L687.6 978.24 L690 975.7 L692.4 973.13 L694.8 970.56 L697.1 967.97 L699.5 965.38 L701.9 962.78 L704.3 960.19 L706.6 957.6 L709 955.02 L711.4 952.47 L713.8 949.95 L716.1 947.45 L718.5 944.97" fill="none" stroke="#1f77b4" stroke-opacity="0.12" stroke-width="0.8" stroke-linejoin="round"/>
<path d="M718.5 939.85 L720.9 935.83 L723.3 931.8 L725.6 927.74 L728 923.65 L730.4 919.5 L732.8 915.32 L735.1 911.08 L737.5 906.79 L739.9 902.45 L742.3 898.04 L744.6 893.55 L747 888.99 L749.4 884.35 L751.8 879.66 L754.1 874.92 L756.5 870.15 L758.9 865.35 L761.3 860.51 L763.6 855.63 L766 850.7 L768.4 845.72 L770.8 840.73 L773.1 835.76 L775.5 830.84 L777.9 825.99 L780.3 821.21 L782.6 816.5 L785 811.81 M718.5 939.55 L720.9 937 L723.3 934.44 L725.6 931.86 L728 929.25 L730.4 926.6 L732.8 923.9 L735.1 921.17 L737.5 918.38 L739.9 915.55 L742.3 912.64 L744.6 909.64 L747 906.56 L749.4 903.4 L751.8 900.2 L754.1 896.97 L756.5 893.72 L758.9 890.49 L761.3 887.25 L763.6 884.02 L766 880.8 L768.4 877.61 L770.8 874.49 L773.1 871.45 L775.5 868.53 L777.9 865.74 L780.3 863.07 L782.6 860.51 L785 858.01" fill="none" stroke="#1f77b4" stroke-opacity="0.12" stroke-width="0.8" stroke-linejoin="round"/>
<path d="M77.4 1144.94 L79.8 1144.94 L82.1 1144.94 L84.5 1144.94 L86.9 1144.94 L89.3 1144.94 L91.6 1144.94 L94 1144.94 L96.4 1144.94 L98.8 1144.94 L101.1 1144.93 L103.5 1144.93 L105.9 1144.93 L108.3 1144.93 L110.6 1144.92 L113 1144.92 L115.4 1144.92 L117.8 1144.91 L120.1 1144.91 L122.5 1144.9 L124.9 1144.9 L127.3 1144.89 L129.6 1144.87 L132 1144.85 L134.4 1144.82 L136.8 1144.78 L139.1 1144.74 L141.5 1144.68 L143.9 1144.61 L146.3 1144.53 L148.6 1144.43 L151 1144.32 L153.4 1144.18 L155.8 1144.03 L158.1 1143.85 L160.5 1143.65 L162.9 1143.44 L165.3 1143.2 L167.6 1142.95 L170 1142.69 L172.4 1142.41 L174.8 1142.11 L177.1 1141.79 L179.5 1141.46 L181.9 1141.1 L184.3 1140.71 L186.6 1140.3 L189 1139.85 L191.4 1139.37 L193.8 1138.86 L196.1 1138.31 L198.5 1137.73 L200.9 1137.13 L203.2 1136.5 L205.6 1135.86 L208 1135.2 L210.4 1134.52 L212.7 1133.84 L215.1 1133.15 L217.5 1132.46 L219.9 1131.76 L222.2 1131.05 L224.6 1130.34 L227 1129.63 L229.4 1128.89 L231.7 1128.14 L234.1 1127.36 L236.5 1126.55 L238.9 1125.7 L241.2 1124.81 L243.6 1123.87 L246 1122.9 L248.4 1121.88 L250.7 1120.83 L253.1 1119.76 L255.5 1118.67 L257.9 1117.57 L260.2 1116.46 L262.6 1115.35 L265 1114.24 L267.4 1113.13 L269.7 1112.03 L272.1 1110.96 L274.5 1109.91 L276.9 1108.89 L279.2 1107.91 L281.6 1106.97 L284 1106.07 L286.4 1105.2 L288.7 1104.37 L291.1 1103.58 L293.5 1102.82 L295.9 1102.1 L298.2 1101.42 L300.6 1100.76 L303 1100.15 L305.4 1099.56 L307.7 1099 L310.1 1098.46 L312.5 1097.94 L314.8 1097.44 L317.2 1096.96 L319.6 1096.48 L322 1096.02 L324.3 1095.56 L326.7 1095.12 L329.1 1094.69 L331.5 1094.28 L333.8 1093.89 L336.2 1093.51 L338.6 1093.16 L341 1092.82 L343.3 1092.51 L345.7 1092.21 L348.1 1091.92 L350.5 1091.63 L352.8 1091.35 L355.2 1091.07 L357.6 1090.77 L360 1090.47 L362.3 1090.15 L364.7 1089.82 L367.1 1089.48 L369.5 1089.13 L371.8 1088.76 L374.2 1088.38 L376.6 1087.99 L379 1087.58 L381.3 1087.15 L383.7 1086.71 L386.1 1086.25 L388.5 1085.77 L390.8 1085.29 L393.2 1084.79 L395.6 1084.29 L398 1083.78 L400.3 1083.27 L402.7 1082.76 L405.1 1082.25 L407.5 1081.74 L409.8 1081.23 L412.2 1080.71 L414.6 1080.2 L417 1079.68 L419.3 1079.16 L421.7 1078.64 L424.1 1078.11 L426.5 1077.59 L428.8 1077.06 L431.2 1076.52 L433.6 1075.98 L435.9 1075.43 L438.3 1074.88 L440.7 1074.32 L443.1 1073.75 L445.4 1073.17 L447.8 1072.59 L450.2 1072 L452.6 1071.4 L454.9 1070.8 L457.3 1070.18 L459.7 1069.56 L462.1 1068.93 L464.4 1068.29 L466.8 1067.63 L469.2 1066.97 L471.6 1066.3 L473.9 1065.61 L476.3 1064.92 L478.7 1064.22 L481.1 1063.5 L483.4 1062.78 L485.8 1062.05 L488.2 1061.32 L490.6 1060.57 L492.9 1059.82 L495.3 1059.07 L497.7 1058.31 L500.1 1057.53 L502.4 1056.75 L504.8 1055.97 L507.2 1055.17 L509.6 1054.38 L511.9 1053.58 L514.3 1052.78 L516.7 1051.99 L519.1 1051.2 L521.4 1050.42 L523.8 1049.65 L526.2 1048.89 L528.6 1048.14 L530.9 1047.4 L533.3 1046.66 L535.7 1045.94 L538.1 1045.22 L540.4 1044.52 L542.8 1043.82 L545.2 1043.13 L547.6 1042.45 L549.9 1041.76 L552.3 1041.08 L554.7 1040.39 L557 1039.69 L559.4 1038.97 L561.8 1038.24 L564.2 1037.49 L566.5 1036.72 L568.9 1035.94 L571.3 1035.13 L573.7 1034.3 L576 1033.46 L578.4 1032.59 L580.8 1031.7 L583.2 1030.79 L585.5 1029.86 L587.9 1028.92 L590.3 1027.96 L592.7 1027 L595 1026.02 L597.4 1025.02 L599.8 1024 L602.2 1022.97 L604.5 1021.9 L606.9 1020.82 L609.3 1019.7 L611.7 1018.56 L614 1017.39 L616.4 1016.19 L618.8 1014.96 L621.2 1013.71 L623.5 1012.44 L625.9 1011.14 L628.3 1009.83 L630.7 1008.49 L633 1007.14 L635.4 1005.76 L637.8 1004.37 L640.2 1002.96 L642.5 1001.52 L644.9 1000.06 L647.3 998.56 L649.7 997.02 L652 995.43 L654.4 993.77 L656.8 992.04 L659.2 990.23 L661.5 988.33 L663.9 986.35 L666.3 984.28 L668.6 982.15 L671 979.96 L673.4 977.71 L675.8 975.42 L678.1 973.09 L680.5 970.7 L682.9 968.26 L685.3 965.76 L687.6 963.19 L690 960.54 L692.4 957.81 L694.8 955.01 L697.1 952.15 L699.5 949.25 L701.9 946.33 L704.3 943.41 L706.6 940.5 L709 937.64 L711.4 934.81 L713.8 932.03 L716.1 929.28 L718.5 926.56 M77.4 1145.07 L79.8 1145.07 L82.1 1145.07 L84.5 1145.07 L86.9 1145.08 L89.3 1145.08 L91.6 1145.08 L94 1145.08 L96.4 1145.08 L98.8 1145.08 L101.1 1145.09 L103.5 1145.09 L105.9 1145.09 L108.3 1145.09 L110.6 1145.1 L113 1145.1 L115.4 1145.1 L117.8 1145.11 L120.1 1145.11 L122.5 1145.11 L124.9 1145.11 L127.3 1145.11 L129.6 1145.1 L132 1145.09 L134.4 1145.07 L136.8 1145.04 L139.1 1145.01 L141.5 1144.96 L143.9 1144.9 L146.3 1144.84 L148.6 1144.75 L151 1144.66 L153.4 1144.54 L155.8 1144.41 L158.1 1144.26 L160.5 1144.09 L162.9 1143.91 L165.3 1143.71 L167.6 1143.51 L170 1143.28 L172.4 1143.05 L174.8 1142.8 L177.1 1142.54 L179.5 1142.26 L181.9 1141.95 L184.3 1141.62 L186.6 1141.26 L189 1140.87 L191.4 1140.45 L193.8 1139.99 L196.1 1139.5 L198.5 1138.98 L200.9 1138.43 L203.2 1137.86 L205.6 1137.28 L208 1136.68 L210.4 1136.07 L212.7 1135.44 L215.1 1134.81 L217.5 1134.18 L219.9 1133.53 L222.2 1132.89 L224.6 1132.23 L227 1131.57 L229.4 1130.89 L231.7 1130.19 L234.1 1129.47 L236.5 1128.73 L238.9 1127.95 L241.2 1127.13 L243.6 1126.28 L246 1125.4 L248.4 1124.49 L250.7 1123.56 L253.1 1122.61 L255.5 1121.66 L257.9 1120.71 L260.2 1119.76 L262.6 1118.82 L265 1117.89 L267.4 1116.97 L269.7 1116.06 L272.1 1115.16 L274.5 1114.28 L276.9 1113.41 L279.2 1112.55 L281.6 1111.72 L284 1110.9 L286.4 1110.11 L288.7 1109.34 L291.1 1108.58 L293.5 1107.86 L295.9 1107.16 L298.2 1106.48 L300.6 1105.83 L303 1105.2 L305.4 1104.6 L307.7 1104.01 L310.1 1103.45 L312.5 1102.91 L314.8 1102.38 L317.2 1101.87 L319.6 1101.38 L322 1100.91 L324.3 1100.45 L326.7 1100.01 L329.1 1099.58 L331.5 1099.18 L333.8 1098.79 L336.2 1098.42 L338.6 1098.08 L341 1097.76 L343.3 1097.46 L345.7 1097.18 L348.1 1096.92 L350.5 1096.66 L352.8 1096.42 L355.2 1096.18 L357.6 1095.93 L360 1095.68 L362.3 1095.43 L364.7 1095.16 L367.1 1094.89 L369.5 1094.6 L371.8 1094.3 L374.2 1093.98 L376.6 1093.65 L379 1093.29 L381.3 1092.92 L383.7 1092.52 L386.1 1092.11 L388.5 1091.67 L390.8 1091.22 L393.2 1090.77 L395.6 1090.3 L398 1089.83 L400.3 1089.35 L402.7 1088.87 L405.1 1088.38 L407.5 1087.9 L409.8 1087.4 L412.2 1086.91 L414.6 1086.4 L417 1085.9 L419.3 1085.39 L421.7 1084.87 L424.1 1084.35 L426.5 1083.83 L428.8 1083.3 L431.2 1082.76 L433.6 1082.22 L435.9 1081.67 L438.3 1081.12 L440.7 1080.56 L443.1 1079.99 L445.4 1079.41 L447.8 1078.83 L450.2 1078.24 L452.6 1077.65 L454.9 1077.05 L457.3 1076.44 L459.7 1075.83 L462.1 1075.22 L464.4 1074.61 L466.8 1074 L469.2 1073.38 L471.6 1072.77 L473.9 1072.15 L476.3 1071.52 L478.7 1070.89 L481.1 1070.25 L483.4 1069.6 L485.8 1068.94 L488.2 1068.27 L490.6 1067.59 L492.9 1066.89 L495.3 1066.18 L497.7 1065.44 L500.1 1064.7 L502.4 1063.94 L504.8 1063.16 L507.2 1062.38 L509.6 1061.59 L511.9 1060.79 L514.3 1060 L516.7 1059.21 L519.1 1058.42 L521.4 1057.64 L523.8 1056.88 L526.2 1056.12 L528.6 1055.37 L530.9 1054.62 L533.3 1053.89 L535.7 1053.16 L538.1 1052.45 L540.4 1051.74 L542.8 1051.04 L545.2 1050.34 L547.6 1049.65 L549.9 1048.96 L552.3 1048.26 L554.7 1047.56 L557 1046.84 L559.4 1046.11 L561.8 1045.36 L564.2 1044.6 L566.5 1043.82 L568.9 1043.02 L571.3 1042.2 L573.7 1041.37 L576 1040.52 L578.4 1039.65 L580.8 1038.76 L583.2 1037.86 L585.5 1036.95 L587.9 1036.02 L590.3 1035.09 L592.7 1034.15 L595 1033.19 L597.4 1032.22 L599.8 1031.24 L602.2 1030.23 L604.5 1029.21 L606.9 1028.15 L609.3 1027.07 L611.7 1025.97 L614 1024.84 L616.4 1023.68 L618.8 1022.49 L621.2 1021.27 L623.5 1020.03 L625.9 1018.76 L628.3 1017.47 L630.7 1016.16 L633 1014.83 L635.4 1013.47 L637.8 1012.1 L640.2 1010.71 L642.5 1009.31 L644.9 1007.89 L647.3 1006.46 L649.7 1005 L652 1003.52 L654.4 1002 L656.8 1000.43 L659.2 998.79 L661.5 997.06 L663.9 995.25 L666.3 993.34 L668.6 991.35 L671 989.26 L673.4 987.1 L675.8 984.86 L678.1 982.55 L680.5 980.18 L682.9 977.75 L685.3 975.27 L687.6 972.73 L690 970.15 L692.4 967.52 L694.8 964.86 L697.1 962.18 L699.5 959.47 L701.9 956.76 L704.3 954.04 L706.6 951.34 L709 948.67 L711.4 946.03 L713.8 943.42 L716.1 940.85 L718.5 938.3" fill="none" stroke="#1f77b4" stroke-opacity="0.12" stroke-width="0.8" stroke-linejoin="round"/>
<path d="M718.5 939.78 L720.9 936.09 L723.3 932.38 L725.6 928.64 L728 924.87 L730.4 921.05 L732.8 917.19 L735.1 913.28 L737.5 909.32 L739.9 905.31 L742.3 901.24 L744.6 897.09 L747 892.87 L749.4 888.58 L751.8 884.24 L754.1 879.84 L756.5 875.42 L758.9 870.96 L761.3 866.47 L763.6 861.92 L766 857.31 L768.4 852.67 L770.8 848 L773.1 843.35 L775.5 838.75 L777.9 834.22 L780.3 829.76 L782.6 825.36 L785 820.99 M718.5 939.63 L720.9 936.69 L723.3 933.74 L725.6 930.76 L728 927.75 L730.4 924.7 L732.8 921.61 L735.1 918.47 L737.5 915.29 L739.9 912.05 L742.3 908.75 L744.6 905.37 L747 901.92 L749.4 898.39 L751.8 894.81 L754.1 891.2 L756.5 887.56 L758.9 883.91 L761.3 880.24 L763.6 876.54 L766 872.81 L768.4 869.08 L770.8 865.36 L773.1 861.7 L775.5 858.12 L777.9 854.63 L780.3 851.25 L782.6 847.93 L785 844.67" fill="none" stroke="#1f77b4" stroke-opacity="0.12" stroke-width="0.8" stroke-linejoin="round"/>
<path d="M77.4 1144.86 L79.8 1144.86 L82.1 1144.86 L84.5 1144.85 L86.9 1144.85 L89.3 1144.85 L91.6 1144.85 L94 1144.84 L96.4 1144.84 L98.8 1144.84 L101.1 1144.83 L103.5 1144.83 L105.9 1144.82 L108.3 1144.81 L110.6 1144.81 L113 1144.8 L115.4 1144.79 L117.8 1144.79 L120.1 1144.78 L122.5 1144.77 L124.9 1144.75 L127.3 1144.74 L129.6 1144.71 L132 1144.69 L134.4 1144.65 L136.8 1144.61 L139.1 1144.55 L141.5 1144.49 L143.9 1144.41 L146.3 1144.32 L148.6 1144.21 L151 1144.09 L153.4 1143.94 L155.8 1143.77 L158.1 1143.58 L160.5 1143.36 L162.9 1143.12 L165.3 1142.86 L167.6 1142.58 L170 1142.28 L172.4 1141.97 L174.8 1141.64 L177.1 1141.29 L179.5 1140.92 L181.9 1140.52 L184.3 1140.1 L186.6 1139.65 L189 1139.17 L191.4 1138.65 L193.8 1138.09 L196.1 1137.51 L198.5 1136.89 L200.9 1136.25 L203.2 1135.58 L205.6 1134.9 L208 1134.2 L210.4 1133.49 L212.7 1132.76 L215.1 1132.03 L217.5 1131.3 L219.9 1130.56 L222.2 1129.82 L224.6 1129.08 L227 1128.32 L229.4 1127.56 L231.7 1126.77 L234.1 1125.95 L236.5 1125.09 L238.9 1124.2 L241.2 1123.25 L243.6 1122.26 L246 1121.21 L248.4 1120.13 L250.7 1119 L253.1 1117.85 L255.5 1116.67 L257.9 1115.47 L260.2 1114.25 L262.6 1113.02 L265 1111.79 L267.4 1110.55 L269.7 1109.33 L272.1 1108.13 L274.5 1106.97 L276.9 1105.85 L279.2 1104.79 L281.6 1103.78 L284 1102.82 L286.4 1101.91 L288.7 1101.04 L291.1 1100.22 L293.5 1099.44 L295.9 1098.71 L298.2 1098.01 L300.6 1097.36 L303 1096.75 L305.4 1096.17 L307.7 1095.63 L310.1 1095.11 L312.5 1094.61 L314.8 1094.13 L317.2 1093.65 L319.6 1093.19 L322 1092.73 L324.3 1092.28 L326.7 1091.84 L329.1 1091.41 L331.5 1090.99 L333.8 1090.59 L336.2 1090.21 L338.6 1089.85 L341 1089.5 L343.3 1089.18 L345.7 1088.86 L348.1 1088.56 L350.5 1088.25 L352.8 1087.95 L355.2 1087.63 L357.6 1087.31 L360 1086.96 L362.3 1086.61 L364.7 1086.23 L367.1 1085.85 L369.5 1085.45 L371.8 1085.04 L374.2 1084.62 L376.6 1084.18 L379 1083.74 L381.3 1083.28 L383.7 1082.8 L386.1 1082.31 L388.5 1081.81 L390.8 1081.3 L393.2 1080.78 L395.6 1080.25 L398 1079.72 L400.3 1079.19 L402.7 1078.66 L405.1 1078.13 L407.5 1077.6 L409.8 1077.07 L412.2 1076.55 L414.6 1076.02 L417 1075.5 L419.3 1074.98 L421.7 1074.45 L424.1 1073.92 L426.5 1073.4 L428.8 1072.87 L431.2 1072.33 L433.6 1071.79 L435.9 1071.24 L438.3 1070.69 L440.7 1070.13 L443.1 1069.56 L445.4 1068.98 L447.8 1068.4 L450.2 1067.81 L452.6 1067.2 L454.9 1066.6 L457.3 1065.98 L459.7 1065.34 L462.1 1064.7 L464.4 1064.04 L466.8 1063.36 L469.2 1062.66 L471.6 1061.95 L473.9 1061.23 L476.3 1060.49 L478.7 1059.73 L481.1 1058.97 L483.4 1058.2 L485.8 1057.42 L488.2 1056.64 L490.6 1055.86 L492.9 1055.08 L495.3 1054.29 L497.7 1053.51 L500.1 1052.72 L502.4 1051.93 L504.8 1051.13 L507.2 1050.33 L509.6 1049.53 L511.9 1048.73 L514.3 1047.93 L516.7 1047.13 L519.1 1046.35 L521.4 1045.57 L523.8 1044.8 L526.2 1044.03 L528.6 1043.28 L530.9 1042.54 L533.3 1041.8 L535.7 1041.08 L538.1 1040.37 L540.4 1039.66 L542.8 1038.97 L545.2 1038.28 L547.6 1037.61 L549.9 1036.93 L552.3 1036.25 L554.7 1035.57 L557 1034.88 L559.4 1034.17 L561.8 1033.45 L564.2 1032.71 L566.5 1031.95 L568.9 1031.18 L571.3 1030.38 L573.7 1029.56 L576 1028.71 L578.4 1027.84 L580.8 1026.95 L583.2 1026.04 L585.5 1025.1 L587.9 1024.15 L590.3 1023.18 L592.7 1022.19 L595 1021.19 L597.4 1020.18 L599.8 1019.14 L602.2 1018.08 L604.5 1017 L606.9 1015.89 L609.3 1014.75 L611.7 1013.58 L614 1012.38 L616.4 1011.16 L618.8 1009.91 L621.2 1008.64 L623.5 1007.34 L625.9 1006.03 L628.3 1004.69 L630.7 1003.34 L633 1001.97 L635.4 1000.59 L637.8 999.18 L640.2 997.75 L642.5 996.29 L644.9 994.8 L647.3 993.26 L649.7 991.66 L652 989.99 L654.4 988.24 L656.8 986.41 L659.2 984.48 L661.5 982.46 L663.9 980.36 L666.3 978.2 L668.6 975.97 L671 973.7 L673.4 971.4 L675.8 969.08 L678.1 966.72 L680.5 964.33 L682.9 961.89 L685.3 959.38 L687.6 956.78 L690 954.09 L692.4 951.29 L694.8 948.4 L697.1 945.42 L699.5 942.39 L701.9 939.32 L704.3 936.25 L706.6 933.2 L709 930.18 L711.4 927.2 L713.8 924.27 L716.1 921.36 L718.5 918.48 M77.4 1145.11 L79.8 1145.11 L82.1 1145.11 L84.5 1145.11 L86.9 1145.11 L89.3 1145.11 L91.6 1145.12 L94 1145.12 L96.4 1145.12 L98.8 1145.13 L101.1 1145.13 L103.5 1145.13 L105.9 1145.14 L108.3 1145.14 L110.6 1145.15 L113 1145.15 L115.4 1145.16 L117.8 1145.16 L120.1 1145.17 L122.5 1145.17 L124.9 1145.17 L127.3 1145.17 L129.6 1145.17 L132 1145.16 L134.4 1145.14 L136.8 1145.12 L139.1 1145.08 L141.5 1145.04 L143.9 1144.99 L146.3 1144.92 L148.6 1144.84 L151 1144.75 L153.4 1144.64 L155.8 1144.52 L158.1 1144.38 L160.5 1144.22 L162.9 1144.04 L165.3 1143.86 L167.6 1143.66 L170 1143.45 L172.4 1143.23 L174.8 1143 L177.1 1142.75 L179.5 1142.48 L181.9 1142.19 L184.3 1141.88 L186.6 1141.53 L189 1141.16 L191.4 1140.75 L193.8 1140.31 L196.1 1139.83 L198.5 1139.33 L200.9 1138.8 L203.2 1138.25 L205.6 1137.68 L208 1137.1 L210.4 1136.5 L212.7 1135.89 L215.1 1135.28 L217.5 1134.66 L219.9 1134.03 L222.2 1133.4 L224.6 1132.76 L227 1132.11 L229.4 1131.45 L231.7 1130.77 L234.1 1130.07 L236.5 1129.34 L238.9 1128.58 L241.2 1127.79 L243.6 1126.96 L246 1126.1 L248.4 1125.22 L250.7 1124.32 L253.1 1123.41 L255.5 1122.5 L257.9 1121.59 L260.2 1120.69 L262.6 1119.79 L265 1118.91 L267.4 1118.05 L269.7 1117.19 L272.1 1116.34 L274.5 1115.51 L276.9 1114.68 L279.2 1113.86 L281.6 1113.06 L284 1112.26 L286.4 1111.49 L288.7 1110.73 L291.1 1109.99 L293.5 1109.27 L295.9 1108.58 L298.2 1107.91 L300.6 1107.25 L303 1106.62 L305.4 1106.01 L307.7 1105.42 L310.1 1104.85 L312.5 1104.3 L314.8 1103.77 L317.2 1103.26 L319.6 1102.76 L322 1102.28 L324.3 1101.82 L326.7 1101.38 L329.1 1100.96 L331.5 1100.55 L333.8 1100.17 L336.2 1099.8 L338.6 1099.47 L341 1099.15 L343.3 1098.86 L345.7 1098.58 L348.1 1098.32 L350.5 1098.08 L352.8 1097.84 L355.2 1097.61 L357.6 1097.38 L360 1097.15 L362.3 1096.91 L364.7 1096.67 L367.1 1096.41 L369.5 1096.14 L371.8 1095.86 L374.2 1095.56 L376.6 1095.24 L379 1094.9 L381.3 1094.54 L383.7 1094.16 L386.1 1093.75 L388.5 1093.33 L390.8 1092.89 L393.2 1092.45 L395.6 1091.99 L398 1091.53 L400.3 1091.06 L402.7 1090.59 L405.1 1090.11 L407.5 1089.63 L409.8 1089.14 L412.2 1088.65 L414.6 1088.15 L417 1087.65 L419.3 1087.14 L421.7 1086.62 L424.1 1086.1 L426.5 1085.58 L428.8 1085.05 L431.2 1084.52 L433.6 1083.98 L435.9 1083.43 L438.3 1082.87 L440.7 1082.31 L443.1 1081.74 L445.4 1081.17 L447.8 1080.59 L450.2 1080 L452.6 1079.4 L454.9 1078.8 L457.3 1078.2 L459.7 1077.6 L462.1 1076.99 L464.4 1076.39 L466.8 1075.79 L469.2 1075.19 L471.6 1074.59 L473.9 1073.98 L476.3 1073.38 L478.7 1072.77 L481.1 1072.15 L483.4 1071.52 L485.8 1070.88 L488.2 1070.23 L490.6 1069.56 L492.9 1068.88 L495.3 1068.17 L497.7 1067.45 L500.1 1066.71 L502.4 1065.96 L504.8 1065.19 L507.2 1064.4 L509.6 1063.61 L511.9 1062.82 L514.3 1062.03 L516.7 1061.24 L519.1 1060.45 L521.4 1059.68 L523.8 1058.91 L526.2 1058.15 L528.6 1057.4 L530.9 1056.66 L533.3 1055.92 L535.7 1055.2 L538.1 1054.48 L540.4 1053.77 L542.8 1053.07 L545.2 1052.37 L547.6 1051.68 L549.9 1050.98 L552.3 1050.28 L554.7 1049.57 L557 1048.85 L559.4 1048.12 L561.8 1047.37 L564.2 1046.6 L566.5 1045.81 L568.9 1045.01 L571.3 1044.19 L573.7 1043.36 L576 1042.51 L578.4 1041.64 L580.8 1040.75 L583.2 1039.85 L585.5 1038.94 L587.9 1038.02 L590.3 1037.09 L592.7 1036.16 L595 1035.21 L597.4 1034.25 L599.8 1033.27 L602.2 1032.28 L604.5 1031.26 L606.9 1030.22 L609.3 1029.15 L611.7 1028.05 L614 1026.93 L616.4 1025.78 L618.8 1024.6 L621.2 1023.4 L623.5 1022.16 L625.9 1020.91 L628.3 1019.62 L630.7 1018.32 L633 1016.99 L635.4 1015.64 L637.8 1014.27 L640.2 1012.89 L642.5 1011.5 L644.9 1010.09 L647.3 1008.68 L649.7 1007.25 L652 1005.8 L654.4 1004.32 L656.8 1002.79 L659.2 1001.19 L661.5 999.52 L663.9 997.75 L666.3 995.89 L668.6 993.93 L671 991.88 L673.4 989.74 L675.8 987.52 L678.1 985.22 L680.5 982.85 L682.9 980.42 L685.3 977.94 L687.6 975.41 L690 972.85 L692.4 970.25 L694.8 967.63 L697.1 965 L699.5 962.35 L701.9 959.69 L704.3 957.03 L706.6 954.39 L709 951.76 L711.4 949.16 L713.8 946.6 L716.1 944.06 L718.5 941.54" fill="none" stroke="#1f77b4" stroke-opacity="0.12" stroke-width="0.8" stroke-linejoin="round"/>
<path d="M718.5 939.9 L720.9 935.63 L723.3 931.35 L725.6 927.03 L728 922.68 L730.4 918.28 L732.8 913.83 L735.1 909.34 L737.5 904.79 L739.9 900.18 L742.3 895.5 L744.6 890.75 L747 885.91 L749.4 881 L751.8 876.04 L754.1 871.03 L756.5 865.98 L758.9 860.91 L761.3 855.8 L763.6 850.65 L766 845.46 L768.4 840.22 L770.8 834.97 L773.1 829.74 L775.5 824.57 L777.9 819.47 L780.3 814.44 L782.6 809.48 L785 804.55 M718.5 939.59 L720.9 936.84 L723.3 934.08 L725.6 931.3 L728 928.48 L730.4 925.62 L732.8 922.72 L735.1 919.78 L737.5 916.79 L739.9 913.75 L742.3 910.64 L744.6 907.45 L747 904.17 L749.4 900.83 L751.8 897.43 L754.1 894 L756.5 890.56 L758.9 887.11 L761.3 883.65 L763.6 880.18 L766 876.7 L768.4 873.23 L770.8 869.8 L773.1 866.45 L775.5 863.18 L777.9 860.04 L780.3 857 L782.6 854.05 L785 851.16" fill="none" stroke="#1f77b4" stroke-opacity="0.12" stroke-width="0.8" stroke-linejoin="round"/>
<line x1="77.5" x2="785.5" y1="1145.5" y2="1145.5" stroke="#b0b0b0" stroke-width="1.11"/>
<line x1="77.5" x2="785.5" y1="1064.5" y2="1064.5" stroke="#b0b0b0" stroke-width="1.11"/>
<line x1="77.5" x2="785.5" y1="984.5" y2="984.5" stroke="#b0b0b0" stroke-width="1.11"/>
<line x1="77.5" x2="785.5" y1="903.5" y2="903.5" stroke="#b0b0b0" stroke-width="1.11"/>
<line x1="77.5" x2="785.5" y1="822.5" y2="822.5" stroke="#b0b0b0" stroke-width="1.11"/>
<line x1="77.5" x2="785.5" y1="741.5" y2="741.5" stroke="#b0b0b0" stroke-width="1.11"/>
<line x1="77.5" x2="785.5" y1="660.5" y2="660.5" stroke="#b0b0b0" stroke-width="1.11"/>
<path d="M77.4 1145 L79.8 1145 L82.1 1145 L84.5 1145 L86.9 1145 L89.3 1145 L91.6 1145 L94 1145 L96.4 1145 L98.8 1145 L101.1 1145 L103.5 1145 L105.9 1145 L108.3 1145 L110.6 1145 L113 1145 L115.4 1145 L117.8 1145 L120.1 1145 L122.5 1145 L124.9 1144.99 L127.3 1144.98 L129.6 1144.97 L132 1144.95 L134.4 1144.93 L136.8 1144.9 L139.1 1144.85 L141.5 1144.8 L143.9 1144.74 L146.3 1144.66 L148.6 1144.57 L151 1144.47 L153.4 1144.34 L155.8 1144.19 L158.1 1144.03 L160.5 1143.85 L162.9 1143.64 L165.3 1143.43 L167.6 1143.19 L170 1142.95 L172.4 1142.69 L174.8 1142.41 L177.1 1142.12 L179.5 1141.81 L181.9 1141.47 L184.3 1141.11 L186.6 1140.72 L189 1140.3 L191.4 1139.84 L193.8 1139.35 L196.1 1138.83 L198.5 1138.28 L200.9 1137.7 L203.2 1137.1 L205.6 1136.48 L208 1135.84 L210.4 1135.2 L212.7 1134.54 L215.1 1133.88 L217.5 1133.21 L219.9 1132.53 L222.2 1131.86 L224.6 1131.17 L227 1130.48 L229.4 1129.77 L231.7 1129.04 L234.1 1128.29 L236.5 1127.5 L238.9 1126.69 L241.2 1125.83 L243.6 1124.93 L246 1123.99 L248.4 1123.02 L250.7 1122.03 L253.1 1121.01 L255.5 1119.98 L257.9 1118.94 L260.2 1117.91 L262.6 1116.87 L265 1115.84 L267.4 1114.81 L269.7 1113.79 L272.1 1112.8 L274.5 1111.82 L276.9 1110.87 L279.2 1109.94 L281.6 1109.05 L284 1108.18 L286.4 1107.35 L288.7 1106.54 L291.1 1105.77 L293.5 1105.03 L295.9 1104.31 L298.2 1103.63 L300.6 1102.98 L303 1102.36 L305.4 1101.76 L307.7 1101.19 L310.1 1100.64 L312.5 1100.11 L314.8 1099.6 L317.2 1099.11 L319.6 1098.63 L322 1098.16 L324.3 1097.7 L326.7 1097.26 L329.1 1096.83 L331.5 1096.42 L333.8 1096.03 L336.2 1095.66 L338.6 1095.31 L341 1094.98 L343.3 1094.67 L345.7 1094.38 L348.1 1094.1 L350.5 1093.83 L352.8 1093.57 L355.2 1093.3 L357.6 1093.03 L360 1092.75 L362.3 1092.46 L364.7 1092.16 L367.1 1091.85 L369.5 1091.52 L371.8 1091.18 L374.2 1090.83 L376.6 1090.46 L379 1090.08 L381.3 1089.67 L383.7 1089.25 L386.1 1088.81 L388.5 1088.35 L390.8 1087.89 L393.2 1087.41 L395.6 1086.92 L398 1086.43 L400.3 1085.93 L402.7 1085.43 L405.1 1084.93 L407.5 1084.43 L409.8 1083.93 L412.2 1083.42 L414.6 1082.91 L417 1082.4 L419.3 1081.88 L421.7 1081.37 L424.1 1080.84 L426.5 1080.32 L428.8 1079.79 L431.2 1079.25 L433.6 1078.71 L435.9 1078.16 L438.3 1077.61 L440.7 1077.05 L443.1 1076.48 L445.4 1075.9 L447.8 1075.32 L450.2 1074.73 L452.6 1074.13 L454.9 1073.53 L457.3 1072.92 L459.7 1072.3 L462.1 1071.68 L464.4 1071.05 L466.8 1070.42 L469.2 1069.78 L471.6 1069.13 L473.9 1068.47 L476.3 1067.81 L478.7 1067.14 L481.1 1066.45 L483.4 1065.77 L485.8 1065.07 L488.2 1064.36 L490.6 1063.64 L492.9 1062.92 L495.3 1062.18 L497.7 1061.43 L500.1 1060.67 L502.4 1059.9 L504.8 1059.12 L507.2 1058.33 L509.6 1057.53 L511.9 1056.73 L514.3 1055.94 L516.7 1055.14 L519.1 1054.36 L521.4 1053.58 L523.8 1052.81 L526.2 1052.05 L528.6 1051.3 L530.9 1050.56 L533.3 1049.82 L535.7 1049.1 L538.1 1048.38 L540.4 1047.68 L542.8 1046.98 L545.2 1046.29 L547.6 1045.6 L549.9 1044.91 L552.3 1044.22 L554.7 1043.52 L557 1042.82 L559.4 1042.09 L561.8 1041.35 L564.2 1040.6 L566.5 1039.83 L568.9 1039.03 L571.3 1038.22 L573.7 1037.4 L576 1036.55 L578.4 1035.68 L580.8 1034.79 L583.2 1033.88 L585.5 1032.96 L587.9 1032.03 L590.3 1031.08 L592.7 1030.12 L595 1029.16 L597.4 1028.17 L599.8 1027.17 L602.2 1026.15 L604.5 1025.1 L606.9 1024.03 L609.3 1022.93 L611.7 1021.8 L614 1020.65 L616.4 1019.46 L618.8 1018.26 L621.2 1017.02 L623.5 1015.76 L625.9 1014.48 L628.3 1013.17 L630.7 1011.85 L633 1010.5 L635.4 1009.14 L637.8 1007.75 L640.2 1006.35 L642.5 1004.93 L644.9 1003.49 L647.3 1002.02 L649.7 1000.52 L652 998.97 L654.4 997.38 L656.8 995.71 L659.2 993.97 L661.5 992.15 L663.9 990.24 L666.3 988.25 L668.6 986.17 L671 984.03 L673.4 981.82 L675.8 979.55 L678.1 977.23 L680.5 974.85 L682.9 972.42 L685.3 969.92 L687.6 967.36 L690 964.74 L692.4 962.06 L694.8 959.32 L697.1 956.54 L699.5 953.73 L701.9 950.9 L704.3 948.07 L706.6 945.26 L709 942.49 L711.4 939.76 L713.8 937.08 L716.1 934.44 L718.5 931.82" fill="none" stroke="#1f77b4" stroke-width="2.08" stroke-linejoin="round" stroke-linecap="square"/>
<path d="M718.5 939.71 L720.9 936.38 L723.3 933.05 L725.6 929.68 L728 926.29 L730.4 922.85 L732.8 919.37 L735.1 915.85 L737.5 912.28 L739.9 908.65 L742.3 904.97 L744.6 901.22 L747 897.4 L749.4 893.52 L751.8 889.57 L754.1 885.59 L756.5 881.57 L758.9 877.51 L761.3 873.41 L763.6 869.25 L766 865.04 L768.4 860.77 L770.8 856.49 L773.1 852.21 L775.5 847.99 L777.9 843.83 L780.3 839.74 L782.6 835.7 L785 831.69" fill="none" stroke="#1f77b4" stroke-width="2.08" stroke-linejoin="round" stroke-linecap="square"/>
<g fill="#ff7f0e" stroke="#ff7f0e" stroke-width="1.39"><circle cx="77.4" cy="1145" r="4.17"/><circle cx="79.77" cy="1145" r="4.17"/><circle cx="82.15" cy="1145" r="4.17"/><circle cx="84.52" cy="1145" r="4.17"/><circle cx="86.9" cy="1145" r="4.17"/><circle cx="89.27" cy="1145" r="4.17"/><circle cx="91.65" cy="1145" r="4.17"/><circle cx="94.02" cy="1145" r="4.17"/><circle cx="96.4" cy="1145" r="4.17"/><circle cx="98.77" cy="1145" r="4.17"/><circle cx="101.14" cy="1145" r="4.17"/><circle cx="103.52" cy="1145" r="4.17"/><circle cx="105.89" cy="1145" r="4.17"/><circle cx="108.27" cy="1145" r="4.17"/><circle cx="110.64" cy="1145" r="4.17"/><circle cx="113.02" cy="1145" r="4.17"/><circle cx="115.39" cy="1144.99" r="4.17"/><circle cx="117.77" cy="1144.98" r="4.17"/><circle cx="120.14" cy="1144.97" r="4.17"/><circle cx="122.52" cy="1144.97" r="4.17"/><circle cx="124.89" cy="1144.95" r="4.17"/><circle cx="127.26" cy="1144.93" r="4.17"/><circle cx="129.64" cy="1144.89" r="4.17"/><circle cx="132.01" cy="1144.85" r="4.17"/><circle cx="134.39" cy="1144.81" r="4.17"/><circle cx="136.76" cy="1144.79" r="4.17"/><circle cx="139.14" cy="1144.76" r="4.17"/><circle cx="141.51" cy="1144.71" r="4.17"/><circle cx="143.89" cy="1144.59" r="4.17"/><circle cx="146.26" cy="1144.43" r="4.17"/><circle cx="148.63" cy="1144.27" r="4.17"/><circle cx="151.01" cy="1144.16" r="4.17"/><circle cx="153.38" cy="1144.09" r="4.17"/><circle cx="155.76" cy="1144.02" r="4.17"/><circle cx="158.13" cy="1143.84" r="4.17"/><circle cx="160.51" cy="1143.48" r="4.17"/><circle cx="162.88" cy="1143.02" r="4.17"/><circle cx="165.26" cy="1142.59" r="4.17"/><circle cx="167.63" cy="1142.32" r="4.17"/><circle cx="170.01" cy="1142.2" r="4.17"/><circle cx="172.38" cy="1142.09" r="4.17"/><circle cx="174.75" cy="1141.81" r="4.17"/><circle cx="177.13" cy="1141.3" r="4.17"/><circle cx="179.5" cy="1140.66" r="4.17"/><circle cx="181.88" cy="1140.08" r="4.17"/><circle cx="184.25" cy="1139.71" r="4.17"/><circle cx="186.63" cy="1139.54" r="4.17"/><circle cx="189" cy="1139.37" r="4.17"/><circle cx="191.38" cy="1139" r="4.17"/><circle cx="193.75" cy="1138.32" r="4.17"/><circle cx="196.12" cy="1137.44" r="4.17"/><circle cx="198.5" cy="1136.63" r="4.17"/><circle cx="200.87" cy="1136.1" r="4.17"/><circle cx="203.25" cy="1135.83" r="4.17"/><circle cx="205.62" cy="1135.56" r="4.17"/><circle cx="208" cy="1134.95" r="4.17"/><circle cx="210.37" cy="1133.89" r="4.17"/><circle cx="212.75" cy="1132.61" r="4.17"/><circle cx="215.12" cy="1131.5" r="4.17"/><circle cx="217.5" cy="1130.84" r="4.17"/><circle cx="219.87" cy="1130.54" r="4.17"/><circle cx="222.24" cy="1130.25" r="4.17"/><circle cx="224.62" cy="1129.63" r="4.17"/><circle cx="226.99" cy="1128.6" r="4.17"/><circle cx="229.37" cy="1127.36" r="4.17"/><circle cx="231.74" cy="1126.28" r="4.17"/><circle cx="234.12" cy="1125.6" r="4.17"/><circle cx="236.49" cy="1125.29" r="4.17"/><circle cx="238.87" cy="1124.98" r="4.17"/><circle cx="241.24" cy="1124.24" r="4.17"/><circle cx="243.61" cy="1122.85" r="4.17"/><circle cx="245.99" cy="1121.08" r="4.17"/><circle cx="248.36" cy="1119.47" r="4.17"/><circle cx="250.74" cy="1118.45" r="4.17"/><circle cx="253.11" cy="1117.97" r="4.17"/><circle cx="255.49" cy="1117.49" r="4.17"/><circle cx="257.86" cy="1116.48" r="4.17"/><circle cx="260.24" cy="1114.8" r="4.17"/><circle cx="262.61" cy="1112.75" r="4.17"/><circle cx="264.99" cy="1110.95" r="4.17"/><circle cx="267.36" cy="1109.84" r="4.17"/><circle cx="269.73" cy="1109.3" r="4.17"/><circle cx="272.11" cy="1108.76" r="4.17"/><circle cx="274.48" cy="1107.67" r="4.17"/><circle cx="276.86" cy="1105.99" r="4.17"/><circle cx="279.23" cy="1104.17" r="4.17"/><circle cx="281.61" cy="1102.78" r="4.17"/><circle cx="283.98" cy="1102.02" r="4.17"/><circle cx="286.36" cy="1101.68" r="4.17"/><circle cx="288.73" cy="1101.33" r="4.17"/><circle cx="291.1" cy="1100.6" r="4.17"/><circle cx="293.48" cy="1099.45" r="4.17"/><circle cx="295.85" cy="1098.18" r="4.17"/><circle cx="298.23" cy="1097.17" r="4.17"/><circle cx="300.6" cy="1096.62" r="4.17"/><circle cx="302.98" cy="1096.38" r="4.17"/><circle cx="305.35" cy="1096.12" r="4.17"/><circle cx="307.73" cy="1095.59" r="4.17"/><circle cx="310.1" cy="1094.75" r="4.17"/><circle cx="312.48" cy="1093.83" r="4.17"/><circle cx="314.85" cy="1093.12" r="4.17"/><circle cx="317.22" cy="1092.73" r="4.17"/><circle cx="319.6" cy="1092.57" r="4.17"/><circle cx="321.97" cy="1092.41" r="4.17"/><circle cx="324.35" cy="1092.07" r="4.17"/><circle cx="326.72" cy="1091.56" r="4.17"/><circle cx="329.1" cy="1091" r="4.17"/><circle cx="331.47" cy="1090.55" r="4.17"/><circle cx="333.85" cy="1090.3" r="4.17"/><circle cx="336.22" cy="1090.19" r="4.17"/><circle cx="338.59" cy="1090.07" r="4.17"/><circle cx="340.97" cy="1089.81" r="4.17"/><circle cx="343.34" cy="1089.36" r="4.17"/><circle cx="345.72" cy="1088.84" r="4.17"/><circle cx="348.09" cy="1088.41" r="4.17"/><circle cx="350.47" cy="1088.16" r="4.17"/><circle cx="352.84" cy="1088.04" r="4.17"/><circle cx="355.22" cy="1087.92" r="4.17"/><circle cx="357.59" cy="1087.68" r="4.17"/><circle cx="359.97" cy="1087.29" r="4.17"/><circle cx="362.34" cy="1086.87" r="4.17"/><circle cx="364.71" cy="1086.55" r="4.17"/><circle cx="367.09" cy="1086.37" r="4.17"/><circle cx="369.46" cy="1086.29" r="4.17"/><circle cx="371.84" cy="1086.22" r="4.17"/><circle cx="374.21" cy="1086.05" r="4.17"/><circle cx="376.59" cy="1085.7" r="4.17"/><circle cx="378.96" cy="1085.23" r="4.17"/><circle cx="381.34" cy="1084.76" r="4.17"/><circle cx="383.71" cy="1084.42" r="4.17"/><circle cx="386.08" cy="1084.24" r="4.17"/><circle cx="388.46" cy="1084.06" r="4.17"/><circle cx="390.83" cy="1083.67" r="4.17"/><circle cx="393.21" cy="1083" r="4.17"/><circle cx="395.58" cy="1082.21" r="4.17"/><circle cx="397.96" cy="1081.54" r="4.17"/><circle cx="400.33" cy="1081.16" r="4.17"/><circle cx="402.71" cy="1080.99" r="4.17"/><circle cx="405.08" cy="1080.82" r="4.17"/><circle cx="407.46" cy="1080.45" r="4.17"/><circle cx="409.83" cy="1079.81" r="4.17"/><circle cx="412.2" cy="1079.06" r="4.17"/><circle cx="414.58" cy="1078.41" r="4.17"/><circle cx="416.95" cy="1078.02" r="4.17"/><circle cx="419.33" cy="1077.83" r="4.17"/><circle cx="421.7" cy="1077.65" r="4.17"/><circle cx="424.08" cy="1077.24" r="4.17"/><circle cx="426.45" cy="1076.55" r="4.17"/><circle cx="428.83" cy="1075.72" r="4.17"/><circle cx="431.2" cy="1075.01" r="4.17"/><circle cx="433.57" cy="1074.58" r="4.17"/><circle cx="435.95" cy="1074.38" r="4.17"/><circle cx="438.32" cy="1074.17" r="4.17"/><circle cx="440.7" cy="1073.74" r="4.17"/><circle cx="443.07" cy="1073.01" r="4.17"/><circle cx="445.45" cy="1072.17" r="4.17"/><circle cx="447.82" cy="1071.44" r="4.17"/><circle cx="450.2" cy="1071.01" r="4.17"/><circle cx="452.57" cy="1070.81" r="4.17"/><circle cx="454.94" cy="1070.61" r="4.17"/><circle cx="457.32" cy="1070.15" r="4.17"/><circle cx="459.69" cy="1069.3" r="4.17"/><circle cx="462.07" cy="1068.19" r="4.17"/><circle cx="464.44" cy="1067.16" r="4.17"/><circle cx="466.82" cy="1066.49" r="4.17"/><circle cx="469.19" cy="1066.16" r="4.17"/><circle cx="471.57" cy="1065.83" r="4.17"/><circle cx="473.94" cy="1065.13" r="4.17"/><circle cx="476.32" cy="1063.99" r="4.17"/><circle cx="478.69" cy="1062.66" r="4.17"/><circle cx="481.06" cy="1061.57" r="4.17"/><circle cx="483.44" cy="1060.93" r="4.17"/><circle cx="485.81" cy="1060.64" r="4.17"/><circle cx="488.19" cy="1060.34" r="4.17"/><circle cx="490.56" cy="1059.69" r="4.17"/><circle cx="492.94" cy="1058.62" r="4.17"/><circle cx="495.31" cy="1057.38" r="4.17"/><circle cx="497.69" cy="1056.35" r="4.17"/><circle cx="500.06" cy="1055.75" r="4.17"/><circle cx="502.43" cy="1055.48" r="4.17"/><circle cx="504.81" cy="1055.21" r="4.17"/><circle cx="507.18" cy="1054.63" r="4.17"/><circle cx="509.56" cy="1053.67" r="4.17"/><circle cx="511.93" cy="1052.55" r="4.17"/><circle cx="514.31" cy="1051.6" r="4.17"/><circle cx="516.68" cy="1051.03" r="4.17"/><circle cx="519.06" cy="1050.77" r="4.17"/><circle cx="521.43" cy="1050.51" r="4.17"/><circle cx="523.81" cy="1049.91" r="4.17"/><circle cx="526.18" cy="1048.91" r="4.17"/><circle cx="528.55" cy="1047.73" r="4.17"/><circle cx="530.93" cy="1046.73" r="4.17"/><circle cx="533.3" cy="1046.14" r="4.17"/><circle cx="535.68" cy="1045.87" r="4.17"/><circle cx="538.05" cy="1045.6" r="4.17"/><circle cx="540.43" cy="1045.05" r="4.17"/><circle cx="542.8" cy="1044.2" r="4.17"/><circle cx="545.18" cy="1043.26" r="4.17"/><circle cx="547.55" cy="1042.51" r="4.17"/><circle cx="549.92" cy="1042.07" r="4.17"/><circle cx="552.3" cy="1041.88" r="4.17"/><circle cx="554.67" cy="1041.7" r="4.17"/><circle cx="557.05" cy="1041.24" r="4.17"/><circle cx="559.42" cy="1040.38" r="4.17"/><circle cx="561.8" cy="1039.25" r="4.17"/><circle cx="564.17" cy="1038.19" r="4.17"/><circle cx="566.55" cy="1037.5" r="4.17"/><circle cx="568.92" cy="1037.17" r="4.17"/><circle cx="571.3" cy="1036.85" r="4.17"/><circle cx="573.67" cy="1036.13" r="4.17"/><circle cx="576.04" cy="1034.89" r="4.17"/><circle cx="578.42" cy="1033.47" r="4.17"/><circle cx="580.79" cy="1032.33" r="4.17"/><circle cx="583.17" cy="1031.69" r="4.17"/><circle cx="585.54" cy="1031.44" r="4.17"/><circle cx="587.92" cy="1031.18" r="4.17"/><circle cx="590.29" cy="1030.52" r="4.17"/><circle cx="592.67" cy="1029.36" r="4.17"/><circle cx="595.04" cy="1027.91" r="4.17"/><circle cx="597.41" cy="1026.62" r="4.17"/><circle cx="599.79" cy="1025.81" r="4.17"/><circle cx="602.16" cy="1025.41" r="4.17"/><circle cx="604.54" cy="1025.04" r="4.17"/><circle cx="606.91" cy="1024.19" r="4.17"/><circle cx="609.29" cy="1022.68" r="4.17"/><circle cx="611.66" cy="1020.78" r="4.17"/><circle cx="614.04" cy="1019.05" r="4.17"/><circle cx="616.41" cy="1017.94" r="4.17"/><circle cx="618.79" cy="1017.37" r="4.17"/><circle cx="621.16" cy="1016.77" r="4.17"/><circle cx="623.53" cy="1015.5" r="4.17"/><circle cx="625.91" cy="1013.38" r="4.17"/><circle cx="628.28" cy="1010.94" r="4.17"/><circle cx="630.66" cy="1008.97" r="4.17"/><circle cx="633.03" cy="1007.86" r="4.17"/><circle cx="635.41" cy="1007.38" r="4.17"/><circle cx="637.78" cy="1006.89" r="4.17"/><circle cx="640.16" cy="1005.8" r="4.17"/><circle cx="642.53" cy="1003.94" r="4.17"/><circle cx="644.9" cy="1001.7" r="4.17"/><circle cx="647.28" cy="999.78" r="4.17"/><circle cx="649.65" cy="998.64" r="4.17"/><circle cx="652.03" cy="998.13" r="4.17"/><circle cx="654.4" cy="997.63" r="4.17"/><circle cx="656.78" cy="996.47" r="4.17"/><circle cx="659.15" cy="994.32" r="4.17"/><circle cx="661.53" cy="991.53" r="4.17"/><circle cx="663.9" cy="988.92" r="4.17"/><circle cx="666.28" cy="987.26" r="4.17"/><circle cx="668.65" cy="986.46" r="4.17"/><circle cx="671.02" cy="985.56" r="4.17"/><circle cx="673.4" cy="983.83" r="4.17"/><circle cx="675.77" cy="981.37" r="4.17"/><circle cx="678.15" cy="978.84" r="4.17"/><circle cx="680.52" cy="976.7" r="4.17"/><circle cx="682.9" cy="975.21" r="4.17"/><circle cx="685.27" cy="974.18" r="4.17"/><circle cx="687.65" cy="973" r="4.17"/><circle cx="690.02" cy="970.79" r="4.17"/><circle cx="692.39" cy="967.14" r="4.17"/><circle cx="694.77" cy="962.73" r="4.17"/><circle cx="697.14" cy="959.03" r="4.17"/><circle cx="699.52" cy="956.91" r="4.17"/><circle cx="701.89" cy="956.06" r="4.17"/><circle cx="704.27" cy="955.16" r="4.17"/><circle cx="706.64" cy="952.77" r="4.17"/><circle cx="709.02" cy="948.57" r="4.17"/><circle cx="711.39" cy="944.03" r="4.17"/><circle cx="713.77" cy="942.72" r="4.17"/><circle cx="716.14" cy="941.11" r="4.17"/><circle cx="718.51" cy="939.3" r="4.17"/><circle cx="720.89" cy="936.7" r="4.17"/><circle cx="723.26" cy="934.2" r="4.17"/><circle cx="725.64" cy="928.01" r="4.17"/><circle cx="728.01" cy="920.69" r="4.17"/><circle cx="730.39" cy="916.01" r="4.17"/><circle cx="732.76" cy="912.7" r="4.17"/><circle cx="735.14" cy="910.2" r="4.17"/><circle cx="737.51" cy="909.3" r="4.17"/><circle cx="739.88" cy="901.28" r="4.17"/><circle cx="742.26" cy="893" r="4.17"/><circle cx="744.63" cy="887.3" r="4.17"/><circle cx="747.01" cy="885.3" r="4.17"/><circle cx="749.38" cy="883.8" r="4.17"/><circle cx="751.76" cy="880.01" r="4.17"/><circle cx="754.13" cy="875" r="4.17"/><circle cx="756.51" cy="871.01" r="4.17"/><circle cx="758.88" cy="867.7" r="4.17"/><circle cx="761.26" cy="859.71" r="4.17"/><circle cx="763.63" cy="856.3" r="4.17"/><circle cx="766" cy="852.29" r="4.17"/><circle cx="768.38" cy="846.3" r="4.17"/><circle cx="770.75" cy="843.7" r="4.17"/><circle cx="773.13" cy="841" r="4.17"/><circle cx="775.5" cy="837.7" r="4.17"/><circle cx="777.88" cy="834.3" r="4.17"/><circle cx="780.25" cy="833.3" r="4.17"/><circle cx="782.63" cy="832.9" r="4.17"/><circle cx="785" cy="832.6" r="4.17"/></g>
<line x1="719" x2="719" y1="1144.5" y2="592.5" stroke="#1f77b4" stroke-opacity="0.5" stroke-width="2.08" stroke-dasharray="7.71 3.33"/>
</g>
<rect x="77.5" y="592.5" width="708" height="553" fill="none" stroke="#000" stroke-width="1.11"/>
<line x1="72.64" x2="77.5" y1="1145.5" y2="1145.5" stroke="#000" stroke-width="1.11"/>
<text x="68.6" y="1150.5" text-anchor="end" letter-spacing="-0.3">0</text>
<line x1="72.64" x2="77.5" y1="1064.5" y2="1064.5" stroke="#000" stroke-width="1.11"/>
<text x="67.4" y="1069.5" text-anchor="end" letter-spacing="-0.3">1000</text>
<line x1="72.64" x2="77.5" y1="984.5" y2="984.5" stroke="#000" stroke-width="1.11"/>
<text x="68" y="988.5" text-anchor="end" letter-spacing="-0.3">2000</text>
<line x1="72.64" x2="77.5" y1="903.5" y2="903.5" stroke="#000" stroke-width="1.11"/>
<text x="67" y="907.5" text-anchor="end" letter-spacing="-0.3">3000</text>
<line x1="72.64" x2="77.5" y1="822.5" y2="822.5" stroke="#000" stroke-width="1.11"/>
<text x="67" y="826.5" text-anchor="end" letter-spacing="-0.3">4000</text>
<line x1="72.64" x2="77.5" y1="741.5" y2="741.5" stroke="#000" stroke-width="1.11"/>
<text x="67.4" y="746.5" text-anchor="end" letter-spacing="-0.3">5000</text>
<line x1="72.64" x2="77.5" y1="660.5" y2="660.5" stroke="#000" stroke-width="1.11"/>
<text x="68.1" y="665.5" text-anchor="end" letter-spacing="-0.3">6000</text>
<line x1="77.5" x2="77.5" y1="1145.5" y2="1150.36" stroke="#000" stroke-width="1.11"/>
<line x1="89.5" x2="89.5" y1="1145.5" y2="1148.28" stroke="#000" stroke-width="0.83"/>
<line x1="106.5" x2="106.5" y1="1145.5" y2="1148.28" stroke="#000" stroke-width="0.83"/>
<line x1="123.5" x2="123.5" y1="1145.5" y2="1148.28" stroke="#000" stroke-width="0.83"/>
<line x1="139.5" x2="139.5" y1="1145.5" y2="1148.28" stroke="#000" stroke-width="0.83"/>
<line x1="144.5" x2="144.5" y1="1145.5" y2="1150.36" stroke="#000" stroke-width="1.11"/>
<text x="143.59" y="1166.1" text-anchor="middle" letter-spacing="-0.25">Apr</text>
<text x="143.59" y="1182.1" text-anchor="middle">2020</text>
<line x1="156.5" x2="156.5" y1="1145.5" y2="1148.28" stroke="#000" stroke-width="0.83"/>
<line x1="172.5" x2="172.5" y1="1145.5" y2="1148.28" stroke="#000" stroke-width="0.83"/>
<line x1="189.5" x2="189.5" y1="1145.5" y2="1148.28" stroke="#000" stroke-width="0.83"/>
<line x1="206.5" x2="206.5" y1="1145.5" y2="1148.28" stroke="#000" stroke-width="0.83"/>
<line x1="215.5" x2="215.5" y1="1145.5" y2="1150.36" stroke="#000" stroke-width="1.11"/>
<text x="214.82" y="1166.1" text-anchor="middle" letter-spacing="-0.25">May</text>
<line x1="222.5" x2="222.5" y1="1145.5" y2="1148.28" stroke="#000" stroke-width="0.83"/>
<line x1="239.5" x2="239.5" y1="1145.5" y2="1148.28" stroke="#000" stroke-width="0.83"/>
<line x1="255.5" x2="255.5" y1="1145.5" y2="1148.28" stroke="#000" stroke-width="0.83"/>
<line x1="272.5" x2="272.5" y1="1145.5" y2="1148.28" stroke="#000" stroke-width="0.83"/>
<line x1="289.5" x2="289.5" y1="1145.5" y2="1150.36" stroke="#000" stroke-width="1.11"/>
<text x="288.43" y="1166.1" text-anchor="middle" letter-spacing="-0.25">Jun</text>
<line x1="305.5" x2="305.5" y1="1145.5" y2="1148.28" stroke="#000" stroke-width="0.83"/>
<line x1="322.5" x2="322.5" y1="1145.5" y2="1148.28" stroke="#000" stroke-width="0.83"/>
<line x1="339.5" x2="339.5" y1="1145.5" y2="1148.28" stroke="#000" stroke-width="0.83"/>
<line x1="355.5" x2="355.5" y1="1145.5" y2="1148.28" stroke="#000" stroke-width="0.83"/>
<line x1="360.5" x2="360.5" y1="1145.5" y2="1150.36" stroke="#000" stroke-width="1.11"/>
<text x="359.67" y="1166.1" text-anchor="middle" letter-spacing="-0.25">Jul</text>
<line x1="372.5" x2="372.5" y1="1145.5" y2="1148.28" stroke="#000" stroke-width="0.83"/>
<line x1="388.5" x2="388.5" y1="1145.5" y2="1148.28" stroke="#000" stroke-width="0.83"/>
<line x1="405.5" x2="405.5" y1="1145.5" y2="1148.28" stroke="#000" stroke-width="0.83"/>
<line x1="422.5" x2="422.5" y1="1145.5" y2="1148.28" stroke="#000" stroke-width="0.83"/>
<line x1="434.5" x2="434.5" y1="1145.5" y2="1150.36" stroke="#000" stroke-width="1.11"/>
<text x="433.27" y="1166.1" text-anchor="middle" letter-spacing="-0.25">Aug</text>
<line x1="438.5" x2="438.5" y1="1145.5" y2="1148.28" stroke="#000" stroke-width="0.83"/>
<line x1="455.5" x2="455.5" y1="1145.5" y2="1148.28" stroke="#000" stroke-width="0.83"/>
<line x1="472.5" x2="472.5" y1="1145.5" y2="1148.28" stroke="#000" stroke-width="0.83"/>
<line x1="488.5" x2="488.5" y1="1145.5" y2="1148.28" stroke="#000" stroke-width="0.83"/>
<line x1="505.5" x2="505.5" y1="1145.5" y2="1148.28" stroke="#000" stroke-width="0.83"/>
<line x1="507.5" x2="507.5" y1="1145.5" y2="1150.36" stroke="#000" stroke-width="1.11"/>
<text x="506.88" y="1166.1" text-anchor="middle" letter-spacing="-0.25">Sep</text>
<line x1="521.5" x2="521.5" y1="1145.5" y2="1148.28" stroke="#000" stroke-width="0.83"/>
<line x1="538.5" x2="538.5" y1="1145.5" y2="1148.28" stroke="#000" stroke-width="0.83"/>
<line x1="555.5" x2="555.5" y1="1145.5" y2="1148.28" stroke="#000" stroke-width="0.83"/>
<line x1="571.5" x2="571.5" y1="1145.5" y2="1148.28" stroke="#000" stroke-width="0.83"/>
<line x1="578.5" x2="578.5" y1="1145.5" y2="1150.36" stroke="#000" stroke-width="1.11"/>
<text x="578.12" y="1166.1" text-anchor="middle" letter-spacing="-0.25">Oct</text>
<line x1="588.5" x2="588.5" y1="1145.5" y2="1148.28" stroke="#000" stroke-width="0.83"/>
<line x1="605.5" x2="605.5" y1="1145.5" y2="1148.28" stroke="#000" stroke-width="0.83"/>
<line x1="621.5" x2="621.5" y1="1145.5" y2="1148.28" stroke="#000" stroke-width="0.83"/>
<line x1="638.5" x2="638.5" y1="1145.5" y2="1148.28" stroke="#000" stroke-width="0.83"/>
<line x1="652.5" x2="652.5" y1="1145.5" y2="1150.36" stroke="#000" stroke-width="1.11"/>
<text x="651.73" y="1166.1" text-anchor="middle" letter-spacing="-0.25">Nov</text>
<line x1="654.5" x2="654.5" y1="1145.5" y2="1148.28" stroke="#000" stroke-width="0.83"/>
<line x1="671.5" x2="671.5" y1="1145.5" y2="1148.28" stroke="#000" stroke-width="0.83"/>
<line x1="688.5" x2="688.5" y1="1145.5" y2="1148.28" stroke="#000" stroke-width="0.83"/>
<line x1="704.5" x2="704.5" y1="1145.5" y2="1148.28" stroke="#000" stroke-width="0.83"/>
<line x1="721.5" x2="721.5" y1="1145.5" y2="1148.28" stroke="#000" stroke-width="0.83"/>
<line x1="723.5" x2="723.5" y1="1145.5" y2="1150.36" stroke="#000" stroke-width="1.11"/>
<text x="722.96" y="1166.1" text-anchor="middle" letter-spacing="-0.25">Dec</text>
<line x1="738.5" x2="738.5" y1="1145.5" y2="1148.28" stroke="#000" stroke-width="0.83"/>
<line x1="754.5" x2="754.5" y1="1145.5" y2="1148.28" stroke="#000" stroke-width="0.83"/>
<line x1="771.5" x2="771.5" y1="1145.5" y2="1148.28" stroke="#000" stroke-width="0.83"/>
<line x1="785.5" x2="785.5" y1="1145.5" y2="1150.36" stroke="#000" stroke-width="1.11"/>
<rect x="84.44" y="599.44" width="98.2" height="25" rx="2.8" ry="2.8" fill="#fff" fill-opacity="0.8" stroke="#ccc" stroke-opacity="0.8" stroke-width="1.39"/>
<line x1="90" x2="117.78" y1="610" y2="610" stroke="#1f77b4" stroke-width="2.08" stroke-linecap="square"/>
<text x="128.39" y="614.5">deaths</text>
<text x="397.0" y="36.1" text-anchor="middle" font-size="16.67px" letter-spacing="0.08">Iowa 28 days</text>
</svg>
</body>
</html>
